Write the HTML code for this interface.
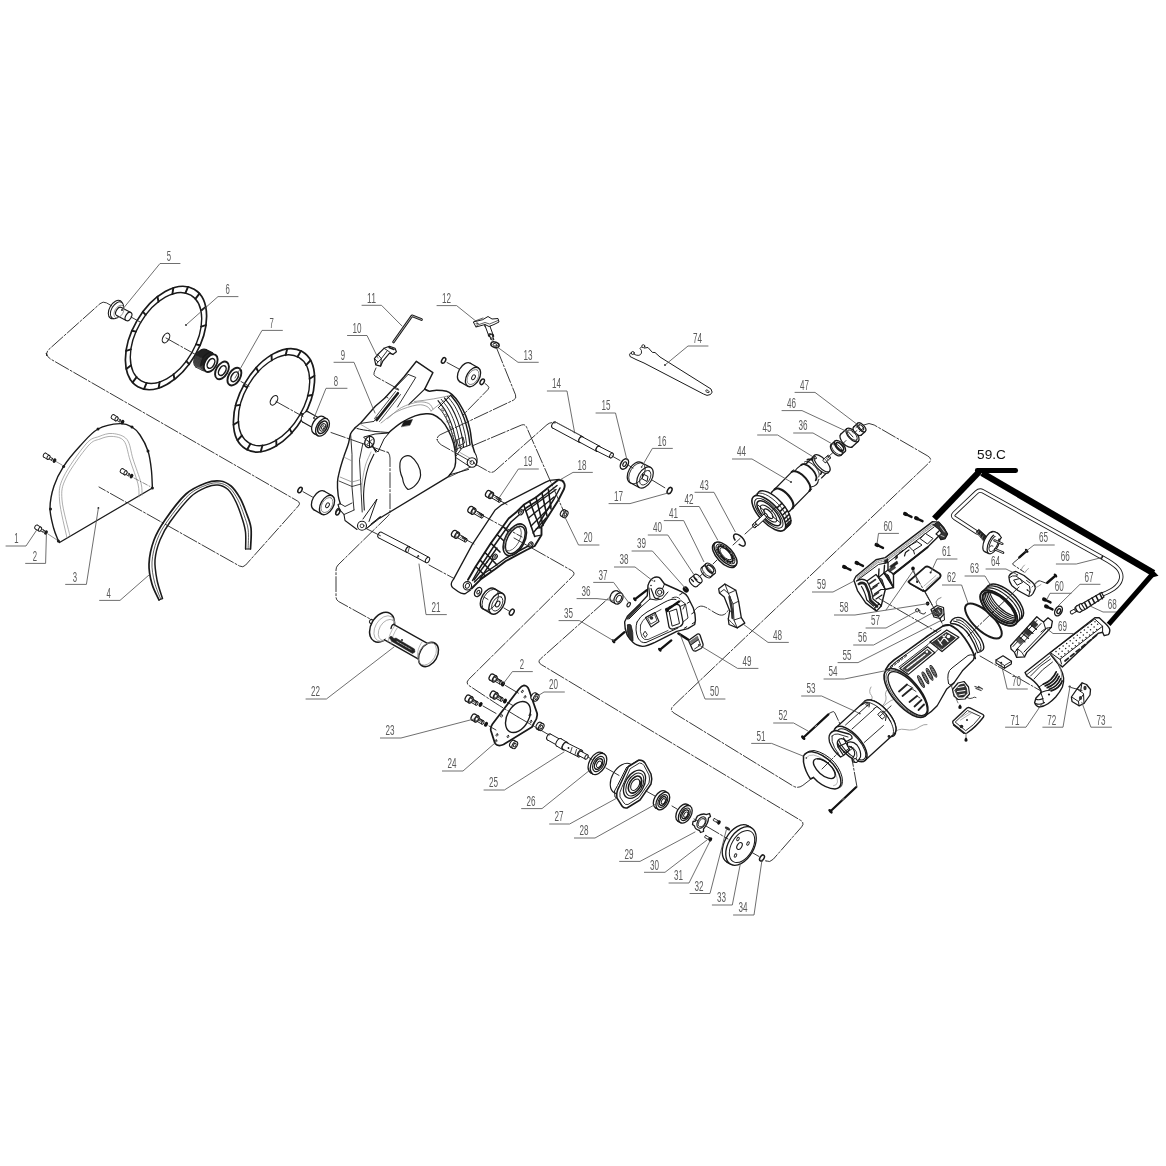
<!DOCTYPE html>
<html><head><meta charset="utf-8"><title>Exploded view</title>
<style>
html,body{margin:0;padding:0;background:#fff}
svg{display:block;will-change:transform}
.lb{font-family:"Liberation Sans",sans-serif;font-size:14.2px;fill:#5a5a5a;text-anchor:middle}
.ld{fill:none;stroke:#555;stroke-width:.85}
.dd{fill:none;stroke:#222;stroke-width:.9;stroke-dasharray:15 2 2 2}
.t59{font-family:"Liberation Sans",sans-serif;font-size:12.7px;fill:#111}
</style></head><body>
<svg width="1166" height="1166" viewBox="0 0 1166 1166" stroke-linecap="round" stroke-linejoin="round">
<ellipse cx="115.5" cy="309.5" rx="10" ry="6.00" transform="rotate(-60 115.5 309.5)" fill="#fff" stroke="#1a1a1a" stroke-width="1.1" />
<ellipse cx="117" cy="310.3" rx="9.2" ry="5.50" transform="rotate(-60 117 310.3)" fill="#fff" stroke="#1a1a1a" stroke-width="1" />
<ellipse cx="119" cy="311.5" rx="4.6" ry="2.80" transform="rotate(-60 119 311.5)" fill="#fff" stroke="#1a1a1a" stroke-width="1.1" />
<path d="M121.3 307.5162831425916 L130.8 312.5162831425916 L126.2 320.4837168574084 L116.7 315.4837168574084 Z" fill="#fff" stroke="none" stroke-width="0" />
<line x1="121.3" y1="307.5" x2="130.8" y2="312.5" stroke="#1a1a1a" stroke-width="1.1" />
<line x1="116.7" y1="315.5" x2="126.2" y2="320.5" stroke="#1a1a1a" stroke-width="1.1" />
<ellipse cx="128.5" cy="316.5" rx="4.6" ry="2.80" transform="rotate(-60 128.5 316.5)" fill="#fff" stroke="#1a1a1a" stroke-width="1.1" />
<ellipse cx="119" cy="311.5" rx="7" ry="4.20" transform="rotate(-60 119 311.5)" fill="none" stroke="#777" stroke-width="0.7" />
<circle cx="122" cy="310" r="0.9" fill="#1a1a1a"/>
<ellipse cx="166" cy="338" rx="56.3" ry="33.78" transform="rotate(-60 166 338)" fill="#fff" stroke="#1a1a1a" stroke-width="1.7" />
<ellipse cx="166" cy="338" rx="49.5" ry="29.70" transform="rotate(-60 166 338)" fill="none" stroke="#1a1a1a" stroke-width="1.4" />
<line x1="199.4" y1="293.6" x2="195.4" y2="298.9" stroke="#1a1a1a" stroke-width="1.9" />
<line x1="205.7" y1="307.0" x2="200.9" y2="310.7" stroke="#1a1a1a" stroke-width="1.9" />
<line x1="205.9" y1="325.1" x2="201.1" y2="326.7" stroke="#1a1a1a" stroke-width="1.9" />
<line x1="200.1" y1="345.2" x2="196.0" y2="344.4" stroke="#1a1a1a" stroke-width="1.9" />
<line x1="189.1" y1="364.2" x2="186.3" y2="361.1" stroke="#1a1a1a" stroke-width="1.9" />
<line x1="174.5" y1="379.2" x2="173.5" y2="374.3" stroke="#1a1a1a" stroke-width="1.9" />
<line x1="158.7" y1="388.0" x2="159.6" y2="381.9" stroke="#1a1a1a" stroke-width="1.9" />
<line x1="144.0" y1="389.1" x2="146.6" y2="382.9" stroke="#1a1a1a" stroke-width="1.9" />
<line x1="132.6" y1="382.4" x2="136.6" y2="377.1" stroke="#1a1a1a" stroke-width="1.9" />
<line x1="126.3" y1="369.0" x2="131.1" y2="365.3" stroke="#1a1a1a" stroke-width="1.9" />
<line x1="126.1" y1="350.9" x2="130.9" y2="349.3" stroke="#1a1a1a" stroke-width="1.9" />
<line x1="131.9" y1="330.8" x2="136.0" y2="331.6" stroke="#1a1a1a" stroke-width="1.9" />
<line x1="142.9" y1="311.8" x2="145.7" y2="314.9" stroke="#1a1a1a" stroke-width="1.9" />
<line x1="157.5" y1="296.8" x2="158.5" y2="301.7" stroke="#1a1a1a" stroke-width="1.9" />
<line x1="173.3" y1="288.0" x2="172.4" y2="294.1" stroke="#1a1a1a" stroke-width="1.9" />
<line x1="188.0" y1="286.9" x2="185.4" y2="293.1" stroke="#1a1a1a" stroke-width="1.9" />
<ellipse cx="166" cy="338" rx="5.3" ry="3.10" transform="rotate(-60 166 338)" fill="#fff" stroke="#1a1a1a" stroke-width="1.1" />
<circle cx="186" cy="325" r="0.9" fill="#1a1a1a"/>
<ellipse cx="201" cy="358.2" rx="10" ry="6.00" transform="rotate(-60 201 358.2)" fill="#222" stroke="#1a1a1a" stroke-width="1.2" />
<path d="M206.0 349.5397459621556 L212.5 352.93974596215565 L202.5 370.2602540378444 L196.0 366.86025403784436 Z" fill="#222" stroke="none" stroke-width="0" />
<line x1="206.0" y1="349.5" x2="212.5" y2="352.9" stroke="#1a1a1a" stroke-width="1.2" />
<line x1="196.0" y1="366.9" x2="202.5" y2="370.3" stroke="#1a1a1a" stroke-width="1.2" />
<ellipse cx="207.5" cy="361.6" rx="10" ry="6.00" transform="rotate(-60 207.5 361.6)" fill="#222" stroke="#1a1a1a" stroke-width="1.2" />
<path d="M206.5 361.4 L205.8 362.5 L205.0 363.5 L204.2 364.5 L203.3 365.3 L202.4 366.1 L201.4 366.6 L200.5 367.1 L199.6 367.4 L198.7 367.5 L197.8 367.5 L197.0 367.4 L196.3 367.1 L195.7 366.6 L195.1 366.0 L194.7 365.3 L194.4 364.4 L194.2 363.4 L194.1 362.4 L194.1 361.3 L194.3 360.1 L194.6 358.9 L195.0 357.7 L195.5 356.6 L196.1 355.4" fill="none" stroke="#888" stroke-width="0.35" />
<path d="M207.4 361.9 L206.7 363.0 L206.0 364.0 L205.1 365.0 L204.2 365.8 L203.3 366.6 L202.4 367.1 L201.4 367.6 L200.5 367.9 L199.6 368.0 L198.8 368.0 L198.0 367.9 L197.2 367.6 L196.6 367.1 L196.1 366.5 L195.6 365.8 L195.3 364.9 L195.1 363.9 L195.0 362.9 L195.1 361.8 L195.2 360.6 L195.5 359.4 L195.9 358.2 L196.4 357.1 L197.1 355.9" fill="none" stroke="#888" stroke-width="0.35" />
<path d="M208.4 362.4 L207.7 363.5 L206.9 364.5 L206.1 365.5 L205.2 366.3 L204.3 367.1 L203.3 367.6 L202.4 368.1 L201.5 368.4 L200.6 368.5 L199.7 368.5 L198.9 368.4 L198.2 368.1 L197.6 367.6 L197.0 367.0 L196.6 366.3 L196.3 365.4 L196.1 364.4 L196.0 363.4 L196.0 362.3 L196.2 361.1 L196.5 359.9 L196.9 358.7 L197.4 357.6 L198.0 356.4" fill="none" stroke="#888" stroke-width="0.35" />
<path d="M209.3 362.9 L208.6 364.0 L207.9 365.0 L207.0 366.0 L206.2 366.8 L205.2 367.6 L204.3 368.1 L203.3 368.6 L202.4 368.9 L201.5 369.0 L200.7 369.0 L199.9 368.9 L199.2 368.6 L198.5 368.1 L198.0 367.5 L197.5 366.8 L197.2 365.9 L197.0 364.9 L196.9 363.9 L197.0 362.8 L197.2 361.6 L197.4 360.4 L197.8 359.2 L198.3 358.1 L199.0 356.9" fill="none" stroke="#888" stroke-width="0.35" />
<path d="M210.3 363.4 L209.6 364.5 L208.8 365.5 L208.0 366.5 L207.1 367.3 L206.2 368.1 L205.2 368.6 L204.3 369.1 L203.4 369.4 L202.5 369.5 L201.6 369.5 L200.8 369.4 L200.1 369.1 L199.5 368.6 L198.9 368.0 L198.5 367.3 L198.2 366.4 L198.0 365.4 L197.9 364.4 L197.9 363.3 L198.1 362.1 L198.4 360.9 L198.8 359.7 L199.3 358.6 L199.9 357.4" fill="none" stroke="#888" stroke-width="0.35" />
<path d="M211.2 363.9 L210.5 365.0 L209.8 366.0 L208.9 367.0 L208.1 367.8 L207.1 368.6 L206.2 369.1 L205.2 369.6 L204.3 369.9 L203.4 370.0 L202.6 370.0 L201.8 369.9 L201.1 369.6 L200.4 369.1 L199.9 368.5 L199.4 367.8 L199.1 366.9 L198.9 365.9 L198.8 364.9 L198.9 363.8 L199.1 362.6 L199.3 361.4 L199.7 360.2 L200.2 359.1 L200.9 357.9" fill="none" stroke="#888" stroke-width="0.35" />
<path d="M212.2 364.4 L211.5 365.5 L210.7 366.5 L209.9 367.5 L209.0 368.3 L208.1 369.1 L207.1 369.6 L206.2 370.1 L205.3 370.4 L204.4 370.5 L203.5 370.5 L202.7 370.4 L202.0 370.1 L201.4 369.6 L200.8 369.0 L200.4 368.3 L200.1 367.4 L199.9 366.4 L199.8 365.4 L199.8 364.3 L200.0 363.1 L200.3 361.9 L200.7 360.7 L201.2 359.6 L201.8 358.4" fill="none" stroke="#888" stroke-width="0.35" />
<ellipse cx="210.7" cy="363.2" rx="9.6" ry="5.80" transform="rotate(-60 210.7 363.2)" fill="#fff" stroke="#1a1a1a" stroke-width="1.9" />
<ellipse cx="211" cy="363.4" rx="5.3" ry="3.20" transform="rotate(-60 211 363.4)" fill="none" stroke="#1a1a1a" stroke-width="1.5" />
<ellipse cx="222" cy="370.4" rx="9.6" ry="5.80" transform="rotate(-60 222 370.4)" fill="#fff" stroke="#1a1a1a" stroke-width="1.9" />
<ellipse cx="222.3" cy="370.6" rx="5.3" ry="3.20" transform="rotate(-60 222.3 370.6)" fill="none" stroke="#1a1a1a" stroke-width="1.5" />
<ellipse cx="234.4" cy="376.6" rx="9.6" ry="5.80" transform="rotate(-60 234.4 376.6)" fill="#fff" stroke="#1a1a1a" stroke-width="1.9" />
<ellipse cx="234.7" cy="376.8" rx="5.3" ry="3.20" transform="rotate(-60 234.7 376.8)" fill="none" stroke="#1a1a1a" stroke-width="1.5" />
<ellipse cx="274" cy="400.3" rx="56.3" ry="33.78" transform="rotate(-60 274 400.3)" fill="#fff" stroke="#1a1a1a" stroke-width="1.7" />
<ellipse cx="274" cy="400.3" rx="49.5" ry="29.70" transform="rotate(-60 274 400.3)" fill="none" stroke="#1a1a1a" stroke-width="1.4" />
<line x1="310.5" y1="360.3" x2="306.1" y2="365.1" stroke="#1a1a1a" stroke-width="1.9" />
<line x1="314.5" y1="375.8" x2="309.6" y2="378.8" stroke="#1a1a1a" stroke-width="1.9" />
<line x1="312.4" y1="395.0" x2="307.8" y2="395.7" stroke="#1a1a1a" stroke-width="1.9" />
<line x1="304.4" y1="415.1" x2="300.8" y2="413.3" stroke="#1a1a1a" stroke-width="1.9" />
<line x1="291.8" y1="432.9" x2="289.7" y2="428.9" stroke="#1a1a1a" stroke-width="1.9" />
<line x1="276.5" y1="445.7" x2="276.2" y2="440.2" stroke="#1a1a1a" stroke-width="1.9" />
<line x1="260.8" y1="451.6" x2="262.4" y2="445.4" stroke="#1a1a1a" stroke-width="1.9" />
<line x1="247.1" y1="449.7" x2="250.4" y2="443.8" stroke="#1a1a1a" stroke-width="1.9" />
<line x1="237.5" y1="440.3" x2="241.9" y2="435.5" stroke="#1a1a1a" stroke-width="1.9" />
<line x1="233.5" y1="424.8" x2="238.4" y2="421.8" stroke="#1a1a1a" stroke-width="1.9" />
<line x1="235.6" y1="405.6" x2="240.2" y2="404.9" stroke="#1a1a1a" stroke-width="1.9" />
<line x1="243.6" y1="385.5" x2="247.2" y2="387.3" stroke="#1a1a1a" stroke-width="1.9" />
<line x1="256.2" y1="367.7" x2="258.3" y2="371.7" stroke="#1a1a1a" stroke-width="1.9" />
<line x1="271.5" y1="354.9" x2="271.8" y2="360.4" stroke="#1a1a1a" stroke-width="1.9" />
<line x1="287.2" y1="349.0" x2="285.6" y2="355.2" stroke="#1a1a1a" stroke-width="1.9" />
<line x1="300.9" y1="350.9" x2="297.6" y2="356.8" stroke="#1a1a1a" stroke-width="1.9" />
<ellipse cx="274" cy="400.3" rx="5.3" ry="3.10" transform="rotate(-60 274 400.3)" fill="#fff" stroke="#1a1a1a" stroke-width="1.1" />
<ellipse cx="305.5" cy="417" rx="5.8" ry="3.50" transform="rotate(-60 305.5 417)" fill="#fff" stroke="#1a1a1a" stroke-width="1.1" />
<path d="M308.4 411.97705265805024 L319.9 418.47705265805024 L314.1 428.52294734194976 L302.6 422.02294734194976 Z" fill="#fff" stroke="none" stroke-width="0" />
<line x1="308.4" y1="412.0" x2="319.9" y2="418.5" stroke="#1a1a1a" stroke-width="1.1" />
<line x1="302.6" y1="422.0" x2="314.1" y2="428.5" stroke="#1a1a1a" stroke-width="1.1" />
<ellipse cx="317" cy="423.5" rx="5.8" ry="3.50" transform="rotate(-60 317 423.5)" fill="#fff" stroke="#1a1a1a" stroke-width="1.1" />
<ellipse cx="318.5" cy="425" rx="9.6" ry="5.80" transform="rotate(-60 318.5 425)" fill="#fff" stroke="#1a1a1a" stroke-width="1.3" />
<path d="M323.3 416.6861561236694 L327.3 418.9861561236694 L317.7 435.61384387633063 L313.7 433.3138438763306 Z" fill="#fff" stroke="none" stroke-width="0" />
<line x1="323.3" y1="416.7" x2="327.3" y2="419.0" stroke="#1a1a1a" stroke-width="1.3" />
<line x1="313.7" y1="433.3" x2="317.7" y2="435.6" stroke="#1a1a1a" stroke-width="1.3" />
<ellipse cx="322.5" cy="427.3" rx="9.6" ry="5.80" transform="rotate(-60 322.5 427.3)" fill="#fff" stroke="#1a1a1a" stroke-width="1.3" />
<ellipse cx="322.5" cy="427.3" rx="6.8" ry="4.10" transform="rotate(-60 322.5 427.3)" fill="none" stroke="#1a1a1a" stroke-width="1.6" />
<ellipse cx="322.7" cy="427.4" rx="4" ry="2.40" transform="rotate(-60 322.7 427.4)" fill="none" stroke="#1a1a1a" stroke-width="1" />
<ellipse cx="322.8" cy="427.5" rx="2" ry="1.20" transform="rotate(-60 322.8 427.5)" fill="none" stroke="#1a1a1a" stroke-width="0.9" />
<circle cx="314" cy="418" r="0.9" fill="#1a1a1a"/>
<path d="M58.4 541.0 C57.6 538.8 55.0 533.5 53.6 528.0 C52.2 522.5 49.9 515.0 50.0 508.0 C50.1 501.0 51.7 492.9 54.0 486.0 C56.3 479.1 59.3 473.1 63.6 466.4 C67.9 459.7 74.3 452.2 80.0 446.0 C85.7 439.8 91.3 432.7 98.0 429.0 C104.7 425.3 114.3 423.9 120.0 423.6 C125.7 423.3 128.7 425.1 132.0 427.0 C135.3 428.9 137.3 431.0 140.0 435.0 C142.7 439.0 146.1 445.2 148.0 451.0 C149.9 456.8 150.7 463.8 151.4 470.0 C152.1 476.2 152.2 485.0 152.4 488.0 L59.5 542.5 Z" fill="#fff" stroke="#1a1a1a" stroke-width="1.4" />
<path d="M70.0 536.0 C68.7 530.0 62.7 509.7 62.0 500.0 C61.3 490.3 61.7 487.0 66.0 478.0 C70.3 469.0 82.3 452.5 88.0 446.0 C93.7 439.5 96.0 440.6 100.0 439.0 C104.0 437.4 108.0 436.1 112.0 436.4 C116.0 436.7 121.0 437.1 124.0 441.0 C127.0 444.9 127.7 452.8 130.0 460.0 C132.3 467.2 136.5 477.8 138.0 484.0 C139.5 490.2 138.8 494.8 139.0 497.0" fill="none" stroke="#999" stroke-width="0.8" />
<path d="M67.0 538.0 C65.8 531.7 60.1 510.2 59.5 500.0 C58.9 489.8 59.1 486.3 63.5 477.0 C67.9 467.7 80.1 450.8 86.0 444.0 C91.9 437.2 94.6 438.2 99.0 436.5 C103.4 434.8 107.8 433.0 112.5 433.5 C117.2 434.0 123.6 435.2 127.0 439.5 C130.4 443.8 130.7 451.8 133.0 459.0 C135.3 466.2 139.5 477.0 141.0 483.0 C142.5 489.0 141.8 493.0 142.0 495.0" fill="none" stroke="#999" stroke-width="0.8" />
<circle cx="98.4" cy="508" r="0.9" fill="#1a1a1a"/>
<circle cx="63.6" cy="466.4" r="1.5" fill="#1a1a1a"/>
<circle cx="98" cy="429" r="1.5" fill="#1a1a1a"/>
<circle cx="132" cy="427" r="1.5" fill="#1a1a1a"/>
<circle cx="148" cy="451" r="1.5" fill="#1a1a1a"/>
<circle cx="152.4" cy="488" r="1.5" fill="#1a1a1a"/>
<circle cx="58.4" cy="541" r="1.5" fill="#1a1a1a"/>
<circle cx="50.5" cy="509" r="1.5" fill="#1a1a1a"/>
<ellipse cx="48.5" cy="457.4" rx="1.1" ry="0.70" transform="rotate(-60 48.5 457.4)" fill="#fff" stroke="#1a1a1a" stroke-width="0.8" />
<path d="M49.05 456.4473720558371 L52.55 458.4473720558371 L51.45 460.35262794416286 L47.95 458.35262794416286 Z" fill="#fff" stroke="none" stroke-width="0" />
<line x1="49.0" y1="456.4" x2="52.5" y2="458.4" stroke="#1a1a1a" stroke-width="0.8" />
<line x1="48.0" y1="458.4" x2="51.5" y2="460.4" stroke="#1a1a1a" stroke-width="0.8" />
<ellipse cx="52" cy="459.4" rx="1.1" ry="0.70" transform="rotate(-60 52 459.4)" fill="#fff" stroke="#1a1a1a" stroke-width="0.8" />
<ellipse cx="44.8" cy="455.2" rx="2.2" ry="1.40" transform="rotate(-60 44.8 455.2)" fill="#fff" stroke="#1a1a1a" stroke-width="1" />
<path d="M45.9 453.2947441116742 L49.6 455.4947441116742 L47.4 459.30525588832575 L43.699999999999996 457.10525588832576 Z" fill="#fff" stroke="none" stroke-width="0" />
<line x1="45.9" y1="453.3" x2="49.6" y2="455.5" stroke="#1a1a1a" stroke-width="1" />
<line x1="43.7" y1="457.1" x2="47.4" y2="459.3" stroke="#1a1a1a" stroke-width="1" />
<ellipse cx="48.5" cy="457.4" rx="2.2" ry="1.40" transform="rotate(-60 48.5 457.4)" fill="#fff" stroke="#1a1a1a" stroke-width="1" />
<ellipse cx="54.5" cy="460.7" rx="1.7" ry="2.4" transform="rotate(30 54.5 460.7)" fill="#1a1a1a"/>
<ellipse cx="125.5" cy="472.9" rx="1.1" ry="0.70" transform="rotate(-60 125.5 472.9)" fill="#fff" stroke="#1a1a1a" stroke-width="0.8" />
<path d="M126.05 471.9473720558371 L129.55 473.9473720558371 L128.45 475.85262794416286 L124.95 473.85262794416286 Z" fill="#fff" stroke="none" stroke-width="0" />
<line x1="126.0" y1="471.9" x2="129.6" y2="473.9" stroke="#1a1a1a" stroke-width="0.8" />
<line x1="125.0" y1="473.9" x2="128.4" y2="475.9" stroke="#1a1a1a" stroke-width="0.8" />
<ellipse cx="129" cy="474.9" rx="1.1" ry="0.70" transform="rotate(-60 129 474.9)" fill="#fff" stroke="#1a1a1a" stroke-width="0.8" />
<ellipse cx="121.8" cy="470.7" rx="2.2" ry="1.40" transform="rotate(-60 121.8 470.7)" fill="#fff" stroke="#1a1a1a" stroke-width="1" />
<path d="M122.89999999999999 468.7947441116742 L126.6 470.9947441116742 L124.4 474.80525588832575 L120.7 472.60525588832576 Z" fill="#fff" stroke="none" stroke-width="0" />
<line x1="122.9" y1="468.8" x2="126.6" y2="471.0" stroke="#1a1a1a" stroke-width="1" />
<line x1="120.7" y1="472.6" x2="124.4" y2="474.8" stroke="#1a1a1a" stroke-width="1" />
<ellipse cx="125.5" cy="472.9" rx="2.2" ry="1.40" transform="rotate(-60 125.5 472.9)" fill="#fff" stroke="#1a1a1a" stroke-width="1" />
<ellipse cx="131.5" cy="476.2" rx="1.7" ry="2.4" transform="rotate(30 131.5 476.2)" fill="#1a1a1a"/>
<ellipse cx="40.0" cy="529.1999999999999" rx="1.1" ry="0.70" transform="rotate(-60 40.0 529.1999999999999)" fill="#fff" stroke="#1a1a1a" stroke-width="0.8" />
<path d="M40.55 528.2473720558371 L44.05 530.2473720558371 L42.95 532.1526279441628 L39.45 530.1526279441628 Z" fill="#fff" stroke="none" stroke-width="0" />
<line x1="40.5" y1="528.2" x2="44.0" y2="530.2" stroke="#1a1a1a" stroke-width="0.8" />
<line x1="39.5" y1="530.2" x2="43.0" y2="532.2" stroke="#1a1a1a" stroke-width="0.8" />
<ellipse cx="43.5" cy="531.1999999999999" rx="1.1" ry="0.70" transform="rotate(-60 43.5 531.1999999999999)" fill="#fff" stroke="#1a1a1a" stroke-width="0.8" />
<ellipse cx="36.3" cy="527.0" rx="2.2" ry="1.40" transform="rotate(-60 36.3 527.0)" fill="#fff" stroke="#1a1a1a" stroke-width="1" />
<path d="M37.4 525.0947441116742 L41.1 527.2947441116742 L38.9 531.1052558883257 L35.199999999999996 528.9052558883258 Z" fill="#fff" stroke="none" stroke-width="0" />
<line x1="37.4" y1="525.1" x2="41.1" y2="527.3" stroke="#1a1a1a" stroke-width="1" />
<line x1="35.2" y1="528.9" x2="38.9" y2="531.1" stroke="#1a1a1a" stroke-width="1" />
<ellipse cx="40.0" cy="529.1999999999999" rx="2.2" ry="1.40" transform="rotate(-60 40.0 529.1999999999999)" fill="#fff" stroke="#1a1a1a" stroke-width="1" />
<ellipse cx="46.0" cy="532.5" rx="1.7" ry="2.4" transform="rotate(30 46.0 532.5)" fill="#1a1a1a"/>
<ellipse cx="116.5" cy="418.9" rx="1.1" ry="0.70" transform="rotate(-60 116.5 418.9)" fill="#fff" stroke="#1a1a1a" stroke-width="0.8" />
<path d="M117.05 417.9473720558371 L120.55 419.9473720558371 L119.45 421.85262794416286 L115.95 419.85262794416286 Z" fill="#fff" stroke="none" stroke-width="0" />
<line x1="117.0" y1="417.9" x2="120.5" y2="419.9" stroke="#1a1a1a" stroke-width="0.8" />
<line x1="116.0" y1="419.9" x2="119.5" y2="421.9" stroke="#1a1a1a" stroke-width="0.8" />
<ellipse cx="120" cy="420.9" rx="1.1" ry="0.70" transform="rotate(-60 120 420.9)" fill="#fff" stroke="#1a1a1a" stroke-width="0.8" />
<ellipse cx="112.8" cy="416.7" rx="2.2" ry="1.40" transform="rotate(-60 112.8 416.7)" fill="#fff" stroke="#1a1a1a" stroke-width="1" />
<path d="M113.89999999999999 414.7947441116742 L117.6 416.9947441116742 L115.4 420.80525588832575 L111.7 418.60525588832576 Z" fill="#fff" stroke="none" stroke-width="0" />
<line x1="113.9" y1="414.8" x2="117.6" y2="417.0" stroke="#1a1a1a" stroke-width="1" />
<line x1="111.7" y1="418.6" x2="115.4" y2="420.8" stroke="#1a1a1a" stroke-width="1" />
<ellipse cx="116.5" cy="418.9" rx="2.2" ry="1.40" transform="rotate(-60 116.5 418.9)" fill="#fff" stroke="#1a1a1a" stroke-width="1" />
<ellipse cx="122.5" cy="422.2" rx="1.7" ry="2.4" transform="rotate(30 122.5 422.2)" fill="#1a1a1a"/>
<line x1="56" y1="461.5" x2="62" y2="465" stroke="#444" stroke-width="0.6" />
<line x1="134" y1="478" x2="151" y2="487" stroke="#444" stroke-width="0.6" stroke-dasharray="5 2 1 2"/>
<line x1="48" y1="534" x2="57" y2="540" stroke="#444" stroke-width="0.6" />
<path d="M159.0 600.0 C157.8 597.3 153.7 590.0 152.0 584.0 C150.3 578.0 148.7 571.3 149.0 564.0 C149.3 556.7 151.3 547.3 154.0 540.0 C156.7 532.7 159.7 527.7 165.0 520.0 C170.3 512.3 179.2 500.2 186.0 494.0 C192.8 487.8 200.3 485.2 206.0 483.0 C211.7 480.8 215.8 480.5 220.0 481.0 C224.2 481.5 227.7 483.2 231.0 486.0 C234.3 488.8 237.5 493.7 240.0 498.0 C242.5 502.3 244.2 507.0 246.0 512.0 C247.8 517.0 250.2 521.8 251.0 528.0 C251.8 534.2 250.6 545.5 250.5 549.0" fill="none" stroke="#1a1a1a" stroke-width="1.7" />
<path d="M162.5 598.5 C161.6 595.4 158.2 586.4 157.0 580.0 C155.8 573.6 154.5 566.7 155.0 560.0 C155.5 553.3 157.5 546.3 160.0 540.0 C162.5 533.7 164.8 529.2 170.0 522.0 C175.2 514.8 184.8 502.3 191.0 496.5 C197.2 490.7 202.5 488.9 207.0 487.0 C211.5 485.1 214.5 484.6 218.0 485.0 C221.5 485.4 225.0 486.7 228.0 489.5 C231.0 492.3 233.7 497.2 236.0 502.0 C238.3 506.8 240.4 513.0 242.0 518.0 C243.6 523.0 244.9 526.8 245.5 532.0 C246.1 537.2 245.6 546.2 245.6 549.0" fill="none" stroke="#1a1a1a" stroke-width="1.5" />
<path d="M160.8 599.2 C159.7 596.4 156.0 588.2 154.5 582.0 C153.0 575.8 151.6 569.0 152.0 562.0 C152.4 555.0 154.4 546.8 157.0 540.0 C159.6 533.2 162.2 528.5 167.5 521.0 C172.8 513.5 182.0 501.2 188.5 495.2 C195.0 489.2 201.4 487.0 206.5 485.0 C211.6 483.0 215.2 482.5 219.0 483.0 C222.8 483.5 226.3 484.9 229.5 487.8 C232.7 490.6 235.6 495.5 238.0 500.0 C240.4 504.5 242.3 510.0 244.0 515.0 C245.7 520.0 247.6 524.3 248.2 530.0 C248.9 535.7 248.1 545.8 248.1 549.0" fill="none" stroke="#1a1a1a" stroke-width="0.7" />
<line x1="159" y1="600" x2="162.5" y2="598.5" stroke="#1a1a1a" stroke-width="1.2" />
<line x1="250.5" y1="549" x2="245.6" y2="549" stroke="#1a1a1a" stroke-width="1.2" />
<path d="M355.4 427.5 L360.9 422.7 L375.3 406.3 L384.9 398 L404.1 376.8 L416.4 361.3 L432.9 372.6 L424.7 389.1 L434.3 390.5 L446.6 391.2 L452.1 394.6 L459 402.8 L465.8 415.9 L470 429.6 L472 443.3 L474.5 452 L477 461 L475 467 L470 469.5 L449 476.5 L380 518 L368 530 L358 530 L346 521 L344 515 L339 509 L337.5 500 L337.5 481.7 L339.6 470.8 L343.7 457 L348.5 443.3 L350.6 433.7 Z" fill="#fff" stroke="none" stroke-width="0" />
<path d="M355.4 427.5 L360.9 422.7 L375.3 406.3 L384.9 398 L404.1 376.8 L416.4 361.3 L432.9 372.6 L424.7 389.1" fill="none" stroke="#1a1a1a" stroke-width="1.4" />
<path d="M408.2 374.4 L415.8 377.4 L397.5 407" fill="none" stroke="#1a1a1a" stroke-width="0.9" />
<path d="M424.7 389.1 L408.7 404.6" fill="none" stroke="#1a1a1a" stroke-width="1.2" />
<path d="M408.2 374.4 L394.5 388.4 L398.5 390" fill="none" stroke="#1a1a1a" stroke-width="0.9" />
<path d="M397.9 393.2 L376.7 420" fill="none" stroke="#1a1a1a" stroke-width="2.6" />
<path d="M395.5 391.5 L374.5 418.5" fill="none" stroke="#1a1a1a" stroke-width="0.8" />
<path d="M400.5 394.5 L379.5 421.5" fill="none" stroke="#1a1a1a" stroke-width="0.8" />
<path d="M360.9 423.4 L374 421.4 L377 417" fill="none" stroke="#1a1a1a" stroke-width="0.9" />
<path d="M384 398.5 L386 396.5 L388 398" fill="none" stroke="#1a1a1a" stroke-width="0.8" />
<path d="M424.7 389.1 C425.5 389.5 427.5 391.0 429.5 391.2 C431.5 391.4 433.6 390.2 436.5 390.2 C439.4 390.2 444.0 390.5 446.6 391.2 C449.2 391.9 450.0 392.7 452.1 394.6 C454.2 396.5 456.7 399.2 459.0 402.8 C461.3 406.4 464.0 411.4 465.8 415.9 C467.6 420.4 469.0 425.0 470.0 429.6 C471.0 434.2 471.2 439.6 472.0 443.3 C472.8 447.0 474.1 450.6 474.5 452.0" fill="none" stroke="#1a1a1a" stroke-width="1.5" />
<path d="M387.6 418.6 C389.9 416.8 396.4 410.4 401.4 407.6 C406.4 404.9 413.2 402.8 417.8 402.1 C422.4 401.4 426.3 402.4 428.8 403.5 C431.3 404.6 432.2 408.1 432.9 409.0" fill="none" stroke="#888" stroke-width="0.8" />
<path d="M381.0 423.0 C383.7 421.1 391.0 414.5 397.0 411.5 C403.0 408.5 412.0 405.8 417.0 405.0 C422.0 404.2 424.7 405.5 427.0 406.5 C429.3 407.5 430.3 410.2 431.0 411.0" fill="none" stroke="#888" stroke-width="0.8" />
<path d="M414.5 401.5 C428 400 440 398 450 395.5" fill="none" stroke="#888" stroke-width="0.8" />
<path d="M431 411 L450 395.5" fill="none" stroke="#888" stroke-width="0.8" />
<path d="M375.3 446.0 C377.4 443.9 383.2 437.6 387.6 433.7 C392.0 429.8 396.8 425.7 401.4 422.7 C406.0 419.7 411.0 417.4 415.1 415.9 C419.2 414.4 423.0 414.0 426.0 413.8 C429.0 413.6 430.4 413.5 432.9 414.5 C435.4 415.5 438.7 417.5 441.2 420.0 C443.7 422.5 445.9 425.7 448.0 429.6 C450.1 433.5 452.2 438.7 453.5 443.3 C454.8 447.9 455.4 453.1 455.6 457.0 C455.8 460.9 455.7 463.9 454.9 466.6 C454.1 469.4 451.9 471.8 450.8 473.5 C449.7 475.2 448.5 476.3 448.0 476.9 L380 518" fill="#fff" stroke="#1a1a1a" stroke-width="1.4" />
<path d="M357 428.5 C364 430.5 378 432 389 432.5" fill="none" stroke="#1a1a1a" stroke-width="1" />
<path d="M360 424 L372 431" fill="none" stroke="#888" stroke-width="0.7" />
<path d="M450.8 395.3 C452.0 396.9 455.8 401.2 458.0 405.0 C460.2 408.8 462.3 413.5 464.0 418.0 C465.7 422.5 467.0 427.6 468.0 432.0 C469.0 436.4 469.7 442.6 470.0 444.7" fill="none" stroke="#1a1a1a" stroke-width="1.4" />
<path d="M447.6 396.5 C448.8 398.1 452.6 402.4 454.8 406.2 C457.0 410.0 459.1 414.7 460.8 419.2 C462.5 423.7 463.8 428.8 464.8 433.2 C465.8 437.6 466.5 443.8 466.8 445.9" fill="none" stroke="#1a1a1a" stroke-width="0.9" />
<path d="M444.4 397.9 C445.6 399.5 449.4 403.8 451.6 407.6 C453.8 411.4 455.9 416.1 457.6 420.6 C459.3 425.1 460.6 430.2 461.6 434.6 C462.6 439.1 463.3 445.2 463.6 447.3" fill="none" stroke="#1a1a1a" stroke-width="1.1" />
<path d="M441.2 399.3 C442.4 400.9 446.2 405.2 448.4 409.0 C450.6 412.8 452.7 417.5 454.4 422.0 C456.1 426.5 457.4 431.6 458.4 436.0 C459.4 440.4 460.1 446.6 460.4 448.7" fill="none" stroke="#1a1a1a" stroke-width="0.9" />
<path d="M438.0 400.7 C439.2 402.3 443.0 406.6 445.2 410.4 C447.4 414.2 449.5 418.9 451.2 423.4 C452.9 427.9 454.2 432.9 455.2 437.4 C456.2 441.8 456.9 448.0 457.2 450.1" fill="none" stroke="#1a1a1a" stroke-width="1.1" />
<path d="M438.4 407.6 L450.8 395.3" fill="none" stroke="#1a1a1a" stroke-width="1" />
<path d="M438.4 407.6 C445 413 452 428 456.5 452" fill="none" stroke="#1a1a1a" stroke-width="1" />
<ellipse cx="443.0" cy="409.5" rx="1.6" ry="1.10" transform="rotate(60 443.0 409.5)" fill="none" stroke="#555" stroke-width="0.7" />
<ellipse cx="445.6" cy="415.7" rx="1.6" ry="1.10" transform="rotate(60 445.6 415.7)" fill="none" stroke="#555" stroke-width="0.7" />
<ellipse cx="448.2" cy="421.9" rx="1.6" ry="1.10" transform="rotate(60 448.2 421.9)" fill="none" stroke="#555" stroke-width="0.7" />
<ellipse cx="450.8" cy="428.1" rx="1.6" ry="1.10" transform="rotate(60 450.8 428.1)" fill="none" stroke="#555" stroke-width="0.7" />
<ellipse cx="453.4" cy="434.3" rx="1.6" ry="1.10" transform="rotate(60 453.4 434.3)" fill="none" stroke="#555" stroke-width="0.7" />
<ellipse cx="456.0" cy="440.5" rx="1.6" ry="1.10" transform="rotate(60 456.0 440.5)" fill="none" stroke="#555" stroke-width="0.7" />
<path d="M457 440 L463 437 L464.5 443 L459 446 Z" fill="none" stroke="#1a1a1a" stroke-width="0.9" />
<path d="M455 450 L462 446.5" fill="none" stroke="#1a1a1a" stroke-width="0.9" />
<path d="M456 456 L462 448 L470 445" fill="none" stroke="#1a1a1a" stroke-width="1" />
<path d="M456.5 458 L468 465.5" fill="none" stroke="#1a1a1a" stroke-width="0.9" />
<path d="M460 452.5 L471.5 459" fill="none" stroke="#888" stroke-width="0.7" />
<circle cx="472" cy="462.5" r="4.8" fill="#fff" stroke="#1a1a1a" stroke-width="1.1"/>
<circle cx="472" cy="462.5" r="2" fill="#fff" stroke="#1a1a1a" stroke-width="0.8"/>
<path d="M449.4 474.9 L468.6 469.4" fill="none" stroke="#1a1a1a" stroke-width="1" />
<path d="M449 477 L470.5 467" fill="none" stroke="#1a1a1a" stroke-width="0.8" />
<path d="M474.5 452 C477 456 478 461 476 465.5" fill="none" stroke="#1a1a1a" stroke-width="1.1" />
<path d="M400 463 C401 457 407 454 411 456.5 C416 460 421 468 420.6 475 C420 482 413 489 408 489.5 C405 487 403 482 402.5 478 C400.5 474 399.5 468 400 463 Z" fill="none" stroke="#1a1a1a" stroke-width="1.2" />
<path d="M401.5 426.5 L404 421 L412.5 419.5 L410 425 Z" fill="#1a1a1a" stroke="#1a1a1a" stroke-width="0.5" />
<path d="M355.4 427.5 C354.6 428.5 351.8 431.1 350.6 433.7 C349.5 436.3 349.6 439.4 348.5 443.3 C347.4 447.2 345.2 452.4 343.7 457.0 C342.2 461.6 340.6 466.7 339.6 470.8 C338.6 474.9 337.7 477.6 337.5 481.7 C337.3 485.8 337.7 491.8 338.2 495.5 C338.7 499.2 339.9 502.3 340.3 503.7" fill="none" stroke="#1a1a1a" stroke-width="1.4" />
<path d="M350.6 433.7 L352 454.3 L352 487.2 L354 510" fill="none" stroke="#1a1a1a" stroke-width="0.9" />
<path d="M362.9 443.3 L359.5 459.8 L360.9 487.2 L362.2 512" fill="none" stroke="#1a1a1a" stroke-width="0.9" />
<path d="M373.9 454.3 C373.0 456.4 369.9 462.2 368.4 466.6 C366.9 471.0 365.8 475.8 365.0 480.4 C364.2 485.0 363.7 489.2 363.6 494.1 C363.5 499.0 364.2 507.4 364.3 510.0" fill="none" stroke="#1a1a1a" stroke-width="1.1" />
<path d="M371.0 452.0 C370.1 454.2 366.9 460.3 365.5 465.0 C364.1 469.7 363.2 475.2 362.5 480.0 C361.8 484.8 361.7 491.7 361.5 494.0" fill="none" stroke="#888" stroke-width="0.7" />
<path d="M340 477 L352 482 L361 479.5" fill="none" stroke="#888" stroke-width="0.8" />
<path d="M339 481 L352 486.5 L361 484" fill="none" stroke="#1a1a1a" stroke-width="0.8" />
<path d="M343.7 457 L352 461" fill="none" stroke="#888" stroke-width="0.7" />
<path d="M364 437 L375 434 L389 433 L384 439 L378 452 L374 448 Z" fill="#fff" stroke="#1a1a1a" stroke-width="1" />
<ellipse cx="369.5" cy="442" rx="4.6" ry="5.8" transform="rotate(20 369.5 442)" fill="#fff" stroke="#1a1a1a" stroke-width="1.3"/>
<path d="M366.5 440 L372.5 444 M367 444.5 L372 439.5 M369.5 437.5 L369.5 447" fill="none" stroke="#1a1a1a" stroke-width="1" />
<path d="M372 445 L376 452" fill="none" stroke="#1a1a1a" stroke-width="1.4" />
<path d="M340.3 503.7 L338 504.5 L339.5 509.5 L344 514.5 L345 520.5 L357 529.5" fill="none" stroke="#1a1a1a" stroke-width="1.1" />
<path d="M340.3 503.7 L345 506.5 L352 503" fill="none" stroke="#1a1a1a" stroke-width="0.9" />
<path d="M344 514.5 L352 511 L354 510" fill="none" stroke="#1a1a1a" stroke-width="0.9" />
<circle cx="362" cy="525.8" r="4.5" fill="#fff" stroke="#1a1a1a" stroke-width="1.1"/>
<circle cx="362" cy="525.8" r="1.9" fill="#fff" stroke="#1a1a1a" stroke-width="0.8"/>
<path d="M363 519 L377 499 L369 521.5" fill="#fff" stroke="#1a1a1a" stroke-width="1" />
<path d="M367.5 527.5 L380.5 516.5 L371 524" fill="#fff" stroke="#1a1a1a" stroke-width="1" />
<path d="M366 529 L380 518" fill="none" stroke="#1a1a1a" stroke-width="1" />
<ellipse cx="338" cy="511" rx="2.8" ry="1.80" transform="rotate(-60 338 511)" fill="none" stroke="#1a1a1a" stroke-width="1" />
<path d="M467 593.5 L464.7 593.3 L451.7 585.8 L451.7 584.4 L453.7 578.9 L472.2 544.6 L494.9 510.3 L501.7 504.8 L545.7 482.2 L549.8 480.4 L559.4 479.4 L563.5 482.2 L564.9 487 L558 500.7 L541.5 526.7 L541.5 535 L534.7 546 L526.5 550 L505.9 561 L494.9 569.3 L481.2 578.9 L471.6 588.5 Z" fill="#fff" stroke="none" stroke-width="0" />
<path d="M470.5 590 L465.5 593.5 Q462 594.5 458 591.5 L452.5 587.5 Q450.3 585 452 581.5 L453.7 578.9 L472.2 544.6 L494.9 510.3 L501.7 504.8 L545.7 482.2 L549.8 480.4 L559.4 479.4" fill="none" stroke="#1a1a1a" stroke-width="1.3" />
<path d="M468 579.8 L475.7 566.5 L490.8 543.2 L508.6 518.5 L516.8 511.7 L523.7 504.8 L536.1 497.2 L558 480.1 Q562.5 479.5 563.8 482.5 Q565.5 485 564 489 L558 500.7 L541.5 526.7 L541.5 535 L534.7 546 L526.5 550 L505.9 561 L494.9 569.3 L481.2 578.9 L471.6 588.5" fill="none" stroke="#1a1a1a" stroke-width="1.9" />
<path d="M472.5 580.5 L479 569 L494 546 L511 522 L519 515 L526 508 L538 500.5 L557 485.5" fill="none" stroke="#1a1a1a" stroke-width="1.5" />
<path d="M560 488 L554 499 L538.5 524 M530 545 L506 558 L495 566 L481 575.5 L474.5 582" fill="none" stroke="#1a1a1a" stroke-width="1.5" />
<line x1="523.7" y1="504.8" x2="534.7" y2="536.4" stroke="#1a1a1a" stroke-width="1.6" />
<line x1="529.5" y1="501" x2="540" y2="528" stroke="#1a1a1a" stroke-width="1.6" />
<line x1="536" y1="497.2" x2="543" y2="525.4" stroke="#1a1a1a" stroke-width="1.6" />
<line x1="548.4" y1="489.7" x2="551" y2="509" stroke="#1a1a1a" stroke-width="1.6" />
<line x1="542" y1="493" x2="547" y2="516" stroke="#1a1a1a" stroke-width="1.6" />
<line x1="526" y1="511" x2="556" y2="489.5" stroke="#1a1a1a" stroke-width="1.4" />
<line x1="528.5" y1="518" x2="554" y2="497" stroke="#1a1a1a" stroke-width="1.4" />
<line x1="531" y1="526" x2="551" y2="506" stroke="#1a1a1a" stroke-width="1.4" />
<line x1="533" y1="533" x2="546" y2="518" stroke="#1a1a1a" stroke-width="1.4" />
<line x1="475.7" y1="566.5" x2="485.3" y2="576" stroke="#1a1a1a" stroke-width="1.6" />
<line x1="480" y1="560" x2="491" y2="571" stroke="#1a1a1a" stroke-width="1.6" />
<line x1="485" y1="552.5" x2="497" y2="565" stroke="#1a1a1a" stroke-width="1.6" />
<line x1="490.8" y1="543.2" x2="500" y2="552" stroke="#1a1a1a" stroke-width="1.6" />
<line x1="497" y1="534.5" x2="504" y2="541" stroke="#1a1a1a" stroke-width="1.6" />
<line x1="503" y1="526.5" x2="508.5" y2="532" stroke="#1a1a1a" stroke-width="1.6" />
<line x1="474" y1="580" x2="487" y2="562" stroke="#1a1a1a" stroke-width="1.4" />
<line x1="480" y1="579" x2="494" y2="558" stroke="#1a1a1a" stroke-width="1.4" />
<line x1="487" y1="562" x2="497" y2="548" stroke="#1a1a1a" stroke-width="1.4" />
<ellipse cx="514.8" cy="539.8" rx="17.2" ry="9.60" transform="rotate(-62 514.8 539.8)" fill="#fff" stroke="#1a1a1a" stroke-width="1.6" />
<ellipse cx="515.3" cy="540" rx="14.8" ry="8.00" transform="rotate(-62 515.3 540)" fill="none" stroke="#1a1a1a" stroke-width="1.5" />
<path d="M507.5 551.5 A14.8 8 -62 0 1 511 527.5" fill="none" stroke="#1a1a1a" stroke-width="0.1" />
<ellipse cx="512.8" cy="538.8" rx="13.2" ry="6.80" transform="rotate(-62 512.8 538.8)" fill="none" stroke="#555" stroke-width="0.8" />
<ellipse cx="521" cy="512.3" rx="2.8" ry="2.10" transform="rotate(-50 521 512.3)" fill="#fff" stroke="#1a1a1a" stroke-width="1.1" />
<ellipse cx="521" cy="512.3" rx="1.3" ry="0.90" transform="rotate(-50 521 512.3)" fill="none" stroke="#1a1a1a" stroke-width="0.8" />
<ellipse cx="530.6" cy="544.6" rx="2.8" ry="2.10" transform="rotate(-50 530.6 544.6)" fill="#fff" stroke="#1a1a1a" stroke-width="1.1" />
<ellipse cx="530.6" cy="544.6" rx="1.3" ry="0.90" transform="rotate(-50 530.6 544.6)" fill="none" stroke="#1a1a1a" stroke-width="0.8" />
<ellipse cx="494.9" cy="556.7" rx="2.8" ry="2.10" transform="rotate(-50 494.9 556.7)" fill="#fff" stroke="#1a1a1a" stroke-width="1.1" />
<ellipse cx="494.9" cy="556.7" rx="1.3" ry="0.90" transform="rotate(-50 494.9 556.7)" fill="none" stroke="#1a1a1a" stroke-width="0.8" />
<path d="M534.7 536.4 L541.5 535 M536 529 L541 527" fill="none" stroke="#1a1a1a" stroke-width="1.1" />
<circle cx="467.4" cy="585.8" r="4.2" fill="#fff" stroke="#1a1a1a" stroke-width="1.1"/>
<ellipse cx="467.4" cy="585.8" rx="2.6" ry="1.90" transform="rotate(-60 467.4 585.8)" fill="none" stroke="#1a1a1a" stroke-width="0.9" />
<ellipse cx="491.1320508075689" cy="495.5" rx="1.8" ry="1.10" transform="rotate(-60 491.1320508075689 495.5)" fill="#fff" stroke="#1a1a1a" stroke-width="1.0" />
<path d="M492.03205080756885 493.94115427318803 L500.6923048454132 498.94115427318803 L498.89230484541326 502.05884572681197 L490.2320508075689 497.05884572681197 Z" fill="#fff" stroke="none" stroke-width="0" />
<line x1="492.0" y1="493.9" x2="500.7" y2="498.9" stroke="#1a1a1a" stroke-width="1.0" />
<line x1="490.2" y1="497.1" x2="498.9" y2="502.1" stroke="#1a1a1a" stroke-width="1.0" />
<ellipse cx="499.79230484541324" cy="500.5" rx="1.8" ry="1.10" transform="rotate(-60 499.79230484541324 500.5)" fill="#fff" stroke="#1a1a1a" stroke-width="1.0" />
<path d="M497.5 499.2 L497.7 499.0 L497.8 498.8 L498.0 498.6 L498.1 498.5 L498.3 498.4 L498.5 498.3 L498.6 498.2 L498.8 498.1 L499.0 498.1 L499.1 498.1 L499.3 498.1 L499.4 498.2 L499.5 498.3 L499.6 498.4 L499.7 498.5 L499.7 498.7 L499.8 498.8 L499.8 499.0 L499.8 499.2 L499.8 499.4 L499.7 499.7 L499.6 499.9 L499.6 500.1 L499.4 500.3" fill="none" stroke="#1a1a1a" stroke-width="0.9" />
<path d="M496.2 498.4 L496.3 498.2 L496.4 498.0 L496.6 497.8 L496.7 497.7 L496.9 497.6 L497.1 497.5 L497.2 497.4 L497.4 497.3 L497.6 497.3 L497.7 497.3 L497.9 497.3 L498.0 497.4 L498.1 497.5 L498.2 497.6 L498.3 497.7 L498.4 497.9 L498.4 498.0 L498.4 498.2 L498.4 498.4 L498.4 498.6 L498.3 498.9 L498.3 499.1 L498.2 499.3 L498.1 499.5" fill="none" stroke="#1a1a1a" stroke-width="0.9" />
<path d="M494.8 497.6 L494.9 497.4 L495.0 497.2 L495.2 497.0 L495.3 496.9 L495.5 496.8 L495.7 496.7 L495.9 496.6 L496.0 496.5 L496.2 496.5 L496.3 496.5 L496.5 496.5 L496.6 496.6 L496.7 496.7 L496.8 496.8 L496.9 496.9 L497.0 497.1 L497.0 497.2 L497.0 497.4 L497.0 497.6 L497.0 497.8 L496.9 498.1 L496.9 498.3 L496.8 498.5 L496.7 498.7" fill="none" stroke="#1a1a1a" stroke-width="0.9" />
<ellipse cx="487.841154273188" cy="493.6" rx="3.3" ry="2.00" transform="rotate(-60 487.841154273188 493.6)" fill="#fff" stroke="#1a1a1a" stroke-width="1.2" />
<path d="M489.491154273188 490.74211616751137 L492.78205080756885 492.64211616751135 L489.4820508075689 498.35788383248865 L486.19115427318803 496.4578838324887 Z" fill="#fff" stroke="none" stroke-width="0" />
<line x1="489.5" y1="490.7" x2="492.8" y2="492.6" stroke="#1a1a1a" stroke-width="1.2" />
<line x1="486.2" y1="496.5" x2="489.5" y2="498.4" stroke="#1a1a1a" stroke-width="1.2" />
<ellipse cx="491.1320508075689" cy="495.5" rx="3.3" ry="2.00" transform="rotate(-60 491.1320508075689 495.5)" fill="#fff" stroke="#1a1a1a" stroke-width="1.2" />
<ellipse cx="491.1320508075689" cy="495.5" rx="2.1" ry="1.30" transform="rotate(-60 491.1320508075689 495.5)" fill="none" stroke="#1a1a1a" stroke-width="0.7" />
<ellipse cx="473.5320508075689" cy="511.3" rx="1.8" ry="1.10" transform="rotate(-60 473.5320508075689 511.3)" fill="#fff" stroke="#1a1a1a" stroke-width="1.0" />
<path d="M474.4320508075689 509.74115427318804 L483.09230484541325 514.7411542731879 L481.2923048454133 517.858845726812 L472.63205080756893 512.858845726812 Z" fill="#fff" stroke="none" stroke-width="0" />
<line x1="474.4" y1="509.7" x2="483.1" y2="514.7" stroke="#1a1a1a" stroke-width="1.0" />
<line x1="472.6" y1="512.9" x2="481.3" y2="517.9" stroke="#1a1a1a" stroke-width="1.0" />
<ellipse cx="482.1923048454133" cy="516.3" rx="1.8" ry="1.10" transform="rotate(-60 482.1923048454133 516.3)" fill="#fff" stroke="#1a1a1a" stroke-width="1.0" />
<path d="M479.9 515.0 L480.1 514.8 L480.2 514.6 L480.4 514.4 L480.5 514.3 L480.7 514.2 L480.9 514.1 L481.0 514.0 L481.2 513.9 L481.4 513.9 L481.5 513.9 L481.7 513.9 L481.8 514.0 L481.9 514.1 L482.0 514.2 L482.1 514.3 L482.1 514.5 L482.2 514.6 L482.2 514.8 L482.2 515.0 L482.2 515.2 L482.1 515.5 L482.0 515.7 L482.0 515.9 L481.8 516.1" fill="none" stroke="#1a1a1a" stroke-width="0.9" />
<path d="M478.6 514.2 L478.7 514.0 L478.8 513.8 L479.0 513.6 L479.1 513.5 L479.3 513.4 L479.5 513.3 L479.6 513.2 L479.8 513.1 L480.0 513.1 L480.1 513.1 L480.3 513.1 L480.4 513.2 L480.5 513.3 L480.6 513.4 L480.7 513.5 L480.8 513.7 L480.8 513.8 L480.8 514.0 L480.8 514.2 L480.8 514.4 L480.7 514.7 L480.7 514.9 L480.6 515.1 L480.5 515.3" fill="none" stroke="#1a1a1a" stroke-width="0.9" />
<path d="M477.2 513.4 L477.3 513.2 L477.4 513.0 L477.6 512.8 L477.7 512.7 L477.9 512.6 L478.1 512.5 L478.3 512.4 L478.4 512.3 L478.6 512.3 L478.7 512.3 L478.9 512.3 L479.0 512.4 L479.1 512.5 L479.2 512.6 L479.3 512.7 L479.4 512.9 L479.4 513.0 L479.4 513.2 L479.4 513.4 L479.4 513.6 L479.3 513.9 L479.3 514.1 L479.2 514.3 L479.1 514.5" fill="none" stroke="#1a1a1a" stroke-width="0.9" />
<ellipse cx="470.24115427318804" cy="509.40000000000003" rx="3.3" ry="2.00" transform="rotate(-60 470.24115427318804 509.40000000000003)" fill="#fff" stroke="#1a1a1a" stroke-width="1.2" />
<path d="M471.891154273188 506.5421161675114 L475.1820508075689 508.44211616751136 L471.88205080756893 514.1578838324887 L468.59115427318807 512.2578838324887 Z" fill="#fff" stroke="none" stroke-width="0" />
<line x1="471.9" y1="506.5" x2="475.2" y2="508.4" stroke="#1a1a1a" stroke-width="1.2" />
<line x1="468.6" y1="512.3" x2="471.9" y2="514.2" stroke="#1a1a1a" stroke-width="1.2" />
<ellipse cx="473.5320508075689" cy="511.3" rx="3.3" ry="2.00" transform="rotate(-60 473.5320508075689 511.3)" fill="#fff" stroke="#1a1a1a" stroke-width="1.2" />
<ellipse cx="473.5320508075689" cy="511.3" rx="2.1" ry="1.30" transform="rotate(-60 473.5320508075689 511.3)" fill="none" stroke="#1a1a1a" stroke-width="0.7" />
<ellipse cx="457.1320508075689" cy="535.3" rx="1.8" ry="1.10" transform="rotate(-60 457.1320508075689 535.3)" fill="#fff" stroke="#1a1a1a" stroke-width="1.0" />
<path d="M458.03205080756885 533.7411542731879 L466.6923048454132 538.7411542731879 L464.89230484541326 541.858845726812 L456.2320508075689 536.858845726812 Z" fill="#fff" stroke="none" stroke-width="0" />
<line x1="458.0" y1="533.7" x2="466.7" y2="538.7" stroke="#1a1a1a" stroke-width="1.0" />
<line x1="456.2" y1="536.9" x2="464.9" y2="541.9" stroke="#1a1a1a" stroke-width="1.0" />
<ellipse cx="465.79230484541324" cy="540.3" rx="1.8" ry="1.10" transform="rotate(-60 465.79230484541324 540.3)" fill="#fff" stroke="#1a1a1a" stroke-width="1.0" />
<path d="M463.5 539.0 L463.7 538.8 L463.8 538.6 L464.0 538.4 L464.1 538.3 L464.3 538.2 L464.5 538.1 L464.6 538.0 L464.8 537.9 L465.0 537.9 L465.1 537.9 L465.3 537.9 L465.4 538.0 L465.5 538.1 L465.6 538.2 L465.7 538.3 L465.7 538.5 L465.8 538.6 L465.8 538.8 L465.8 539.0 L465.8 539.2 L465.7 539.5 L465.6 539.7 L465.6 539.9 L465.4 540.1" fill="none" stroke="#1a1a1a" stroke-width="0.9" />
<path d="M462.2 538.2 L462.3 538.0 L462.4 537.8 L462.6 537.6 L462.7 537.5 L462.9 537.4 L463.1 537.3 L463.2 537.2 L463.4 537.1 L463.6 537.1 L463.7 537.1 L463.9 537.1 L464.0 537.2 L464.1 537.3 L464.2 537.4 L464.3 537.5 L464.4 537.7 L464.4 537.8 L464.4 538.0 L464.4 538.2 L464.4 538.4 L464.3 538.7 L464.3 538.9 L464.2 539.1 L464.1 539.3" fill="none" stroke="#1a1a1a" stroke-width="0.9" />
<path d="M460.8 537.4 L460.9 537.2 L461.0 537.0 L461.2 536.8 L461.3 536.7 L461.5 536.6 L461.7 536.5 L461.9 536.4 L462.0 536.3 L462.2 536.3 L462.3 536.3 L462.5 536.3 L462.6 536.4 L462.7 536.5 L462.8 536.6 L462.9 536.7 L463.0 536.9 L463.0 537.0 L463.0 537.2 L463.0 537.4 L463.0 537.6 L462.9 537.9 L462.9 538.1 L462.8 538.3 L462.7 538.5" fill="none" stroke="#1a1a1a" stroke-width="0.9" />
<ellipse cx="453.841154273188" cy="533.4" rx="3.3" ry="2.00" transform="rotate(-60 453.841154273188 533.4)" fill="#fff" stroke="#1a1a1a" stroke-width="1.2" />
<path d="M455.491154273188 530.5421161675114 L458.78205080756885 532.4421161675114 L455.4820508075689 538.1578838324886 L452.19115427318803 536.2578838324886 Z" fill="#fff" stroke="none" stroke-width="0" />
<line x1="455.5" y1="530.5" x2="458.8" y2="532.4" stroke="#1a1a1a" stroke-width="1.2" />
<line x1="452.2" y1="536.3" x2="455.5" y2="538.2" stroke="#1a1a1a" stroke-width="1.2" />
<ellipse cx="457.1320508075689" cy="535.3" rx="3.3" ry="2.00" transform="rotate(-60 457.1320508075689 535.3)" fill="#fff" stroke="#1a1a1a" stroke-width="1.2" />
<ellipse cx="457.1320508075689" cy="535.3" rx="2.1" ry="1.30" transform="rotate(-60 457.1320508075689 535.3)" fill="none" stroke="#1a1a1a" stroke-width="0.7" />
<ellipse cx="563.0" cy="513.0" rx="3.6" ry="2.23" transform="rotate(-60 563.0 513.0)" fill="#fff" stroke="#1a1a1a" stroke-width="1.1" />
<path d="M564.8 509.882308546376 L567.2 511.2823085463761 L563.6000000000001 517.517691453624 L561.2 516.1176914536239 Z" fill="#fff" stroke="none" stroke-width="0" />
<line x1="564.8" y1="509.9" x2="567.2" y2="511.3" stroke="#1a1a1a" stroke-width="1.1" />
<line x1="561.2" y1="516.1" x2="563.6" y2="517.5" stroke="#1a1a1a" stroke-width="1.1" />
<ellipse cx="565.4000000000001" cy="514.4000000000001" rx="3.6" ry="2.23" transform="rotate(-60 565.4000000000001 514.4000000000001)" fill="#fff" stroke="#1a1a1a" stroke-width="1.1" />
<ellipse cx="565.4000000000001" cy="514.4000000000001" rx="1.8" ry="1.08" transform="rotate(-60 565.4000000000001 514.4000000000001)" fill="none" stroke="#1a1a1a" stroke-width="0.9" />
<ellipse cx="478.1" cy="592" rx="4.9" ry="3.10" transform="rotate(-60 478.1 592)" fill="#fff" stroke="#1a1a1a" stroke-width="1.4" />
<ellipse cx="478.3" cy="592.1" rx="2" ry="1.30" transform="rotate(-60 478.3 592.1)" fill="none" stroke="#1a1a1a" stroke-width="1" />
<ellipse cx="488.5" cy="598.7" rx="11.6" ry="6.73" transform="rotate(-60 488.5 598.7)" fill="#fff" stroke="#1a1a1a" stroke-width="1.4" />
<path d="M494.3 588.6541053161005 L502.8 593.5541053161005 L491.2 613.6458946838995 L482.7 608.7458946838996 Z" fill="#fff" stroke="none" stroke-width="0" />
<line x1="494.3" y1="588.7" x2="502.8" y2="593.6" stroke="#1a1a1a" stroke-width="1.4" />
<line x1="482.7" y1="608.7" x2="491.2" y2="613.6" stroke="#1a1a1a" stroke-width="1.4" />
<ellipse cx="497.0" cy="603.6" rx="11.6" ry="6.73" transform="rotate(-60 497.0 603.6)" fill="#fff" stroke="#1a1a1a" stroke-width="1.4" />
<ellipse cx="490.3" cy="599.7" rx="11.6" ry="6.73" transform="rotate(-60 490.3 599.7)" fill="none" stroke="#1a1a1a" stroke-width="0.8" />
<ellipse cx="497.3" cy="603.8000000000001" rx="7.888" ry="4.64" transform="rotate(-60 497.3 603.8000000000001)" fill="none" stroke="#1a1a1a" stroke-width="0.8" />
<ellipse cx="497.7" cy="604.0" rx="3.2" ry="1.90" transform="rotate(-60 497.7 604.0)" fill="none" stroke="#1a1a1a" stroke-width="1" />
<ellipse cx="511.8" cy="612.2" rx="3.3" ry="1.98" transform="rotate(-60 511.8 612.2)" fill="#fff" stroke="#1a1a1a" stroke-width="1.5" />
<ellipse cx="465.0" cy="372.4" rx="10.6" ry="6.30" transform="rotate(-60 465.0 372.4)" fill="#fff" stroke="#1a1a1a" stroke-width="1.3" />
<path d="M470.3 363.22013071988493 L478.3 367.82013071988496 L467.7 386.17986928011504 L459.7 381.579869280115 Z" fill="#fff" stroke="none" stroke-width="0" />
<line x1="470.3" y1="363.2" x2="478.3" y2="367.8" stroke="#1a1a1a" stroke-width="1.3" />
<line x1="459.7" y1="381.6" x2="467.7" y2="386.2" stroke="#1a1a1a" stroke-width="1.3" />
<ellipse cx="473.0" cy="377" rx="10.6" ry="6.30" transform="rotate(-60 473.0 377)" fill="#fff" stroke="#1a1a1a" stroke-width="1.3" />
<ellipse cx="473.0" cy="377" rx="8.2" ry="5.00" transform="rotate(-60 473.0 377)" fill="none" stroke="#666" stroke-width="0.7" />
<ellipse cx="473.5" cy="377.3" rx="2.6" ry="1.60" transform="rotate(-60 473.5 377.3)" fill="none" stroke="#1a1a1a" stroke-width="0.9" />
<ellipse cx="443.6" cy="360.4" rx="3" ry="1.80" transform="rotate(-60 443.6 360.4)" fill="#fff" stroke="#1a1a1a" stroke-width="1.5" />
<ellipse cx="482.2" cy="381.8" rx="3" ry="1.80" transform="rotate(-60 482.2 381.8)" fill="#fff" stroke="#1a1a1a" stroke-width="1.5" />
<ellipse cx="319.0" cy="500.4" rx="10.6" ry="6.30" transform="rotate(-60 319.0 500.4)" fill="#fff" stroke="#1a1a1a" stroke-width="1.3" />
<path d="M324.3 491.22013071988493 L332.3 495.82013071988496 L321.7 514.1798692801151 L313.7 509.579869280115 Z" fill="#fff" stroke="none" stroke-width="0" />
<line x1="324.3" y1="491.2" x2="332.3" y2="495.8" stroke="#1a1a1a" stroke-width="1.3" />
<line x1="313.7" y1="509.6" x2="321.7" y2="514.2" stroke="#1a1a1a" stroke-width="1.3" />
<ellipse cx="327.0" cy="505" rx="10.6" ry="6.30" transform="rotate(-60 327.0 505)" fill="#fff" stroke="#1a1a1a" stroke-width="1.3" />
<ellipse cx="327.0" cy="505" rx="8.2" ry="5.00" transform="rotate(-60 327.0 505)" fill="none" stroke="#666" stroke-width="0.7" />
<ellipse cx="327.5" cy="505.3" rx="2.6" ry="1.60" transform="rotate(-60 327.5 505.3)" fill="none" stroke="#1a1a1a" stroke-width="0.9" />
<ellipse cx="300" cy="490" rx="3" ry="1.80" transform="rotate(-60 300 490)" fill="#fff" stroke="#1a1a1a" stroke-width="1.5" />
<ellipse cx="337.8" cy="512.4" rx="2.8" ry="1.68" transform="rotate(-60 337.8 512.4)" fill="#fff" stroke="#1a1a1a" stroke-width="1.5" />
<path d="M374.4 358.6 L377.8 354.5 L384 348.3 L389.5 346.3 L395 348.3 L396.4 351.7 L392.9 354.5 L389.5 353.1 L382.6 361.4 L380.6 366.2 L375.8 364.8 Z" fill="#fff" stroke="#1a1a1a" stroke-width="1.2" />
<path d="M377.8 354.5 L381.3 358.6 L380.6 366.2 M381.3 358.6 L387.5 350.5 L392.9 354.5 M384 348.3 L387.5 350.5 M374.4 358.6 L378 362 L375.8 364.8 M378 362 L381.3 358.6" fill="none" stroke="#1a1a1a" stroke-width="0.9" />
<path d="M389 347.5 L394 349.5" fill="none" stroke="#1a1a1a" stroke-width="1.4" />
<path d="M393.5 342 L412 315.8 L421.5 319.5" fill="none" stroke="#1a1a1a" stroke-width="2.7" />
<path d="M393.5 342 L412 315.8 L421.5 319.5" fill="none" stroke="#fff" stroke-width="0.6" />
<ellipse cx="487.5" cy="326" rx="2.7" ry="1.50" transform="rotate(15 487.5 326)" fill="#fff" stroke="#1a1a1a" stroke-width="1" />
<path d="M490.1079997309805 326.6988114217768 L493.6079997309805 336.1988114217768 L488.3920002690195 334.8011885782232 L484.8920002690195 325.3011885782232 Z" fill="#fff" stroke="none" stroke-width="0" />
<line x1="490.1" y1="326.7" x2="493.6" y2="336.2" stroke="#1a1a1a" stroke-width="1" />
<line x1="484.9" y1="325.3" x2="488.4" y2="334.8" stroke="#1a1a1a" stroke-width="1" />
<ellipse cx="491" cy="335.5" rx="2.7" ry="1.50" transform="rotate(15 491 335.5)" fill="#fff" stroke="#1a1a1a" stroke-width="1" />
<ellipse cx="491" cy="335.5" rx="1.6" ry="0.90" transform="rotate(15 491 335.5)" fill="#fff" stroke="#1a1a1a" stroke-width="1" />
<path d="M492.5454813220625 335.91411047216405 L493.7454813220625 339.41411047216405 L490.65451867793746 338.58588952783595 L489.4545186779375 335.08588952783595 Z" fill="#fff" stroke="none" stroke-width="0" />
<line x1="492.5" y1="335.9" x2="493.7" y2="339.4" stroke="#1a1a1a" stroke-width="1" />
<line x1="489.5" y1="335.1" x2="490.7" y2="338.6" stroke="#1a1a1a" stroke-width="1" />
<ellipse cx="492.2" cy="339" rx="1.6" ry="0.90" transform="rotate(15 492.2 339)" fill="#fff" stroke="#1a1a1a" stroke-width="1" />
<path d="M473.5 322.3 L476 327 L485 324.5 L489 326.5 L494 324.5 L499 322 L498 318.5 L492 319 L488 316.5 L483 319.5 Z" fill="#fff" stroke="#1a1a1a" stroke-width="1" />
<path d="M473.5 322.3 L475 321 L483 318 M476 327 L477.5 325 L485 322.5 L489.5 324 L498 320.5" fill="none" stroke="#1a1a1a" stroke-width="0.7" />
<ellipse cx="477" cy="323.5" rx="1" ry="0.70" transform="rotate(0 477 323.5)" fill="none" stroke="#1a1a1a" stroke-width="0.6" />
<ellipse cx="495" cy="344.8" rx="4.2" ry="2.70" transform="rotate(20 495 344.8)" fill="#fff" stroke="#1a1a1a" stroke-width="1.6" />
<ellipse cx="495" cy="344.8" rx="2.2" ry="1.20" transform="rotate(20 495 344.8)" fill="none" stroke="#1a1a1a" stroke-width="0.8" />
<ellipse cx="554" cy="425" rx="3.3" ry="2.00" transform="rotate(-60 554 425)" fill="#fff" stroke="#1a1a1a" stroke-width="1" />
<path d="M555.65 422.14211616751135 L582.65 436.64211616751135 L579.35 442.35788383248865 L552.35 427.85788383248865 Z" fill="#fff" stroke="none" stroke-width="0" />
<line x1="555.6" y1="422.1" x2="582.6" y2="436.6" stroke="#1a1a1a" stroke-width="1" />
<line x1="552.4" y1="427.9" x2="579.4" y2="442.4" stroke="#1a1a1a" stroke-width="1" />
<ellipse cx="581" cy="439.5" rx="3.3" ry="2.00" transform="rotate(-60 581 439.5)" fill="#fff" stroke="#1a1a1a" stroke-width="1" />
<ellipse cx="581" cy="439.5" rx="3.0" ry="1.80" transform="rotate(-60 581 439.5)" fill="#fff" stroke="#1a1a1a" stroke-width="1" />
<path d="M582.5 436.9019237886467 L599.5 446.1019237886467 L596.5 451.2980762113533 L579.5 442.0980762113533 Z" fill="#fff" stroke="none" stroke-width="0" />
<line x1="582.5" y1="436.9" x2="599.5" y2="446.1" stroke="#1a1a1a" stroke-width="1" />
<line x1="579.5" y1="442.1" x2="596.5" y2="451.3" stroke="#1a1a1a" stroke-width="1" />
<ellipse cx="598" cy="448.7" rx="3.0" ry="1.80" transform="rotate(-60 598 448.7)" fill="#fff" stroke="#1a1a1a" stroke-width="1" />
<ellipse cx="598" cy="448.7" rx="2.6" ry="1.60" transform="rotate(-60 598 448.7)" fill="#fff" stroke="#1a1a1a" stroke-width="1" />
<path d="M599.3 446.4483339501605 L612.8 453.2483339501605 L610.2 457.7516660498395 L596.7 450.9516660498395 Z" fill="#fff" stroke="none" stroke-width="0" />
<line x1="599.3" y1="446.4" x2="612.8" y2="453.2" stroke="#1a1a1a" stroke-width="1" />
<line x1="596.7" y1="451.0" x2="610.2" y2="457.8" stroke="#1a1a1a" stroke-width="1" />
<ellipse cx="611.5" cy="455.5" rx="2.6" ry="1.60" transform="rotate(-60 611.5 455.5)" fill="#fff" stroke="#1a1a1a" stroke-width="1" />
<circle cx="574.5" cy="432.5" r="0.8" fill="#1a1a1a"/>
<line x1="556" y1="422.2" x2="580" y2="435" stroke="#777" stroke-width="0.6" />
<ellipse cx="624.4" cy="464" rx="5.6" ry="3.50" transform="rotate(-60 624.4 464)" fill="#fff" stroke="#1a1a1a" stroke-width="1.5" />
<ellipse cx="624.6" cy="464.1" rx="2.5" ry="1.50" transform="rotate(-60 624.6 464.1)" fill="none" stroke="#1a1a1a" stroke-width="1.1" />
<ellipse cx="635.5" cy="472.5" rx="11.5" ry="6.90" transform="rotate(-60 635.5 472.5)" fill="#fff" stroke="#1a1a1a" stroke-width="1.2" />
<path d="M641.25 462.54070785647895 L650.75 467.54070785647895 L639.25 487.45929214352105 L629.75 482.45929214352105 Z" fill="#fff" stroke="none" stroke-width="0" />
<line x1="641.2" y1="462.5" x2="650.8" y2="467.5" stroke="#1a1a1a" stroke-width="1.2" />
<line x1="629.8" y1="482.5" x2="639.2" y2="487.5" stroke="#1a1a1a" stroke-width="1.2" />
<ellipse cx="645" cy="477.5" rx="11.5" ry="6.90" transform="rotate(-60 645 477.5)" fill="#fff" stroke="#1a1a1a" stroke-width="1.2" />
<ellipse cx="637" cy="473.3" rx="11.5" ry="6.90" transform="rotate(-60 637 473.3)" fill="none" stroke="#1a1a1a" stroke-width="0.8" />
<ellipse cx="645.3" cy="477.7" rx="8" ry="4.70" transform="rotate(-60 645.3 477.7)" fill="none" stroke="#1a1a1a" stroke-width="0.8" />
<path d="M643 474 L648 476.5 L647 481.5 L642.5 479 Z" fill="none" stroke="#1a1a1a" stroke-width="1" />
<circle cx="641.6" cy="467" r="0.8" fill="#1a1a1a"/>
<ellipse cx="669.6" cy="490.6" rx="3.4" ry="2.04" transform="rotate(-60 669.6 490.6)" fill="#fff" stroke="#1a1a1a" stroke-width="1.5" />
<path d="M644.4 348 L648 347.5 L652.4 352.4 L655 352.5 L660 357 L711 389 Q713.5 392.5 710.5 394.5 Q707 396.5 703.5 394 L644 363 L636 359.5 L630 356.5 Q628.5 354 631 352.5" fill="#fff" stroke="#1a1a1a" stroke-width="1" />
<path d="M634.5 354.5 Q640 357 641.5 353 Q642 350 640 348.5 Q641 346 643 347" fill="none" stroke="#1a1a1a" stroke-width="0.9" />
<circle cx="632.8" cy="353" r="1.5" fill="#fff" stroke="#1a1a1a" stroke-width="0.9"/>
<circle cx="643.3" cy="346.2" r="1.5" fill="#fff" stroke="#1a1a1a" stroke-width="0.9"/>
<ellipse cx="707.4" cy="391.3" rx="1.8" ry="1.10" transform="rotate(30 707.4 391.3)" fill="none" stroke="#1a1a1a" stroke-width="0.8" />
<circle cx="665" cy="365" r="0.9" fill="#1a1a1a"/>
<ellipse cx="380" cy="535" rx="3.1" ry="1.90" transform="rotate(-60 380 535)" fill="#fff" stroke="#1a1a1a" stroke-width="1" />
<path d="M381.55 532.3153212482682 L409.55 546.8153212482682 L406.45 552.1846787517318 L378.45 537.6846787517318 Z" fill="#fff" stroke="none" stroke-width="0" />
<line x1="381.6" y1="532.3" x2="409.6" y2="546.8" stroke="#1a1a1a" stroke-width="1" />
<line x1="378.4" y1="537.7" x2="406.4" y2="552.2" stroke="#1a1a1a" stroke-width="1" />
<ellipse cx="408" cy="549.5" rx="3.1" ry="1.90" transform="rotate(-60 408 549.5)" fill="#fff" stroke="#1a1a1a" stroke-width="1" />
<ellipse cx="408" cy="549.5" rx="3.0" ry="1.80" transform="rotate(-60 408 549.5)" fill="#fff" stroke="#1a1a1a" stroke-width="1" />
<path d="M409.5 546.9019237886466 L429.0 557.4019237886466 L426.0 562.5980762113534 L406.5 552.0980762113534 Z" fill="#fff" stroke="none" stroke-width="0" />
<line x1="409.5" y1="546.9" x2="429.0" y2="557.4" stroke="#1a1a1a" stroke-width="1" />
<line x1="406.5" y1="552.1" x2="426.0" y2="562.6" stroke="#1a1a1a" stroke-width="1" />
<ellipse cx="427.5" cy="560" rx="3.0" ry="1.80" transform="rotate(-60 427.5 560)" fill="#fff" stroke="#1a1a1a" stroke-width="1" />
<ellipse cx="418" cy="556.5" rx="1" ry="0.70" transform="rotate(-60 418 556.5)" fill="none" stroke="#1a1a1a" stroke-width="0.8" />
<line x1="409.5" y1="547" x2="408" y2="552" stroke="#1a1a1a" stroke-width="0.8" />
<ellipse cx="371" cy="621.3" rx="2" ry="1.40" transform="rotate(-60 371 621.3)" fill="#fff" stroke="#1a1a1a" stroke-width="1" />
<path d="M372.0 619.5679491924311 L376.5 622.0679491924311 L374.5 625.5320508075688 L370.0 623.0320508075688 Z" fill="#fff" stroke="none" stroke-width="0" />
<line x1="372.0" y1="619.6" x2="376.5" y2="622.1" stroke="#1a1a1a" stroke-width="1" />
<line x1="370.0" y1="623.0" x2="374.5" y2="625.5" stroke="#1a1a1a" stroke-width="1" />
<ellipse cx="375.5" cy="623.8" rx="2" ry="1.40" transform="rotate(-60 375.5 623.8)" fill="#fff" stroke="#1a1a1a" stroke-width="1" />
<ellipse cx="382" cy="627.2" rx="16" ry="11.00" transform="rotate(-60 382 627.2)" fill="#fff" stroke="#1a1a1a" stroke-width="1.5" />
<ellipse cx="384.5" cy="628.5" rx="13.8" ry="9.30" transform="rotate(-60 384.5 628.5)" fill="none" stroke="#999" stroke-width="0.7" />
<ellipse cx="387" cy="630" rx="11.5" ry="7.60" transform="rotate(-60 387 630)" fill="none" stroke="#999" stroke-width="0.7" />
<path d="M393.6 624.4 L427.9 643.7 L418.5 659.2 L384.6 639.9 Z" fill="#fff" stroke="none" stroke-width="0" />
<path d="M391 628.5 Q391.5 625 393.6 624.4 L427.9 643.7" fill="none" stroke="#1a1a1a" stroke-width="1.4" />
<path d="M384.6 639.9 L418.5 659.2" fill="none" stroke="#1a1a1a" stroke-width="1.4" />
<path d="M394.5 626 C391 631 388.5 637 388 642" fill="none" stroke="#999" stroke-width="0.7" />
<path d="M397.5 627.5 C394 632.5 391.5 638.5 391 644" fill="none" stroke="#999" stroke-width="0.7" />
<path d="M422 642 C418.5 647 417 652.5 417.5 657.5" fill="none" stroke="#999" stroke-width="0.7" />
<ellipse cx="428.5" cy="654.5" rx="13" ry="8.80" transform="rotate(-60 428.5 654.5)" fill="#fff" stroke="#1a1a1a" stroke-width="1.5" />
<ellipse cx="427.3" cy="653.8" rx="12.2" ry="8.00" transform="rotate(-60 427.3 653.8)" fill="none" stroke="#999" stroke-width="0.7" />
<path d="M389.3 637.7 L391 636 L394 638.5 L396 638 L414.5 649 L415 652 L412.5 653.5 L392 641.5 Z" fill="#222" stroke="#1a1a1a" stroke-width="0.5" />
<path d="M397 641.5 L411 649.5" fill="none" stroke="#ddd" stroke-width="0.7" stroke-dasharray="2 1.2"/>
<circle cx="402" cy="639.9" r="1" fill="#1a1a1a"/>
<ellipse cx="494.7320508075689" cy="679.0" rx="1.8" ry="1.10" transform="rotate(-60 494.7320508075689 679.0)" fill="#fff" stroke="#1a1a1a" stroke-width="1.0" />
<path d="M495.6320508075689 677.441154273188 L501.6942286340599 680.941154273188 L499.89422863405997 684.058845726812 L493.8320508075689 680.558845726812 Z" fill="#fff" stroke="none" stroke-width="0" />
<line x1="495.6" y1="677.4" x2="501.7" y2="680.9" stroke="#1a1a1a" stroke-width="1.0" />
<line x1="493.8" y1="680.6" x2="499.9" y2="684.1" stroke="#1a1a1a" stroke-width="1.0" />
<ellipse cx="500.79422863405995" cy="682.5" rx="1.8" ry="1.10" transform="rotate(-60 500.79422863405995 682.5)" fill="#fff" stroke="#1a1a1a" stroke-width="1.0" />
<path d="M498.5 681.2 L498.7 681.0 L498.8 680.8 L499.0 680.6 L499.1 680.5 L499.3 680.4 L499.5 680.3 L499.6 680.2 L499.8 680.1 L500.0 680.1 L500.1 680.1 L500.3 680.1 L500.4 680.2 L500.5 680.3 L500.6 680.4 L500.7 680.5 L500.8 680.7 L500.8 680.8 L500.8 681.0 L500.8 681.2 L500.8 681.4 L500.7 681.7 L500.6 681.9 L500.6 682.1 L500.4 682.3" fill="none" stroke="#1a1a1a" stroke-width="0.9" />
<path d="M497.2 680.4 L497.3 680.2 L497.4 680.0 L497.6 679.8 L497.7 679.7 L497.9 679.6 L498.1 679.5 L498.2 679.4 L498.4 679.3 L498.6 679.3 L498.7 679.3 L498.9 679.3 L499.0 679.4 L499.1 679.5 L499.2 679.6 L499.3 679.7 L499.4 679.9 L499.4 680.0 L499.4 680.2 L499.4 680.4 L499.4 680.6 L499.3 680.9 L499.3 681.1 L499.2 681.3 L499.1 681.5" fill="none" stroke="#1a1a1a" stroke-width="0.9" />
<path d="M495.8 679.6 L495.9 679.4 L496.0 679.2 L496.2 679.0 L496.3 678.9 L496.5 678.8 L496.7 678.7 L496.9 678.6 L497.0 678.5 L497.2 678.5 L497.3 678.5 L497.5 678.5 L497.6 678.6 L497.7 678.7 L497.8 678.8 L497.9 678.9 L498.0 679.1 L498.0 679.2 L498.0 679.4 L498.0 679.6 L498.0 679.8 L497.9 680.1 L497.9 680.3 L497.8 680.5 L497.7 680.7" fill="none" stroke="#1a1a1a" stroke-width="0.9" />
<ellipse cx="491.44115427318803" cy="677.1" rx="3.3" ry="2.00" transform="rotate(-60 491.44115427318803 677.1)" fill="#fff" stroke="#1a1a1a" stroke-width="1.2" />
<path d="M493.091154273188 674.2421161675114 L496.3820508075689 676.1421161675114 L493.0820508075689 681.8578838324886 L489.79115427318806 679.9578838324886 Z" fill="#fff" stroke="none" stroke-width="0" />
<line x1="493.1" y1="674.2" x2="496.4" y2="676.1" stroke="#1a1a1a" stroke-width="1.2" />
<line x1="489.8" y1="680.0" x2="493.1" y2="681.9" stroke="#1a1a1a" stroke-width="1.2" />
<ellipse cx="494.7320508075689" cy="679.0" rx="3.3" ry="2.00" transform="rotate(-60 494.7320508075689 679.0)" fill="#fff" stroke="#1a1a1a" stroke-width="1.2" />
<ellipse cx="494.7320508075689" cy="679.0" rx="2.1" ry="1.30" transform="rotate(-60 494.7320508075689 679.0)" fill="none" stroke="#1a1a1a" stroke-width="0.7" />
<ellipse cx="503" cy="684" rx="2.6" ry="1.8" transform="rotate(-60 503 684)" fill="#111"/>
<ellipse cx="495.7320508075689" cy="696.0" rx="1.8" ry="1.10" transform="rotate(-60 495.7320508075689 696.0)" fill="#fff" stroke="#1a1a1a" stroke-width="1.0" />
<path d="M496.6320508075689 694.441154273188 L502.6942286340599 697.941154273188 L500.89422863405997 701.058845726812 L494.8320508075689 697.558845726812 Z" fill="#fff" stroke="none" stroke-width="0" />
<line x1="496.6" y1="694.4" x2="502.7" y2="697.9" stroke="#1a1a1a" stroke-width="1.0" />
<line x1="494.8" y1="697.6" x2="500.9" y2="701.1" stroke="#1a1a1a" stroke-width="1.0" />
<ellipse cx="501.79422863405995" cy="699.5" rx="1.8" ry="1.10" transform="rotate(-60 501.79422863405995 699.5)" fill="#fff" stroke="#1a1a1a" stroke-width="1.0" />
<path d="M499.5 698.2 L499.7 698.0 L499.8 697.8 L500.0 697.6 L500.1 697.5 L500.3 697.4 L500.5 697.3 L500.6 697.2 L500.8 697.1 L501.0 697.1 L501.1 697.1 L501.3 697.1 L501.4 697.2 L501.5 697.3 L501.6 697.4 L501.7 697.5 L501.8 697.7 L501.8 697.8 L501.8 698.0 L501.8 698.2 L501.8 698.4 L501.7 698.7 L501.6 698.9 L501.6 699.1 L501.4 699.3" fill="none" stroke="#1a1a1a" stroke-width="0.9" />
<path d="M498.2 697.4 L498.3 697.2 L498.4 697.0 L498.6 696.8 L498.7 696.7 L498.9 696.6 L499.1 696.5 L499.2 696.4 L499.4 696.3 L499.6 696.3 L499.7 696.3 L499.9 696.3 L500.0 696.4 L500.1 696.5 L500.2 696.6 L500.3 696.7 L500.4 696.9 L500.4 697.0 L500.4 697.2 L500.4 697.4 L500.4 697.6 L500.3 697.9 L500.3 698.1 L500.2 698.3 L500.1 698.5" fill="none" stroke="#1a1a1a" stroke-width="0.9" />
<path d="M496.8 696.6 L496.9 696.4 L497.0 696.2 L497.2 696.0 L497.3 695.9 L497.5 695.8 L497.7 695.7 L497.9 695.6 L498.0 695.5 L498.2 695.5 L498.3 695.5 L498.5 695.5 L498.6 695.6 L498.7 695.7 L498.8 695.8 L498.9 695.9 L499.0 696.1 L499.0 696.2 L499.0 696.4 L499.0 696.6 L499.0 696.8 L498.9 697.1 L498.9 697.3 L498.8 697.5 L498.7 697.7" fill="none" stroke="#1a1a1a" stroke-width="0.9" />
<ellipse cx="492.44115427318803" cy="694.1" rx="3.3" ry="2.00" transform="rotate(-60 492.44115427318803 694.1)" fill="#fff" stroke="#1a1a1a" stroke-width="1.2" />
<path d="M494.091154273188 691.2421161675114 L497.3820508075689 693.1421161675114 L494.0820508075689 698.8578838324886 L490.79115427318806 696.9578838324886 Z" fill="#fff" stroke="none" stroke-width="0" />
<line x1="494.1" y1="691.2" x2="497.4" y2="693.1" stroke="#1a1a1a" stroke-width="1.2" />
<line x1="490.8" y1="697.0" x2="494.1" y2="698.9" stroke="#1a1a1a" stroke-width="1.2" />
<ellipse cx="495.7320508075689" cy="696.0" rx="3.3" ry="2.00" transform="rotate(-60 495.7320508075689 696.0)" fill="#fff" stroke="#1a1a1a" stroke-width="1.2" />
<ellipse cx="495.7320508075689" cy="696.0" rx="2.1" ry="1.30" transform="rotate(-60 495.7320508075689 696.0)" fill="none" stroke="#1a1a1a" stroke-width="0.7" />
<ellipse cx="505" cy="701" rx="2.6" ry="1.8" transform="rotate(-60 505 701)" fill="#111"/>
<ellipse cx="470.7320508075689" cy="700.0" rx="1.8" ry="1.10" transform="rotate(-60 470.7320508075689 700.0)" fill="#fff" stroke="#1a1a1a" stroke-width="1.0" />
<path d="M471.6320508075689 698.441154273188 L477.6942286340599 701.941154273188 L475.89422863405997 705.058845726812 L469.8320508075689 701.558845726812 Z" fill="#fff" stroke="none" stroke-width="0" />
<line x1="471.6" y1="698.4" x2="477.7" y2="701.9" stroke="#1a1a1a" stroke-width="1.0" />
<line x1="469.8" y1="701.6" x2="475.9" y2="705.1" stroke="#1a1a1a" stroke-width="1.0" />
<ellipse cx="476.79422863405995" cy="703.5" rx="1.8" ry="1.10" transform="rotate(-60 476.79422863405995 703.5)" fill="#fff" stroke="#1a1a1a" stroke-width="1.0" />
<path d="M474.5 702.2 L474.7 702.0 L474.8 701.8 L475.0 701.6 L475.1 701.5 L475.3 701.4 L475.5 701.3 L475.6 701.2 L475.8 701.1 L476.0 701.1 L476.1 701.1 L476.3 701.1 L476.4 701.2 L476.5 701.3 L476.6 701.4 L476.7 701.5 L476.8 701.7 L476.8 701.8 L476.8 702.0 L476.8 702.2 L476.8 702.4 L476.7 702.7 L476.6 702.9 L476.6 703.1 L476.4 703.3" fill="none" stroke="#1a1a1a" stroke-width="0.9" />
<path d="M473.2 701.4 L473.3 701.2 L473.4 701.0 L473.6 700.8 L473.7 700.7 L473.9 700.6 L474.1 700.5 L474.2 700.4 L474.4 700.3 L474.6 700.3 L474.7 700.3 L474.9 700.3 L475.0 700.4 L475.1 700.5 L475.2 700.6 L475.3 700.7 L475.4 700.9 L475.4 701.0 L475.4 701.2 L475.4 701.4 L475.4 701.6 L475.3 701.9 L475.3 702.1 L475.2 702.3 L475.1 702.5" fill="none" stroke="#1a1a1a" stroke-width="0.9" />
<path d="M471.8 700.6 L471.9 700.4 L472.0 700.2 L472.2 700.0 L472.3 699.9 L472.5 699.8 L472.7 699.7 L472.9 699.6 L473.0 699.5 L473.2 699.5 L473.3 699.5 L473.5 699.5 L473.6 699.6 L473.7 699.7 L473.8 699.8 L473.9 699.9 L474.0 700.1 L474.0 700.2 L474.0 700.4 L474.0 700.6 L474.0 700.8 L473.9 701.1 L473.9 701.3 L473.8 701.5 L473.7 701.7" fill="none" stroke="#1a1a1a" stroke-width="0.9" />
<ellipse cx="467.44115427318803" cy="698.1" rx="3.3" ry="2.00" transform="rotate(-60 467.44115427318803 698.1)" fill="#fff" stroke="#1a1a1a" stroke-width="1.2" />
<path d="M469.091154273188 695.2421161675114 L472.3820508075689 697.1421161675114 L469.0820508075689 702.8578838324886 L465.79115427318806 700.9578838324886 Z" fill="#fff" stroke="none" stroke-width="0" />
<line x1="469.1" y1="695.2" x2="472.4" y2="697.1" stroke="#1a1a1a" stroke-width="1.2" />
<line x1="465.8" y1="701.0" x2="469.1" y2="702.9" stroke="#1a1a1a" stroke-width="1.2" />
<ellipse cx="470.7320508075689" cy="700.0" rx="3.3" ry="2.00" transform="rotate(-60 470.7320508075689 700.0)" fill="#fff" stroke="#1a1a1a" stroke-width="1.2" />
<ellipse cx="470.7320508075689" cy="700.0" rx="2.1" ry="1.30" transform="rotate(-60 470.7320508075689 700.0)" fill="none" stroke="#1a1a1a" stroke-width="0.7" />
<ellipse cx="480.6" cy="704.4" rx="2.6" ry="1.8" transform="rotate(-60 480.6 704.4)" fill="#111"/>
<ellipse cx="476.7320508075689" cy="719.0" rx="1.8" ry="1.10" transform="rotate(-60 476.7320508075689 719.0)" fill="#fff" stroke="#1a1a1a" stroke-width="1.0" />
<path d="M477.6320508075689 717.441154273188 L483.6942286340599 720.941154273188 L481.89422863405997 724.058845726812 L475.8320508075689 720.558845726812 Z" fill="#fff" stroke="none" stroke-width="0" />
<line x1="477.6" y1="717.4" x2="483.7" y2="720.9" stroke="#1a1a1a" stroke-width="1.0" />
<line x1="475.8" y1="720.6" x2="481.9" y2="724.1" stroke="#1a1a1a" stroke-width="1.0" />
<ellipse cx="482.79422863405995" cy="722.5" rx="1.8" ry="1.10" transform="rotate(-60 482.79422863405995 722.5)" fill="#fff" stroke="#1a1a1a" stroke-width="1.0" />
<path d="M480.5 721.2 L480.7 721.0 L480.8 720.8 L481.0 720.6 L481.1 720.5 L481.3 720.4 L481.5 720.3 L481.6 720.2 L481.8 720.1 L482.0 720.1 L482.1 720.1 L482.3 720.1 L482.4 720.2 L482.5 720.3 L482.6 720.4 L482.7 720.5 L482.8 720.7 L482.8 720.8 L482.8 721.0 L482.8 721.2 L482.8 721.4 L482.7 721.7 L482.6 721.9 L482.6 722.1 L482.4 722.3" fill="none" stroke="#1a1a1a" stroke-width="0.9" />
<path d="M479.2 720.4 L479.3 720.2 L479.4 720.0 L479.6 719.8 L479.7 719.7 L479.9 719.6 L480.1 719.5 L480.2 719.4 L480.4 719.3 L480.6 719.3 L480.7 719.3 L480.9 719.3 L481.0 719.4 L481.1 719.5 L481.2 719.6 L481.3 719.7 L481.4 719.9 L481.4 720.0 L481.4 720.2 L481.4 720.4 L481.4 720.6 L481.3 720.9 L481.3 721.1 L481.2 721.3 L481.1 721.5" fill="none" stroke="#1a1a1a" stroke-width="0.9" />
<path d="M477.8 719.6 L477.9 719.4 L478.0 719.2 L478.2 719.0 L478.3 718.9 L478.5 718.8 L478.7 718.7 L478.9 718.6 L479.0 718.5 L479.2 718.5 L479.3 718.5 L479.5 718.5 L479.6 718.6 L479.7 718.7 L479.8 718.8 L479.9 718.9 L480.0 719.1 L480.0 719.2 L480.0 719.4 L480.0 719.6 L480.0 719.8 L479.9 720.1 L479.9 720.3 L479.8 720.5 L479.7 720.7" fill="none" stroke="#1a1a1a" stroke-width="0.9" />
<ellipse cx="473.44115427318803" cy="717.1" rx="3.3" ry="2.00" transform="rotate(-60 473.44115427318803 717.1)" fill="#fff" stroke="#1a1a1a" stroke-width="1.2" />
<path d="M475.091154273188 714.2421161675114 L478.3820508075689 716.1421161675114 L475.0820508075689 721.8578838324886 L471.79115427318806 719.9578838324886 Z" fill="#fff" stroke="none" stroke-width="0" />
<line x1="475.1" y1="714.2" x2="478.4" y2="716.1" stroke="#1a1a1a" stroke-width="1.2" />
<line x1="471.8" y1="720.0" x2="475.1" y2="721.9" stroke="#1a1a1a" stroke-width="1.2" />
<ellipse cx="476.7320508075689" cy="719.0" rx="3.3" ry="2.00" transform="rotate(-60 476.7320508075689 719.0)" fill="#fff" stroke="#1a1a1a" stroke-width="1.2" />
<ellipse cx="476.7320508075689" cy="719.0" rx="2.1" ry="1.30" transform="rotate(-60 476.7320508075689 719.0)" fill="none" stroke="#1a1a1a" stroke-width="0.7" />
<ellipse cx="486" cy="724.3" rx="2.6" ry="1.8" transform="rotate(-60 486 724.3)" fill="#111"/>
<path d="M524 685.3 Q527.5 685.5 529 690 L537 713 Q538 718 534 723 L532 727 L503.5 744.5 Q498 747 495 743.5 L491 731 Q490 727.5 492.5 724 L519 689 Q521.5 685.5 524 685.3 Z" fill="#fff" stroke="#1a1a1a" stroke-width="1.8" />
<ellipse cx="518" cy="717" rx="16.8" ry="10.70" transform="rotate(-60 518 717)" fill="none" stroke="#1a1a1a" stroke-width="1.4" />
<ellipse cx="522.3" cy="691.5" rx="1.2" ry="0.90" transform="rotate(-60 522.3 691.5)" fill="none" stroke="#1a1a1a" stroke-width="0.8" />
<ellipse cx="525" cy="697" rx="1.2" ry="0.90" transform="rotate(-60 525 697)" fill="none" stroke="#1a1a1a" stroke-width="0.8" />
<ellipse cx="530" cy="715" rx="1.2" ry="0.90" transform="rotate(-60 530 715)" fill="none" stroke="#1a1a1a" stroke-width="0.8" />
<ellipse cx="531" cy="721.5" rx="1.2" ry="0.90" transform="rotate(-60 531 721.5)" fill="none" stroke="#1a1a1a" stroke-width="0.8" />
<ellipse cx="501.5" cy="716" rx="1.2" ry="0.90" transform="rotate(-60 501.5 716)" fill="none" stroke="#1a1a1a" stroke-width="0.8" />
<ellipse cx="497" cy="735" rx="1.2" ry="0.90" transform="rotate(-60 497 735)" fill="none" stroke="#1a1a1a" stroke-width="0.8" />
<ellipse cx="508" cy="736.5" rx="1.2" ry="0.90" transform="rotate(-60 508 736.5)" fill="none" stroke="#1a1a1a" stroke-width="0.8" />
<ellipse cx="496" cy="741" rx="1.2" ry="0.90" transform="rotate(-60 496 741)" fill="none" stroke="#1a1a1a" stroke-width="0.8" />
<ellipse cx="533.8" cy="696.3" rx="3.8" ry="2.36" transform="rotate(-60 533.8 696.3)" fill="#fff" stroke="#1a1a1a" stroke-width="1.1" />
<path d="M535.6999999999999 693.0091034656191 L538.1 694.4091034656192 L534.3000000000001 700.9908965343809 L531.9 699.5908965343808 Z" fill="#fff" stroke="none" stroke-width="0" />
<line x1="535.7" y1="693.0" x2="538.1" y2="694.4" stroke="#1a1a1a" stroke-width="1.1" />
<line x1="531.9" y1="699.6" x2="534.3" y2="701.0" stroke="#1a1a1a" stroke-width="1.1" />
<ellipse cx="536.2" cy="697.7" rx="3.8" ry="2.36" transform="rotate(-60 536.2 697.7)" fill="#fff" stroke="#1a1a1a" stroke-width="1.1" />
<ellipse cx="536.2" cy="697.7" rx="1.9" ry="1.14" transform="rotate(-60 536.2 697.7)" fill="none" stroke="#1a1a1a" stroke-width="0.9" />
<ellipse cx="538.8" cy="725.6999999999999" rx="3.8" ry="2.36" transform="rotate(-60 538.8 725.6999999999999)" fill="#fff" stroke="#1a1a1a" stroke-width="1.1" />
<path d="M540.6999999999999 722.4091034656191 L543.1 723.8091034656192 L539.3000000000001 730.3908965343809 L536.9 728.9908965343808 Z" fill="#fff" stroke="none" stroke-width="0" />
<line x1="540.7" y1="722.4" x2="543.1" y2="723.8" stroke="#1a1a1a" stroke-width="1.1" />
<line x1="536.9" y1="729.0" x2="539.3" y2="730.4" stroke="#1a1a1a" stroke-width="1.1" />
<ellipse cx="541.2" cy="727.1" rx="3.8" ry="2.36" transform="rotate(-60 541.2 727.1)" fill="#fff" stroke="#1a1a1a" stroke-width="1.1" />
<ellipse cx="541.2" cy="727.1" rx="1.9" ry="1.14" transform="rotate(-60 541.2 727.1)" fill="none" stroke="#1a1a1a" stroke-width="0.9" />
<ellipse cx="512.4" cy="743.6999999999999" rx="3.8" ry="2.36" transform="rotate(-60 512.4 743.6999999999999)" fill="#fff" stroke="#1a1a1a" stroke-width="1.1" />
<path d="M514.3 740.4091034656191 L516.7 741.8091034656192 L512.9000000000001 748.3908965343809 L510.5 746.9908965343808 Z" fill="#fff" stroke="none" stroke-width="0" />
<line x1="514.3" y1="740.4" x2="516.7" y2="741.8" stroke="#1a1a1a" stroke-width="1.1" />
<line x1="510.5" y1="747.0" x2="512.9" y2="748.4" stroke="#1a1a1a" stroke-width="1.1" />
<ellipse cx="514.8000000000001" cy="745.1" rx="3.8" ry="2.36" transform="rotate(-60 514.8000000000001 745.1)" fill="#fff" stroke="#1a1a1a" stroke-width="1.1" />
<ellipse cx="514.8000000000001" cy="745.1" rx="1.9" ry="1.14" transform="rotate(-60 514.8000000000001 745.1)" fill="none" stroke="#1a1a1a" stroke-width="0.9" />
<ellipse cx="549" cy="737" rx="3.3" ry="2.00" transform="rotate(-60 549 737)" fill="#fff" stroke="#1a1a1a" stroke-width="1" />
<path d="M550.65 734.1421161675114 L560.65 739.6421161675114 L557.35 745.3578838324886 L547.35 739.8578838324886 Z" fill="#fff" stroke="none" stroke-width="0" />
<line x1="550.6" y1="734.1" x2="560.6" y2="739.6" stroke="#1a1a1a" stroke-width="1" />
<line x1="547.4" y1="739.9" x2="557.4" y2="745.4" stroke="#1a1a1a" stroke-width="1" />
<ellipse cx="559" cy="742.5" rx="3.3" ry="2.00" transform="rotate(-60 559 742.5)" fill="#fff" stroke="#1a1a1a" stroke-width="1" />
<ellipse cx="559" cy="742.5" rx="4.3" ry="2.60" transform="rotate(-60 559 742.5)" fill="#fff" stroke="#1a1a1a" stroke-width="1" />
<path d="M561.15 738.7760907637269 L567.15 742.2760907637269 L562.85 749.7239092362731 L556.85 746.2239092362731 Z" fill="#fff" stroke="none" stroke-width="0" />
<line x1="561.1" y1="738.8" x2="567.1" y2="742.3" stroke="#1a1a1a" stroke-width="1" />
<line x1="556.9" y1="746.2" x2="562.9" y2="749.7" stroke="#1a1a1a" stroke-width="1" />
<ellipse cx="565" cy="746" rx="4.3" ry="2.60" transform="rotate(-60 565 746)" fill="#fff" stroke="#1a1a1a" stroke-width="1" />
<ellipse cx="565" cy="746" rx="3.7" ry="2.20" transform="rotate(-60 565 746)" fill="#fff" stroke="#1a1a1a" stroke-width="1" />
<path d="M566.85 742.7957060059975 L581.85 750.2957060059975 L578.15 756.7042939940025 L563.15 749.2042939940025 Z" fill="#fff" stroke="none" stroke-width="0" />
<line x1="566.9" y1="742.8" x2="581.9" y2="750.3" stroke="#1a1a1a" stroke-width="1" />
<line x1="563.1" y1="749.2" x2="578.1" y2="756.7" stroke="#1a1a1a" stroke-width="1" />
<ellipse cx="580" cy="753.5" rx="3.7" ry="2.20" transform="rotate(-60 580 753.5)" fill="#fff" stroke="#1a1a1a" stroke-width="1" />
<ellipse cx="580" cy="753.5" rx="2.4" ry="1.40" transform="rotate(-60 580 753.5)" fill="#fff" stroke="#1a1a1a" stroke-width="1" />
<path d="M581.2 751.4215390309173 L587.7 754.9215390309173 L585.3 759.0784609690827 L578.8 755.5784609690827 Z" fill="#fff" stroke="none" stroke-width="0" />
<line x1="581.2" y1="751.4" x2="587.7" y2="754.9" stroke="#1a1a1a" stroke-width="1" />
<line x1="578.8" y1="755.6" x2="585.3" y2="759.1" stroke="#1a1a1a" stroke-width="1" />
<ellipse cx="586.5" cy="757" rx="2.4" ry="1.40" transform="rotate(-60 586.5 757)" fill="#fff" stroke="#1a1a1a" stroke-width="1" />
<circle cx="568.5" cy="748" r="0.9" fill="#1a1a1a"/>
<line x1="572" y1="747.5" x2="570.5" y2="752.5" stroke="#1a1a1a" stroke-width="0.8" />
<line x1="576.5" y1="749.5" x2="575" y2="754.5" stroke="#1a1a1a" stroke-width="0.8" />
<ellipse cx="596.335" cy="762.75" rx="11.5" ry="6.90" transform="rotate(-60 596.335 762.75)" fill="#fff" stroke="#1a1a1a" stroke-width="1.3" />
<path d="M602.085 752.790707856479 L604.25 754.040707856479 L592.75 773.959292143521 L590.585 772.709292143521 Z" fill="#fff" stroke="none" stroke-width="0" />
<line x1="602.1" y1="752.8" x2="604.2" y2="754.0" stroke="#1a1a1a" stroke-width="1.3" />
<line x1="590.6" y1="772.7" x2="592.8" y2="774.0" stroke="#1a1a1a" stroke-width="1.3" />
<ellipse cx="598.5" cy="764" rx="11.5" ry="6.90" transform="rotate(-60 598.5 764)" fill="#fff" stroke="#1a1a1a" stroke-width="1.3" />
<ellipse cx="598.5" cy="764" rx="8.28" ry="4.97" transform="rotate(-60 598.5 764)" fill="none" stroke="#1a1a1a" stroke-width="1.1" />
<ellipse cx="598.5" cy="764" rx="5.75" ry="3.45" transform="rotate(-60 598.5 764)" fill="none" stroke="#1a1a1a" stroke-width="1.5" />
<ellipse cx="599.0" cy="764.3" rx="3.4499999999999997" ry="2.07" transform="rotate(-60 599.0 764.3)" fill="none" stroke="#1a1a1a" stroke-width="0.9" />
<ellipse cx="622.5" cy="778.5" rx="16.5" ry="10.50" transform="rotate(-60 622.5 778.5)" fill="#fff" stroke="#1a1a1a" stroke-width="1.1" />
<path d="M628.5 766.5 L639 760 Q643 760 645 763 L651 774 Q652.5 779 651 784 L640 800 L627 808 Q623.5 808.5 622 806 L617 798 Q616 792 619 787 Z" fill="#fff" stroke="#1a1a1a" stroke-width="1.5" />
<path d="M626.5 767.5 L637 761 M617 798 L615 797 L614.5 791 L617.5 785.5 L626.5 767.5" fill="none" stroke="#1a1a1a" stroke-width="1" />
<path d="M630.5 768.5 L639.5 763 Q642.5 763 644 765.5 L649 775 Q650 779 649 783 L639 797.5 L628 804.5 Q625 805 624 803 L620 797 Q619 792.5 621.5 788 Z" fill="none" stroke="#1a1a1a" stroke-width="0.9" />
<ellipse cx="634.5" cy="784.3" rx="15.3" ry="9.30" transform="rotate(-60 634.5 784.3)" fill="none" stroke="#1a1a1a" stroke-width="1.3" />
<ellipse cx="634.8" cy="784.5" rx="12.5" ry="7.50" transform="rotate(-60 634.8 784.5)" fill="none" stroke="#1a1a1a" stroke-width="1" />
<ellipse cx="635" cy="784.6" rx="9.3" ry="5.60" transform="rotate(-60 635 784.6)" fill="none" stroke="#1a1a1a" stroke-width="1.6" />
<ellipse cx="635.2" cy="784.7" rx="6.3" ry="3.80" transform="rotate(-60 635.2 784.7)" fill="none" stroke="#1a1a1a" stroke-width="1" />
<path d="M640 781 L641.5 787.5" fill="none" stroke="#1a1a1a" stroke-width="1.2" />
<ellipse cx="660.202" cy="799.5" rx="9.6" ry="5.76" transform="rotate(-60 660.202 799.5)" fill="#fff" stroke="#1a1a1a" stroke-width="1.3" />
<path d="M665.002 791.1861561236694 L667.5999999999999 792.6861561236694 L658.0 809.3138438763306 L655.402 807.8138438763306 Z" fill="#fff" stroke="none" stroke-width="0" />
<line x1="665.0" y1="791.2" x2="667.6" y2="792.7" stroke="#1a1a1a" stroke-width="1.3" />
<line x1="655.4" y1="807.8" x2="658.0" y2="809.3" stroke="#1a1a1a" stroke-width="1.3" />
<ellipse cx="662.8" cy="801" rx="9.6" ry="5.76" transform="rotate(-60 662.8 801)" fill="#fff" stroke="#1a1a1a" stroke-width="1.3" />
<ellipse cx="662.8" cy="801" rx="6.912" ry="4.15" transform="rotate(-60 662.8 801)" fill="none" stroke="#1a1a1a" stroke-width="1.1" />
<ellipse cx="662.8" cy="801" rx="4.8" ry="2.88" transform="rotate(-60 662.8 801)" fill="none" stroke="#1a1a1a" stroke-width="1.5" />
<ellipse cx="663.3" cy="801.3" rx="2.88" ry="1.73" transform="rotate(-60 663.3 801.3)" fill="none" stroke="#1a1a1a" stroke-width="0.9" />
<ellipse cx="682.702" cy="812.8" rx="9.6" ry="5.76" transform="rotate(-60 682.702 812.8)" fill="#fff" stroke="#1a1a1a" stroke-width="1.3" />
<path d="M687.502 804.4861561236694 L690.0999999999999 805.9861561236694 L680.5 822.6138438763305 L677.902 821.1138438763305 Z" fill="#fff" stroke="none" stroke-width="0" />
<line x1="687.5" y1="804.5" x2="690.1" y2="806.0" stroke="#1a1a1a" stroke-width="1.3" />
<line x1="677.9" y1="821.1" x2="680.5" y2="822.6" stroke="#1a1a1a" stroke-width="1.3" />
<ellipse cx="685.3" cy="814.3" rx="9.6" ry="5.76" transform="rotate(-60 685.3 814.3)" fill="#fff" stroke="#1a1a1a" stroke-width="1.3" />
<ellipse cx="685.3" cy="814.3" rx="6.912" ry="4.15" transform="rotate(-60 685.3 814.3)" fill="none" stroke="#1a1a1a" stroke-width="1.1" />
<ellipse cx="685.3" cy="814.3" rx="4.8" ry="2.88" transform="rotate(-60 685.3 814.3)" fill="none" stroke="#1a1a1a" stroke-width="1.5" />
<ellipse cx="685.8" cy="814.5999999999999" rx="2.88" ry="1.73" transform="rotate(-60 685.8 814.5999999999999)" fill="none" stroke="#1a1a1a" stroke-width="0.9" />
<path d="M697.5 816 Q703 813 706 814.5 L709.5 813.5 L710.5 816.5 L708.5 818 Q708.5 823 703.5 829 L703.5 831.5 L700.5 832.5 L699.5 830.5 Q695 829.5 694.5 826 L692.5 824.5 L693 821.5 L695.5 821 Q696 818 697.5 816 Z" fill="#fff" stroke="#1a1a1a" stroke-width="1.3" />
<ellipse cx="701.5" cy="822.5" rx="6.2" ry="3.90" transform="rotate(-60 701.5 822.5)" fill="none" stroke="#1a1a1a" stroke-width="1.1" />
<ellipse cx="701.8" cy="822.7" rx="4.6" ry="2.90" transform="rotate(-60 701.8 822.7)" fill="none" stroke="#1a1a1a" stroke-width="0.8" />
<ellipse cx="714" cy="819.6" rx="1.1" ry="0.70" transform="rotate(-60 714 819.6)" fill="#fff" stroke="#1a1a1a" stroke-width="0.8" />
<path d="M714.55 818.6473720558372 L718.05 820.6473720558372 L716.95 822.5526279441629 L713.45 820.5526279441629 Z" fill="#fff" stroke="none" stroke-width="0" />
<line x1="714.5" y1="818.6" x2="718.0" y2="820.6" stroke="#1a1a1a" stroke-width="0.8" />
<line x1="713.5" y1="820.6" x2="717.0" y2="822.6" stroke="#1a1a1a" stroke-width="0.8" />
<ellipse cx="717.5" cy="821.6" rx="1.1" ry="0.70" transform="rotate(-60 717.5 821.6)" fill="#fff" stroke="#1a1a1a" stroke-width="0.8" />
<ellipse cx="719" cy="822.5" rx="2.2" ry="1.6" transform="rotate(-60 719 822.5)" fill="#111"/>
<ellipse cx="705.5" cy="836.6" rx="1.1" ry="0.70" transform="rotate(-60 705.5 836.6)" fill="#fff" stroke="#1a1a1a" stroke-width="0.8" />
<path d="M706.05 835.6473720558372 L709.55 837.6473720558372 L708.45 839.5526279441629 L704.95 837.5526279441629 Z" fill="#fff" stroke="none" stroke-width="0" />
<line x1="706.0" y1="835.6" x2="709.5" y2="837.6" stroke="#1a1a1a" stroke-width="0.8" />
<line x1="705.0" y1="837.6" x2="708.5" y2="839.6" stroke="#1a1a1a" stroke-width="0.8" />
<ellipse cx="709.0" cy="838.6" rx="1.1" ry="0.70" transform="rotate(-60 709.0 838.6)" fill="#fff" stroke="#1a1a1a" stroke-width="0.8" />
<ellipse cx="710.5" cy="839.5" rx="2.2" ry="1.6" transform="rotate(-60 710.5 839.5)" fill="#111"/>
<ellipse cx="727.5" cy="828.5" rx="3" ry="1.5" transform="rotate(30 727.5 828.5)" fill="#333"/>
<ellipse cx="737.5" cy="844" rx="21" ry="12.80" transform="rotate(-60 737.5 844)" fill="#fff" stroke="#1a1a1a" stroke-width="1.3" />
<path d="M748.0 825.8134665205268 L751.5 827.8134665205268 L730.5 864.1865334794732 L727.0 862.1865334794732 Z" fill="#fff" stroke="none" stroke-width="0" />
<line x1="748.0" y1="825.8" x2="751.5" y2="827.8" stroke="#1a1a1a" stroke-width="1.3" />
<line x1="727.0" y1="862.2" x2="730.5" y2="864.2" stroke="#1a1a1a" stroke-width="1.3" />
<ellipse cx="741" cy="846" rx="21" ry="12.80" transform="rotate(-60 741 846)" fill="#fff" stroke="#1a1a1a" stroke-width="1.3" />
<ellipse cx="742" cy="846.5" rx="17.5" ry="10.60" transform="rotate(-60 742 846.5)" fill="none" stroke="#1a1a1a" stroke-width="1" />
<ellipse cx="739.5" cy="846" rx="3.7" ry="2.30" transform="rotate(-60 739.5 846)" fill="none" stroke="#1a1a1a" stroke-width="1.1" />
<ellipse cx="748" cy="843.5" rx="1.8" ry="1.10" transform="rotate(-60 748 843.5)" fill="none" stroke="#1a1a1a" stroke-width="0.9" />
<ellipse cx="735.5" cy="855.5" rx="1.8" ry="1.10" transform="rotate(-60 735.5 855.5)" fill="none" stroke="#1a1a1a" stroke-width="0.9" />
<ellipse cx="738" cy="839" rx="1.8" ry="1.10" transform="rotate(-60 738 839)" fill="none" stroke="#1a1a1a" stroke-width="0.9" />
<ellipse cx="762" cy="858" rx="3.3" ry="1.98" transform="rotate(-60 762 858)" fill="#fff" stroke="#1a1a1a" stroke-width="1.5" />
<ellipse cx="614.5" cy="596.2" rx="6" ry="4.00" transform="rotate(-60 614.5 596.2)" fill="#fff" stroke="#1a1a1a" stroke-width="1.2" />
<path d="M617.5 591.0038475772934 L621.5 593.3038475772934 L615.5 603.6961524227066 L611.5 601.3961524227067 Z" fill="#fff" stroke="none" stroke-width="0" />
<line x1="617.5" y1="591.0" x2="621.5" y2="593.3" stroke="#1a1a1a" stroke-width="1.2" />
<line x1="611.5" y1="601.4" x2="615.5" y2="603.7" stroke="#1a1a1a" stroke-width="1.2" />
<ellipse cx="618.5" cy="598.5" rx="6" ry="4.00" transform="rotate(-60 618.5 598.5)" fill="#fff" stroke="#1a1a1a" stroke-width="1.2" />
<ellipse cx="618.8" cy="598.7" rx="3.6" ry="2.30" transform="rotate(-60 618.8 598.7)" fill="none" stroke="#1a1a1a" stroke-width="1" />
<ellipse cx="628.7" cy="604.6" rx="2.4" ry="1.44" transform="rotate(-60 628.7 604.6)" fill="#fff" stroke="#1a1a1a" stroke-width="1.1" />
<path d="M624.7 621.7 L627.4 616.3 L639.8 603.9 L647.3 595.7 L648 585.4 Q650 579 654.9 577.2 Q659 576.5 660.4 578.5 L664.5 584 L676.8 589.5 L682.3 592.2 Q686 594 687.8 597 L693.3 608 Q695.5 614 695.4 620.4 L694.7 624.5 L687.8 628.6 L676.8 631.4 L654.9 642.3 Q647 646 642.5 646.4 Q636 645.5 632.9 642.3 Q628.5 638 626.8 634.1 Q624.5 628 624.7 621.7 Z" fill="#fff" stroke="#1a1a1a" stroke-width="1.4" />
<path d="M629 619 L641 607 L650 599 Q656 601 662 599 L668 592 M650 599 L649 588 M664.5 584 L662 590" fill="none" stroke="#1a1a1a" stroke-width="1" />
<path d="M627.5 618.5 L640.5 605" fill="none" stroke="#333" stroke-width="2" />
<path d="M637 622 Q640 616 647 612 L664 602.5 Q672 598 676 599.5 M637 622 Q634.5 630 638 638 Q641 643.5 646 642.5 L678 628" fill="none" stroke="#1a1a1a" stroke-width="1" />
<path d="M640.5 625 Q642 620 647 617 L661 609.5 M640.5 625 Q639.5 632 642 637 Q644 640.5 648 639.5 L668 630.5" fill="none" stroke="#1a1a1a" stroke-width="0.8" />
<path d="M627.5 625 Q629 623.5 631 625 Q633.5 632 633 641 Q630.5 641 628.5 637 Q626.8 631 627.5 625 Z" fill="#333" stroke="#1a1a1a" stroke-width="0.8" />
<circle cx="659.7" cy="592.2" r="4.1" fill="#fff" stroke="#1a1a1a" stroke-width="1.2"/>
<circle cx="659.7" cy="592.2" r="2.2" fill="#fff" stroke="#1a1a1a" stroke-width="0.9"/>
<path d="M651 588.5 L654 596.5 Q655 599.5 659 598" fill="none" stroke="#1a1a1a" stroke-width="1.1" />
<circle cx="654.5" cy="581" r="0.8" fill="#1a1a1a"/>
<circle cx="651" cy="585.5" r="0.8" fill="#1a1a1a"/>
<path d="M666 610.5 Q667 607.5 670 606.5 L676 604.5 Q679 604 680 606.5 L683 622 Q683 625 680 626.5 L673 629 Q670 629.5 669 627 Z" fill="#fff" stroke="#1a1a1a" stroke-width="1.3" />
<path d="M669.5 611.5 L676.5 609 L679.5 623.5 L672.5 626 Z" fill="none" stroke="#1a1a1a" stroke-width="1" />
<path d="M676 604.5 L681 600.5 L685.5 604 L683 609 M680 606.5 L685.5 604 L688 618 L683 622" fill="none" stroke="#1a1a1a" stroke-width="0.9" />
<path d="M672 598 Q677 595.5 680 599" fill="none" stroke="#1a1a1a" stroke-width="0.9" />
<path d="M645.5 617.5 L655 612.5 L659 621.5 L651 627 Z" fill="none" stroke="#1a1a1a" stroke-width="1.1" />
<path d="M648 618 L654.5 614.5 L657 620.5 L651 624 Z" fill="none" stroke="#1a1a1a" stroke-width="0.8" />
<circle cx="651.5" cy="618" r="1.8" fill="#333"/>
<path d="M645.3 631.5 L647.3 634.5 L645.3 637.5 L643.3 634.5 Z" fill="none" stroke="#1a1a1a" stroke-width="0.9" />
<line x1="679.7" y1="594.8" x2="682.3" y2="593.2" stroke="#1a1a1a" stroke-width="1" />
<line x1="687.2" y1="603.3" x2="689.8" y2="601.7" stroke="#1a1a1a" stroke-width="1" />
<line x1="691.7" y1="613.8" x2="694.3" y2="612.2" stroke="#1a1a1a" stroke-width="1" />
<line x1="692.2" y1="623.8" x2="694.8" y2="622.2" stroke="#1a1a1a" stroke-width="1" />
<line x1="684.2" y1="628.3" x2="686.8" y2="626.7" stroke="#1a1a1a" stroke-width="1" />
<line x1="667" y1="610" x2="679" y2="601.5" stroke="#111" stroke-width="2.2" />
<ellipse cx="667" cy="610" rx="2.4" ry="1.6" transform="rotate(50 667 610)" fill="#111"/>
<line x1="634.8" y1="599.3" x2="646.5" y2="590.3" stroke="#111" stroke-width="2.3" />
<ellipse cx="634.8" cy="599.3" rx="2.3" ry="1.3" transform="rotate(52 634.8 599.3)" fill="#111"/>
<line x1="613.6" y1="641.3" x2="624.5" y2="632.2" stroke="#111" stroke-width="2.3" />
<ellipse cx="613.6" cy="641.3" rx="2.3" ry="1.3" transform="rotate(50 613.6 641.3)" fill="#111"/>
<line x1="659.8" y1="649.8" x2="671.3" y2="640.4" stroke="#111" stroke-width="2.3" />
<ellipse cx="659.8" cy="649.8" rx="2.3" ry="1.3" transform="rotate(51 659.8 649.8)" fill="#111"/>
<line x1="678.5" y1="633.5" x2="688" y2="639.5" stroke="#111" stroke-width="2.6" />
<path d="M688.5 640.5 L697.5 634 Q699 633.5 700 635 L703 644 Q703.5 647 701 648.5 L696 651 Q693.5 651.5 692.5 649.5 Z" fill="#fff" stroke="#1a1a1a" stroke-width="1.3" />
<path d="M690 641.5 L697.5 636.2 L698.5 639.5 L691.5 644.5 Z" fill="#777" stroke="#444" stroke-width="0.6" />
<path d="M691.5 644.5 L698.5 639.5 L700.5 645 L694.5 649" fill="none" stroke="#1a1a1a" stroke-width="0.9" />
<circle cx="699" cy="645" r="0.9" fill="#1a1a1a"/>
<ellipse cx="685.8" cy="589.5" rx="3.3" ry="2.7" transform="rotate(47 685.8 589.5)" fill="#111"/>
<ellipse cx="693.5" cy="582.5" rx="5.2" ry="2.60" transform="rotate(47 693.5 582.5)" fill="#fff" stroke="#1a1a1a" stroke-width="1.1" />
<path d="M697.046391472325 586.3030392484197 L701.546391472325 582.3030392484197 L694.453608527675 574.6969607515803 L689.953608527675 578.6969607515803 Z" fill="#fff" stroke="none" stroke-width="0" />
<line x1="697.0" y1="586.3" x2="701.5" y2="582.3" stroke="#1a1a1a" stroke-width="1.1" />
<line x1="690.0" y1="578.7" x2="694.5" y2="574.7" stroke="#1a1a1a" stroke-width="1.1" />
<ellipse cx="698" cy="578.5" rx="5.2" ry="2.60" transform="rotate(47 698 578.5)" fill="#fff" stroke="#1a1a1a" stroke-width="1.1" />
<path d="M694 577 L697 580 M691.5 579.5 L693.5 581.5" fill="none" stroke="#1a1a1a" stroke-width="1.2" />
<ellipse cx="706" cy="572.5" rx="6.6" ry="3.30" transform="rotate(47 706 572.5)" fill="#fff" stroke="#1a1a1a" stroke-width="1.2" />
<path d="M710.5011891764125 577.3269344306865 L715.0011891764125 573.3269344306865 L705.9988108235875 563.6730655693135 L701.4988108235875 567.6730655693135 Z" fill="#fff" stroke="none" stroke-width="0" />
<line x1="710.5" y1="577.3" x2="715.0" y2="573.3" stroke="#1a1a1a" stroke-width="1.2" />
<line x1="701.5" y1="567.7" x2="706.0" y2="563.7" stroke="#1a1a1a" stroke-width="1.2" />
<ellipse cx="710.5" cy="568.5" rx="6.6" ry="3.30" transform="rotate(47 710.5 568.5)" fill="#fff" stroke="#1a1a1a" stroke-width="1.2" />
<ellipse cx="710.3" cy="568.7" rx="4.4" ry="2.30" transform="rotate(47 710.3 568.7)" fill="none" stroke="#1a1a1a" stroke-width="1.3" />
<ellipse cx="707.3" cy="571.3" rx="6.6" ry="3.30" transform="rotate(47 707.3 571.3)" fill="none" stroke="#1a1a1a" stroke-width="0.8" />
<ellipse cx="724" cy="555.5" rx="15.2" ry="6.84" transform="rotate(47 724 555.5)" fill="#fff" stroke="#1a1a1a" stroke-width="1.5" />
<path d="M734.36637507295 566.6165762646114 L735.86637507295 565.1165762646114 L715.13362492705 542.8834237353886 L713.63362492705 544.3834237353886 Z" fill="#fff" stroke="none" stroke-width="0" />
<line x1="734.4" y1="566.6" x2="735.9" y2="565.1" stroke="#1a1a1a" stroke-width="1.5" />
<line x1="713.6" y1="544.4" x2="715.1" y2="542.9" stroke="#1a1a1a" stroke-width="1.5" />
<ellipse cx="725.5" cy="554" rx="15.2" ry="6.84" transform="rotate(47 725.5 554)" fill="#fff" stroke="#1a1a1a" stroke-width="1.5" />
<ellipse cx="725.5" cy="554" rx="12.6" ry="5.60" transform="rotate(47 725.5 554)" fill="none" stroke="#1a1a1a" stroke-width="0.9" />
<ellipse cx="725.5" cy="554" rx="10" ry="4.40" transform="rotate(47 725.5 554)" fill="none" stroke="#1a1a1a" stroke-width="2" />
<ellipse cx="725.8" cy="553.8" rx="7.8" ry="3.40" transform="rotate(47 725.8 553.8)" fill="none" stroke="#1a1a1a" stroke-width="0.9" />
<circle cx="731.8" cy="563.0" r="0.9" fill="#fff" stroke="#1a1a1a" stroke-width="0.6"/>
<circle cx="725.9" cy="560.9" r="0.9" fill="#fff" stroke="#1a1a1a" stroke-width="0.6"/>
<circle cx="719.7" cy="554.8" r="0.9" fill="#fff" stroke="#1a1a1a" stroke-width="0.6"/>
<circle cx="716.9" cy="548.2" r="0.9" fill="#fff" stroke="#1a1a1a" stroke-width="0.6"/>
<circle cx="719.2" cy="545.0" r="0.9" fill="#fff" stroke="#1a1a1a" stroke-width="0.6"/>
<circle cx="725.1" cy="547.1" r="0.9" fill="#fff" stroke="#1a1a1a" stroke-width="0.6"/>
<circle cx="731.3" cy="553.2" r="0.9" fill="#fff" stroke="#1a1a1a" stroke-width="0.6"/>
<circle cx="734.1" cy="559.8" r="0.9" fill="#fff" stroke="#1a1a1a" stroke-width="0.6"/>
<ellipse cx="739.5" cy="540" rx="7.6" ry="3.6" transform="rotate(47 739.5 540)" fill="none" stroke="#1a1a1a" stroke-width="1.5" stroke-dasharray="40 6" stroke-dashoffset="-12"/>
<path d="M718.7 588.8 L724.9 584 L735.8 590.2 L738.6 601.2 L741.3 617.6 L744.8 623.1 L737.2 627.9 L729 624.5 L728.3 619 L729.7 610.8 L724.2 597 L719.4 593 Z" fill="#fff" stroke="#1a1a1a" stroke-width="1.3" />
<path d="M724.9 584 L728.5 593.5 L733 604 L734 620 L737.2 627.9 M728.5 593.5 L735.8 590.2 M733 604 L738.6 601.2 M734 620 L741.3 617.6 M719.4 593 L724 589.5 L728.5 593.5" fill="none" stroke="#1a1a1a" stroke-width="0.9" />
<path d="M729.5 597 L732 610 L732.5 618" fill="none" stroke="#333" stroke-width="2.4" />
<path d="M729.7 610.8 L732 612 M728.3 619 L731.5 622.5 L737.2 627.9" fill="none" stroke="#1a1a1a" stroke-width="0.8" />
<ellipse cx="754" cy="526" rx="2" ry="1.00" transform="rotate(47 754 526)" fill="#fff" stroke="#1a1a1a" stroke-width="1" />
<path d="M755.363996720125 527.4627074032384 L766.363996720125 517.4627074032384 L763.636003279875 514.5372925967616 L752.636003279875 524.5372925967616 Z" fill="#fff" stroke="none" stroke-width="0" />
<line x1="755.4" y1="527.5" x2="766.4" y2="517.5" stroke="#1a1a1a" stroke-width="1" />
<line x1="752.6" y1="524.5" x2="763.6" y2="514.5" stroke="#1a1a1a" stroke-width="1" />
<ellipse cx="765" cy="516" rx="2" ry="1.00" transform="rotate(47 765 516)" fill="#fff" stroke="#1a1a1a" stroke-width="1" />
<ellipse cx="780.8" cy="501.5" rx="13" ry="6.00" transform="rotate(47 780.8 501.5)" fill="#fff" stroke="#1a1a1a" stroke-width="1.2" />
<path d="M789.6659786808125 511.0075981210492 L811.5659786808126 488.80759812104924 L793.8340213191875 469.7924018789508 L771.9340213191874 491.9924018789508 Z" fill="#fff" stroke="none" stroke-width="0" />
<line x1="789.7" y1="511.0" x2="811.6" y2="488.8" stroke="#1a1a1a" stroke-width="1.2" />
<line x1="771.9" y1="492.0" x2="793.8" y2="469.8" stroke="#1a1a1a" stroke-width="1.2" />
<ellipse cx="802.7" cy="479.3" rx="13" ry="6.00" transform="rotate(47 802.7 479.3)" fill="#fff" stroke="none" stroke-width="0" />
<path d="M774.6 489.3 L775.3 488.8 L776.1 488.6 L777.0 488.5 L778.0 488.5 L779.1 488.8 L780.3 489.2 L781.6 489.8 L782.9 490.5 L784.2 491.4 L785.4 492.4 L786.7 493.5 L787.9 494.7 L789.0 496.0 L790.0 497.3 L790.9 498.7 L791.7 500.0 L792.4 501.3 L792.9 502.6 L793.2 503.9 L793.4 505.0 L793.4 506.0 L793.2 506.9 L792.9 507.7 L792.4 508.3" fill="none" stroke="#1a1a1a" stroke-width="2.2" />
<path d="M791.6 472.0 L792.3 471.5 L793.1 471.3 L794.0 471.2 L795.0 471.2 L796.1 471.5 L797.3 471.9 L798.6 472.5 L799.9 473.2 L801.2 474.1 L802.4 475.1 L803.7 476.2 L804.9 477.4 L806.0 478.7 L807.0 480.0 L807.9 481.4 L808.7 482.7 L809.4 484.0 L809.9 485.3 L810.2 486.6 L810.4 487.7 L810.4 488.7 L810.2 489.6 L809.9 490.4 L809.4 491.0" fill="none" stroke="#1a1a1a" stroke-width="2" />
<ellipse cx="774" cy="508.5" rx="22.6" ry="9.50" transform="rotate(47 774 508.5)" fill="#fff" stroke="#1a1a1a" stroke-width="1.4" />
<line x1="782.0" y1="503.2" x2="777.5" y2="507.4" stroke="#1a1a1a" stroke-width="1.5" />
<line x1="784.9" y1="506.9" x2="780.4" y2="511.1" stroke="#1a1a1a" stroke-width="1.5" />
<line x1="787.4" y1="510.6" x2="782.9" y2="514.8" stroke="#1a1a1a" stroke-width="1.5" />
<line x1="789.2" y1="514.2" x2="784.7" y2="518.4" stroke="#1a1a1a" stroke-width="1.5" />
<line x1="790.4" y1="517.6" x2="785.9" y2="521.8" stroke="#1a1a1a" stroke-width="1.5" />
<line x1="790.9" y1="520.6" x2="786.4" y2="524.8" stroke="#1a1a1a" stroke-width="1.5" />
<line x1="790.6" y1="523.0" x2="786.1" y2="527.2" stroke="#1a1a1a" stroke-width="1.5" />
<line x1="789.6" y1="524.8" x2="785.1" y2="529.0" stroke="#1a1a1a" stroke-width="1.5" />
<line x1="787.9" y1="525.9" x2="783.4" y2="530.1" stroke="#1a1a1a" stroke-width="1.5" />
<line x1="785.6" y1="526.3" x2="781.1" y2="530.5" stroke="#1a1a1a" stroke-width="1.5" />
<line x1="782.8" y1="525.8" x2="778.3" y2="530.0" stroke="#1a1a1a" stroke-width="1.5" />
<line x1="779.6" y1="524.6" x2="775.1" y2="528.8" stroke="#1a1a1a" stroke-width="1.5" />
<line x1="776.1" y1="522.7" x2="771.6" y2="526.9" stroke="#1a1a1a" stroke-width="1.5" />
<line x1="772.6" y1="520.1" x2="768.1" y2="524.3" stroke="#1a1a1a" stroke-width="1.5" />
<line x1="769.1" y1="517.1" x2="764.6" y2="521.3" stroke="#1a1a1a" stroke-width="1.5" />
<line x1="765.9" y1="513.7" x2="761.4" y2="517.9" stroke="#1a1a1a" stroke-width="1.5" />
<ellipse cx="771.5" cy="510.8" rx="22.6" ry="9.50" transform="rotate(47 771.5 510.8)" fill="none" stroke="#1a1a1a" stroke-width="0.8" />
<path d="M794.5 471.5 Q800 464 806.5 463.5 L811 459" fill="none" stroke="#1a1a1a" stroke-width="1.1" />
<path d="M811 487 Q818 486 818.5 479.5 L823 475" fill="none" stroke="#1a1a1a" stroke-width="1.1" />
<path d="M806.5 463.5 L813 456.5 L829 471.5 L822.5 478 L818.5 479.5 Z" fill="#fff" stroke="none" stroke-width="0" />
<path d="M801.3 464.8 L801.9 464.5 L802.5 464.2 L803.2 464.2 L804.1 464.2 L805.0 464.4 L805.9 464.8 L806.9 465.2 L808.0 465.8 L809.0 466.5 L810.0 467.4 L811.0 468.3 L812.0 469.2 L812.9 470.3 L813.7 471.3 L814.5 472.4 L815.1 473.5 L815.6 474.6 L816.0 475.6 L816.3 476.6 L816.5 477.5 L816.5 478.3 L816.3 479.1 L816.1 479.7 L815.7 480.2" fill="none" stroke="#1a1a1a" stroke-width="1.8" />
<path d="M804.5 462.0 L805.0 461.7 L805.7 461.5 L806.4 461.4 L807.2 461.5 L808.0 461.7 L809.0 462.0 L809.9 462.5 L810.9 463.1 L811.9 463.7 L812.9 464.5 L813.9 465.4 L814.9 466.4 L815.7 467.4 L816.6 468.4 L817.3 469.5 L817.9 470.5 L818.4 471.6 L818.8 472.6 L819.1 473.5 L819.2 474.4 L819.2 475.2 L819.1 475.9 L818.8 476.5 L818.5 477.0" fill="none" stroke="#1a1a1a" stroke-width="1" />
<path d="M807.3 459.8 L807.8 459.5 L808.4 459.3 L809.1 459.2 L809.8 459.3 L810.7 459.5 L811.5 459.8 L812.5 460.3 L813.4 460.8 L814.4 461.5 L815.4 462.2 L816.3 463.1 L817.2 464.0 L818.1 465.0 L818.8 466.0 L819.5 467.0 L820.1 468.0 L820.6 469.0 L821.0 469.9 L821.3 470.9 L821.4 471.7 L821.4 472.5 L821.3 473.1 L821.0 473.7 L820.7 474.2" fill="none" stroke="#1a1a1a" stroke-width="1.6" />
<path d="M806.5 463.5 L813.5 456.5 M821.5 478 L828.5 471" fill="none" stroke="#1a1a1a" stroke-width="1.1" />
<ellipse cx="820.5" cy="464.8" rx="11" ry="4.62" transform="rotate(47 820.5 464.8)" fill="#fff" stroke="#1a1a1a" stroke-width="1.2" />
<path d="M828.0019819606874 472.84489071781087 L829.5019819606874 471.34489071781087 L814.4980180393126 455.25510928218915 L812.9980180393126 456.75510928218915 Z" fill="#fff" stroke="none" stroke-width="0" />
<line x1="828.0" y1="472.8" x2="829.5" y2="471.3" stroke="#1a1a1a" stroke-width="1.2" />
<line x1="813.0" y1="456.8" x2="814.5" y2="455.3" stroke="#1a1a1a" stroke-width="1.2" />
<ellipse cx="822" cy="463.3" rx="11" ry="4.62" transform="rotate(47 822 463.3)" fill="#fff" stroke="#1a1a1a" stroke-width="1.2" />
<ellipse cx="815" cy="457.5" rx="1.6" ry="1.10" transform="rotate(47 815 457.5)" fill="none" stroke="#1a1a1a" stroke-width="0.9" />
<ellipse cx="824.5" cy="461" rx="1.9" ry="0.95" transform="rotate(47 824.5 461)" fill="#fff" stroke="#1a1a1a" stroke-width="0.9" />
<path d="M825.7957968841188 462.38957203307643 L830.2957968841188 458.18957203307644 L827.7042031158812 455.4104279669236 L823.2042031158812 459.61042796692357 Z" fill="#fff" stroke="none" stroke-width="0" />
<line x1="825.8" y1="462.4" x2="830.3" y2="458.2" stroke="#1a1a1a" stroke-width="0.9" />
<line x1="823.2" y1="459.6" x2="827.7" y2="455.4" stroke="#1a1a1a" stroke-width="0.9" />
<ellipse cx="829" cy="456.8" rx="1.9" ry="0.95" transform="rotate(47 829 456.8)" fill="#fff" stroke="#1a1a1a" stroke-width="0.9" />
<line x1="826" y1="457.5" x2="828.2" y2="460" stroke="#1a1a1a" stroke-width="0.8" />
<line x1="824.6" y1="458.8" x2="826.8" y2="461.3" stroke="#1a1a1a" stroke-width="0.8" />
<circle cx="791" cy="482" r="0.9" fill="#1a1a1a"/>
<ellipse cx="768.8" cy="513.3" rx="22.6" ry="9.50" transform="rotate(47 768.8 513.3)" fill="#fff" stroke="#1a1a1a" stroke-width="1.6" />
<ellipse cx="768.8" cy="513.3" rx="19" ry="7.80" transform="rotate(47 768.8 513.3)" fill="none" stroke="#1a1a1a" stroke-width="1" />
<ellipse cx="768.8" cy="513.3" rx="16" ry="6.40" transform="rotate(47 768.8 513.3)" fill="none" stroke="#1a1a1a" stroke-width="1.5" />
<ellipse cx="768.6" cy="513.5" rx="11" ry="4.40" transform="rotate(47 768.6 513.5)" fill="none" stroke="#1a1a1a" stroke-width="1" />
<ellipse cx="768.4" cy="513.7" rx="6" ry="2.60" transform="rotate(47 768.4 513.7)" fill="none" stroke="#1a1a1a" stroke-width="1.2" />
<line x1="758" y1="505" x2="765" y2="511.5" stroke="#1a1a1a" stroke-width="1" />
<line x1="772" y1="516" x2="780" y2="522.5" stroke="#1a1a1a" stroke-width="1" />
<line x1="762" y1="520" x2="767" y2="515.5" stroke="#1a1a1a" stroke-width="1" />
<line x1="771" y1="511.5" x2="776" y2="507" stroke="#1a1a1a" stroke-width="1" />
<ellipse cx="757" cy="523.5" rx="2" ry="1.00" transform="rotate(47 757 523.5)" fill="#fff" stroke="#1a1a1a" stroke-width="1" />
<path d="M758.363996720125 524.9627074032384 L767.363996720125 516.4627074032384 L764.636003279875 513.5372925967616 L755.636003279875 522.0372925967616 Z" fill="#fff" stroke="none" stroke-width="0" />
<line x1="758.4" y1="525.0" x2="767.4" y2="516.5" stroke="#1a1a1a" stroke-width="1" />
<line x1="755.6" y1="522.0" x2="764.6" y2="513.5" stroke="#1a1a1a" stroke-width="1" />
<ellipse cx="766" cy="515" rx="2" ry="1.00" transform="rotate(47 766 515)" fill="#fff" stroke="#1a1a1a" stroke-width="1" />
<ellipse cx="754" cy="526" rx="2" ry="1.00" transform="rotate(47 754 526)" fill="#fff" stroke="#1a1a1a" stroke-width="0.9" />
<ellipse cx="836" cy="450" rx="7.3" ry="3.65" transform="rotate(47 836 450)" fill="#fff" stroke="#1a1a1a" stroke-width="1.3" />
<path d="M840.9785880284562 455.3388820218199 L844.9785880284562 451.63888202181994 L835.0214119715438 440.9611179781801 L831.0214119715438 444.6611179781801 Z" fill="#fff" stroke="none" stroke-width="0" />
<line x1="841.0" y1="455.3" x2="845.0" y2="451.6" stroke="#1a1a1a" stroke-width="1.3" />
<line x1="831.0" y1="444.7" x2="835.0" y2="441.0" stroke="#1a1a1a" stroke-width="1.3" />
<ellipse cx="840" cy="446.3" rx="7.3" ry="3.65" transform="rotate(47 840 446.3)" fill="#fff" stroke="#1a1a1a" stroke-width="1.3" />
<ellipse cx="839.8" cy="446.5" rx="5" ry="2.40" transform="rotate(47 839.8 446.5)" fill="none" stroke="#1a1a1a" stroke-width="1.6" />
<ellipse cx="837" cy="449" rx="7.3" ry="3.60" transform="rotate(47 837 449)" fill="none" stroke="#1a1a1a" stroke-width="0.8" />
<ellipse cx="846.5" cy="440.5" rx="8.5" ry="4.25" transform="rotate(47 846.5 440.5)" fill="#fff" stroke="#1a1a1a" stroke-width="1.3" />
<path d="M852.2969860605313 446.7165064637629 L858.2969860605313 441.2165064637629 L846.7030139394687 428.7834935362371 L840.7030139394687 434.2834935362371 Z" fill="#fff" stroke="none" stroke-width="0" />
<line x1="852.3" y1="446.7" x2="858.3" y2="441.2" stroke="#1a1a1a" stroke-width="1.3" />
<line x1="840.7" y1="434.3" x2="846.7" y2="428.8" stroke="#1a1a1a" stroke-width="1.3" />
<ellipse cx="852.5" cy="435" rx="8.5" ry="4.25" transform="rotate(47 852.5 435)" fill="#fff" stroke="#1a1a1a" stroke-width="1.3" />
<ellipse cx="852.3" cy="435.2" rx="6.6" ry="3.10" transform="rotate(47 852.3 435.2)" fill="none" stroke="#1a1a1a" stroke-width="0.9" />
<line x1="848" y1="431.5" x2="853" y2="437" stroke="#1a1a1a" stroke-width="0.9" />
<circle cx="852.5" cy="431.8" r="0.7" fill="#1a1a1a"/>
<ellipse cx="857.5" cy="431" rx="5.6" ry="2.80" transform="rotate(47 857.5 431)" fill="#fff" stroke="#1a1a1a" stroke-width="1.3" />
<path d="M861.31919081635 435.09558072906736 L865.31919081635 431.3955807290674 L857.68080918365 423.20441927093265 L853.68080918365 426.90441927093264 Z" fill="#fff" stroke="none" stroke-width="0" />
<line x1="861.3" y1="435.1" x2="865.3" y2="431.4" stroke="#1a1a1a" stroke-width="1.3" />
<line x1="853.7" y1="426.9" x2="857.7" y2="423.2" stroke="#1a1a1a" stroke-width="1.3" />
<ellipse cx="861.5" cy="427.3" rx="5.6" ry="2.80" transform="rotate(47 861.5 427.3)" fill="#fff" stroke="#1a1a1a" stroke-width="1.3" />
<ellipse cx="861.3" cy="427.5" rx="3.2" ry="1.60" transform="rotate(47 861.3 427.5)" fill="none" stroke="#1a1a1a" stroke-width="1" />
<line x1="856" y1="427.5" x2="860" y2="423.8" stroke="#1a1a1a" stroke-width="0.9" />
<line x1="859.5" y1="431.5" x2="863.5" y2="427.8" stroke="#1a1a1a" stroke-width="0.9" />
<path d="M853.9 580.3 L856 576.2 L876 559.7 L885.3 557.6 L932.6 521.6 L938.8 522.1 L944 528 L947.5 534 L945 538.6 L940.9 539.6 L938.8 536 L927.5 547.3 L893.5 574.1 L893.5 587.5 L885.3 589.5 L881.2 606 L876.5 611.1 L865.7 602.9 L857.5 590.6 Z" fill="#fff" stroke="#1a1a1a" stroke-width="1.4" />
<path d="M858 577.5 L877 562 L886.5 560 L933 524.5" fill="none" stroke="#999" stroke-width="2.6" />
<path d="M858 577.5 L877 562 L886.5 560 L933 524.5" fill="none" stroke="#fff" stroke-width="0.8" stroke-dasharray="1.5 1.5"/>
<path d="M857 580.5 L878.5 564.5 L888 562.5 L934 527" fill="none" stroke="#1a1a1a" stroke-width="1" />
<path d="M933 524.5 L940 530 L944 536.5 M936.5 523 L942.5 529.5 M940 530 L936 534 L938.8 536" fill="none" stroke="#1a1a1a" stroke-width="1.1" />
<path d="M925.5 533.5 L933 538.5 L927.5 544 L920.5 539 Z" fill="#fff" stroke="#1a1a1a" stroke-width="1" />
<path d="M909 546 L917 541.5 L922 545 L913.5 550.5 Z M913.5 550.5 L914.5 554" fill="none" stroke="#1a1a1a" stroke-width="1" />
<path d="M901 552 L909 546" fill="none" stroke="#1a1a1a" stroke-width="0.9" />
<path d="M888 562.5 L888 570 L893.5 574.1 M884.5 565.5 L884 573 L893.5 587.5 M879 569 L878.5 577.5 L885.3 589.5" fill="none" stroke="#1a1a1a" stroke-width="1.4" />
<path d="M878.5 577.5 L884 573 M884 573 L888 570" fill="none" stroke="#1a1a1a" stroke-width="1.2" />
<path d="M884 573 L893.5 587.5 L888.5 575.5 Z" fill="#222" stroke="#1a1a1a" stroke-width="1" />
<path d="M878.5 577.5 L885.3 589.5 L882 579.5 Z" fill="#555" stroke="#1a1a1a" stroke-width="1" />
<path d="M890 566 L897 561 L898 563.5 L891 568.5 Z" fill="#222" stroke="#1a1a1a" stroke-width="0.5" />
<path d="M884.5 560.5 L888 558.5 L888 562 L884.5 564 Z" fill="#222" stroke="#1a1a1a" stroke-width="0.5" />
<path d="M895.5 556 L897.5 554.5 L897.5 558 L895.5 559.5 Z" fill="#222" stroke="#1a1a1a" stroke-width="0.5" />
<path d="M888.5 569.5 L894.5 565.5 L895.5 568 L889.5 572 Z" fill="#444" stroke="#1a1a1a" stroke-width="0.5" />
<path d="M893.5 574.1 L927.5 547.3" fill="none" stroke="#1a1a1a" stroke-width="2" />
<path d="M899 553.5 L903 550.5 M904.5 556 L905.5 552.5 L909 550" fill="none" stroke="#1a1a1a" stroke-width="1.2" />
<path d="M938.8 522.1 L944 528 L947.5 534 L945 538.6 L940.9 539.6 L938.8 536 L941.5 533 L938 527.5 L934.5 524.5 Z" fill="#333" stroke="#1a1a1a" stroke-width="1" />
<path d="M940.5 526.5 L944.5 532 M941 535.5 L944 536.5" fill="none" stroke="#ddd" stroke-width="0.8" />
<path d="M856.5 581 Q862 577.5 867 581 Q872 590 873 599 L880.5 605" fill="none" stroke="#1a1a1a" stroke-width="1.3" />
<path d="M858.8 584 Q862.5 581.5 865.5 584.5 Q869.5 592 870.5 600.5 L877 606.5" fill="none" stroke="#222" stroke-width="2.6" />
<path d="M861.5 586.5 Q864.8 591.5 866.8 600 L873.5 606" fill="none" stroke="#1a1a1a" stroke-width="1.2" />
<path d="M867 581 L876 574.5 L878.5 577.5 M873 587 L879 583 M874.5 594 L881 589.5 L885.3 589.5 M876 599 L882 595" fill="none" stroke="#1a1a1a" stroke-width="1.2" />
<path d="M869 584 L875.5 579.5 M871 589.5 L877 585.5 M872.5 596.5 L878.5 592.5" fill="none" stroke="#333" stroke-width="1.6" />
<path d="M876.5 611.1 L874.5 608 L879 604 M881.2 606 L878 602.5" fill="none" stroke="#1a1a1a" stroke-width="1.1" />
<ellipse cx="905.5" cy="514" rx="2.6" ry="2" transform="rotate(25 905.5 514)" fill="#111"/>
<line x1="905.5" y1="514" x2="911.5" y2="516.9" stroke="#111" stroke-width="2.4" />
<ellipse cx="916.5" cy="518.3" rx="2.6" ry="2" transform="rotate(25 916.5 518.3)" fill="#111"/>
<line x1="916.5" y1="518.3" x2="922.5" y2="521.1999999999999" stroke="#111" stroke-width="2.4" />
<ellipse cx="877" cy="545" rx="2.6" ry="2" transform="rotate(25 877 545)" fill="#111"/>
<line x1="877" y1="545" x2="883" y2="547.9" stroke="#111" stroke-width="2.4" />
<ellipse cx="844.5" cy="567" rx="2.6" ry="2" transform="rotate(25 844.5 567)" fill="#111"/>
<line x1="844.5" y1="567" x2="850.5" y2="569.9" stroke="#111" stroke-width="2.4" />
<ellipse cx="857" cy="563" rx="2.6" ry="2" transform="rotate(25 857 563)" fill="#111"/>
<line x1="857" y1="563" x2="863" y2="565.9" stroke="#111" stroke-width="2.4" />
<ellipse cx="1044.5" cy="599.5" rx="2.6" ry="2" transform="rotate(25 1044.5 599.5)" fill="#111"/>
<line x1="1044.5" y1="599.5" x2="1050.5" y2="602.4" stroke="#111" stroke-width="2.4" />
<ellipse cx="1046.5" cy="606.5" rx="2.6" ry="2" transform="rotate(25 1046.5 606.5)" fill="#111"/>
<line x1="1046.5" y1="606.5" x2="1052.5" y2="609.4" stroke="#111" stroke-width="2.4" />
<path d="M908.4 581.8 L925.4 566.9 Q927 566 929 567 L939.5 573.5 Q941.5 575.5 940 577.5 L926 590.5 Q924.4 591.8 922.5 590.5 L910 583.5 Z" fill="#fff" stroke="#1a1a1a" stroke-width="1.8" />
<path d="M909.5 583.5 L923 591.5 L926.5 590.5" fill="none" stroke="#1a1a1a" stroke-width="0.8" />
<line x1="924" y1="586" x2="936" y2="575.5" stroke="#999" stroke-width="0.8" />
<line x1="926" y1="587.5" x2="938" y2="577" stroke="#999" stroke-width="0.8" />
<circle cx="930.6" cy="572.6" r="1" fill="#1a1a1a"/>
<circle cx="917.2" cy="581.8" r="1.2" fill="#1a1a1a"/>
<line x1="914" y1="570.5" x2="917" y2="581" stroke="#444" stroke-width="0.7" />
<ellipse cx="913" cy="568.6" rx="1.8" ry="2.1" fill="#111"/>
<ellipse cx="927.6" cy="603.6" rx="1.8" ry="2.1" fill="#111"/>
<path d="M915.5 610 Q917 608 919 609.5 Q921 611 919.5 612.5 L923 614 Q925 614.5 925.5 612.5" fill="none" stroke="#1a1a1a" stroke-width="0.9" />
<circle cx="917.2" cy="610.3" r="1.6" fill="#fff" stroke="#1a1a1a" stroke-width="0.9"/>
<path d="M931 609.5 L937 605.5 L943.5 607.5 L944 614 L940 618.5 L934 617 Z" fill="#fff" stroke="#1a1a1a" stroke-width="1.2" />
<path d="M933 610.5 L938 607.5 L942 609 L942 613.5 L939 616.5 L935 615.5 Z" fill="#444" stroke="#1a1a1a" stroke-width="1" />
<path d="M937 605.5 L936 602 Q937 598.5 941 597.5" fill="none" stroke="#666" stroke-width="0.8" />
<path d="M938.5 610 L940 612.5 M935.5 612 L937.5 614" fill="none" stroke="#fff" stroke-width="0.8" />
<path d="M940 618.5 L941 621.5 L944.5 620 L944 614" fill="none" stroke="#1a1a1a" stroke-width="1" />
<path d="M977 532.5 L954.9 518.2 Q951.5 516 954.4 513.3 L976.6 492.2 Q979.5 489.5 983.0 491.4 L1104 558.5 C1114 564 1123 570 1121 579 C1119 588 1108 592 1101 595" fill="none" stroke="#1a1a1a" stroke-width="4.4" />
<path d="M977 532.5 L954.9 518.2 Q951.5 516 954.4 513.3 L976.6 492.2 Q979.5 489.5 983.0 491.4 L1104 558.5 C1114 564 1123 570 1121 579 C1119 588 1108 592 1101 595" fill="none" stroke="#fff" stroke-width="2.6" />
<rect x="1101.2" y="555.5" width="1.6" height="3.6" transform="rotate(30 1102 557.3)" fill="#1a1a1a"/>
<path d="M976.3 531.8 L978.8 529.3 L989 538.5 L986.5 544 Z" fill="#222" stroke="#1a1a1a" stroke-width="0.8" />
<line x1="978.5" y1="531.2" x2="977.1999999999999" y2="534.0" stroke="#bbb" stroke-width="0.5" />
<line x1="980.8" y1="533.5" x2="979.4999999999999" y2="536.3" stroke="#bbb" stroke-width="0.5" />
<line x1="983.1" y1="535.8000000000001" x2="981.8" y2="538.6" stroke="#bbb" stroke-width="0.5" />
<line x1="985.4" y1="538.1" x2="984.0999999999999" y2="540.9" stroke="#bbb" stroke-width="0.5" />
<ellipse cx="989.3" cy="541.6" rx="11" ry="5.00" transform="rotate(-65 989.3 541.6)" fill="#fff" stroke="#1a1a1a" stroke-width="1.2" />
<path d="M993.9488008791476 531.6306143425969 L998.2488008791477 533.6306143425969 L988.9511991208524 553.5693856574031 L984.6511991208523 551.5693856574031 Z" fill="#fff" stroke="none" stroke-width="0" />
<line x1="993.9" y1="531.6" x2="998.2" y2="533.6" stroke="#1a1a1a" stroke-width="1.2" />
<line x1="984.7" y1="551.6" x2="989.0" y2="553.6" stroke="#1a1a1a" stroke-width="1.2" />
<ellipse cx="993.6" cy="543.6" rx="11" ry="5.00" transform="rotate(-65 993.6 543.6)" fill="#fff" stroke="#1a1a1a" stroke-width="1.2" />
<ellipse cx="993.8" cy="543.7" rx="8.6" ry="3.60" transform="rotate(-65 993.8 543.7)" fill="none" stroke="#1a1a1a" stroke-width="0.9" />
<path d="M991 532.5 Q994.5 530.5 998 533.5 L1001.5 537.5 L999.5 539.5" fill="#fff" stroke="#1a1a1a" stroke-width="1.1" />
<path d="M994.5 540.4 L1002.4 543.8 M995.2 549.3 L1003.1 552.7" fill="none" stroke="#1a1a1a" stroke-width="2.4" />
<path d="M994.8 540.5 L1002.1 543.7 M995.5 549.4 L1002.8 552.6" fill="none" stroke="#fff" stroke-width="0.8" />
<path d="M989.5 547 Q991 544.5 993 546" fill="none" stroke="#1a1a1a" stroke-width="0.9" />
<ellipse cx="983.4" cy="621" rx="23.4" ry="9.60" transform="rotate(43 983.4 621)" fill="none" stroke="#1a1a1a" stroke-width="2" />
<ellipse cx="1005" cy="601.8" rx="23.2" ry="11.00" transform="rotate(43 1005 601.8)" fill="#fff" stroke="#1a1a1a" stroke-width="1.5" />
<path d="M1021.9674058775647 617.62236195345 L1015.7674058775647 623.82236195345 L981.8325941224352 592.17763804655 L988.0325941224353 585.9776380465499 Z" fill="#fff" stroke="none" stroke-width="0" />
<line x1="1022.0" y1="617.6" x2="1015.8" y2="623.8" stroke="#1a1a1a" stroke-width="1.5" />
<line x1="988.0" y1="586.0" x2="981.8" y2="592.2" stroke="#1a1a1a" stroke-width="1.5" />
<ellipse cx="998.8" cy="608" rx="23.2" ry="11.00" transform="rotate(43 998.8 608)" fill="#fff" stroke="#1a1a1a" stroke-width="1.5" />
<path d="M987.6 586.7 L988.9 586.2 L990.4 585.9 L992.1 585.9 L993.9 586.1 L995.8 586.5 L997.9 587.2 L1000.0 588.1 L1002.2 589.2 L1004.4 590.6 L1006.5 592.1 L1008.7 593.8 L1010.7 595.6 L1012.6 597.5 L1014.5 599.5 L1016.1 601.5 L1017.6 603.6 L1018.9 605.7 L1019.9 607.8 L1020.8 609.8 L1021.3 611.7 L1021.7 613.5 L1021.7 615.1 L1021.6 616.6 L1021.1 618.0" fill="none" stroke="#1a1a1a" stroke-width="1.3" />
<path d="M985.6 588.7 L986.9 588.2 L988.4 587.9 L990.1 587.9 L991.9 588.1 L993.8 588.5 L995.9 589.2 L998.0 590.1 L1000.2 591.2 L1002.4 592.6 L1004.5 594.1 L1006.7 595.8 L1008.7 597.6 L1010.6 599.5 L1012.5 601.5 L1014.1 603.5 L1015.6 605.6 L1016.9 607.7 L1017.9 609.8 L1018.8 611.8 L1019.3 613.7 L1019.7 615.5 L1019.7 617.1 L1019.6 618.6 L1019.1 620.0" fill="none" stroke="#1a1a1a" stroke-width="1.1" />
<clipPath id="c63"><ellipse cx="999.1" cy="607.7" rx="20.8" ry="9.3" transform="rotate(43 999.1 607.7)"/></clipPath>
<g clip-path="url(#c63)">
<ellipse cx="1000.5" cy="606.3000000000001" rx="20.8" ry="9.30" transform="rotate(43 1000.5 606.3000000000001)" fill="none" stroke="#1a1a1a" stroke-width="1.1" />
<ellipse cx="1001.9" cy="604.9000000000001" rx="20.8" ry="9.30" transform="rotate(43 1001.9 604.9000000000001)" fill="none" stroke="#1a1a1a" stroke-width="1.1" />
<ellipse cx="1003.3000000000001" cy="603.5" rx="20.8" ry="9.30" transform="rotate(43 1003.3000000000001 603.5)" fill="none" stroke="#1a1a1a" stroke-width="1.1" />
<ellipse cx="1004.7" cy="602.1" rx="20.8" ry="9.30" transform="rotate(43 1004.7 602.1)" fill="none" stroke="#1a1a1a" stroke-width="1.1" />
<ellipse cx="1006.1" cy="600.7" rx="20.8" ry="9.30" transform="rotate(43 1006.1 600.7)" fill="none" stroke="#1a1a1a" stroke-width="1.1" />
</g>
<ellipse cx="999.1" cy="607.7" rx="20.8" ry="9.30" transform="rotate(43 999.1 607.7)" fill="none" stroke="#1a1a1a" stroke-width="2" />
<ellipse cx="998.8" cy="608" rx="23.2" ry="11.00" transform="rotate(43 998.8 608)" fill="none" stroke="#1a1a1a" stroke-width="1.7" />
<path d="M1009 576 Q1011 572.5 1015.9 571.5 L1024 575.5 L1032.3 582.3 Q1035.5 585 1035.4 588.5 L1033 593.5 Q1031 596.5 1028.5 596.3 L1018 590.5 L1011.7 585.4 Q1008.5 581 1009 576 Z" fill="#fff" stroke="#1a1a1a" stroke-width="1.3" />
<path d="M1009.5 577.5 Q1012.5 575 1016 576 L1029.5 586 Q1031 589.5 1029 595.5" fill="none" stroke="#1a1a1a" stroke-width="1" />
<path d="M1014 580 L1020 578.5 L1022.5 582.5 L1017.5 585 Z" fill="none" stroke="#1a1a1a" stroke-width="1" />
<path d="M1026.5 580.5 L1030 583 M1027 590 L1030.5 592" fill="none" stroke="#1a1a1a" stroke-width="0.9" />
<circle cx="1017" cy="574.8" r="0.9" fill="#1a1a1a"/>
<circle cx="1027.5" cy="590" r="0.7" fill="#1a1a1a"/>
<path d="M1021 570 Q1022.5 566.5 1024.5 565 M1025 572.5 Q1026.5 569.5 1028.5 568.5 M1034 584 Q1037 581 1039 580.5 M1035 588 Q1038.5 586.5 1041 584.5" fill="none" stroke="#888" stroke-width="0.8" />
<line x1="1026.7" y1="550.8" x2="1019.3" y2="557.3" stroke="#111" stroke-width="2.4" />
<ellipse cx="1026.7" cy="550.8" rx="2.3" ry="1.3" transform="rotate(229 1026.7 550.8)" fill="#111"/>
<line x1="1055.5" y1="575.6" x2="1047.3" y2="582.8" stroke="#111" stroke-width="2.5" />
<ellipse cx="1055.5" cy="575.6" rx="2.3" ry="1.3" transform="rotate(229 1055.5 575.6)" fill="#111"/>
<ellipse cx="1058.5" cy="611" rx="5.2" ry="3.40" transform="rotate(-62 1058.5 611)" fill="#fff" stroke="#1a1a1a" stroke-width="1.4" />
<ellipse cx="1058.8" cy="611.2" rx="2.6" ry="1.60" transform="rotate(-62 1058.8 611.2)" fill="none" stroke="#1a1a1a" stroke-width="1.4" />
<ellipse cx="1071.5" cy="612.5" rx="1.6" ry="1.10" transform="rotate(60 1071.5 612.5)" fill="#fff" stroke="#1a1a1a" stroke-width="1" />
<path d="M1072.3 613.8856406460551 L1076.8 611.3856406460551 L1075.2 608.6143593539449 L1070.7 611.1143593539449 Z" fill="#fff" stroke="none" stroke-width="0" />
<line x1="1072.3" y1="613.9" x2="1076.8" y2="611.4" stroke="#1a1a1a" stroke-width="1" />
<line x1="1070.7" y1="611.1" x2="1075.2" y2="608.6" stroke="#1a1a1a" stroke-width="1" />
<ellipse cx="1076" cy="610" rx="1.6" ry="1.10" transform="rotate(60 1076 610)" fill="#fff" stroke="#1a1a1a" stroke-width="1" />
<path d="M1075 607.5 L1078 605.5 L1080.5 609 L1077.5 611.5 Z" fill="#fff" stroke="#1a1a1a" stroke-width="1.2" />
<ellipse cx="1078.5" cy="609" rx="3.6" ry="2.20" transform="rotate(60 1078.5 609)" fill="#fff" stroke="#1a1a1a" stroke-width="1.1" />
<path d="M1080.3 612.1176914536239 L1083.8 610.1176914536239 L1080.2 603.8823085463761 L1076.7 605.8823085463761 Z" fill="#fff" stroke="none" stroke-width="0" />
<line x1="1080.3" y1="612.1" x2="1083.8" y2="610.1" stroke="#1a1a1a" stroke-width="1.1" />
<line x1="1076.7" y1="605.9" x2="1080.2" y2="603.9" stroke="#1a1a1a" stroke-width="1.1" />
<ellipse cx="1082" cy="607" rx="3.6" ry="2.20" transform="rotate(60 1082 607)" fill="#fff" stroke="#1a1a1a" stroke-width="1.1" />
<path d="M1081.5 604 L1101.5 592.5 L1104 597 L1085 609.5 Z" fill="#fff" stroke="#1a1a1a" stroke-width="1.2" />
<path d="M1084.5 602.5 L1087.1 607.7" fill="none" stroke="#1a1a1a" stroke-width="1.6" />
<path d="M1088.3 600.25 L1090.8999999999999 605.45" fill="none" stroke="#1a1a1a" stroke-width="1.6" />
<path d="M1092.1 598.0 L1094.6999999999998 603.2" fill="none" stroke="#1a1a1a" stroke-width="1.6" />
<path d="M1095.9 595.75 L1098.5 600.95" fill="none" stroke="#1a1a1a" stroke-width="1.6" />
<path d="M1099.7 593.5 L1102.3 598.7" fill="none" stroke="#1a1a1a" stroke-width="1.6" />
<path d="M1010.6 645.7 L1036.8 616.7 L1040 619.5 L1043.5 622 L1048 617.8 L1052.4 621.2 L1051.3 627.3 L1026.8 652.4 L1024.5 656.9 L1016.7 657.4 L1014.5 652.4 L1011 649 Z" fill="#fff" stroke="#1a1a1a" stroke-width="1.3" />
<path d="M1013 646.5 L1037 620.5 M1016 650 L1041 623.5 M1024 652 L1047 628" fill="none" stroke="#1a1a1a" stroke-width="1" />
<path d="M1019 636.5 L1025 642 M1022 633 L1028.5 638.5 M1026.5 628 L1033 633.5 M1030 624 L1036.5 629.5" fill="none" stroke="#1a1a1a" stroke-width="1.1" />
<path d="M1023.5 632 L1027 628.5 L1031.5 632.5 L1028 636 Z" fill="#333" stroke="#1a1a1a" stroke-width="0.6" />
<path d="M1031 624 L1034 621 L1038 624.5 L1035 627.5 Z" fill="#333" stroke="#1a1a1a" stroke-width="0.6" />
<path d="M1016.5 640.5 L1019 638 L1023 641.5 L1020.5 644 Z" fill="#555" stroke="#1a1a1a" stroke-width="0.6" />
<path d="M1043.5 622 L1045.5 628.5 L1051.3 627.3 M1045.5 628.5 L1041 632" fill="none" stroke="#1a1a1a" stroke-width="1" />
<path d="M1014.5 652.4 L1018 649 L1022 652.5 L1024.5 656.9 M1018 649 L1016.7 657.4" fill="none" stroke="#1a1a1a" stroke-width="0.9" />
<path d="M996 660 L1003 655.8 L1011.5 661.3 L1011.3 664 L1004.5 668.3 L996 663 Z" fill="#fff" stroke="#1a1a1a" stroke-width="1.2" />
<path d="M996 660 L1004.5 665.5 L1011.5 661.3 M1004.5 665.5 L1004.5 668.3" fill="none" stroke="#1a1a1a" stroke-width="0.9" />
<circle cx="1001.2" cy="662.8" r="1" fill="#1a1a1a"/>
<path d="M1049.6 653 L1025 672.5 L1026.8 675.8 Q1035 681 1039 687 Q1041 690 1041.3 692.5 L1036 698 L1034.6 702.6 Q1036 706.5 1039 707 Q1044 706.5 1048 703.7 Q1052 701 1055.7 697 Q1060 692 1062.4 687 Q1064 682 1063.6 678 Q1063 673 1060.2 668 L1058 663.5 Z" fill="#fff" stroke="#1a1a1a" stroke-width="1.4" />
<path d="M1049.6 653 L1094.8 617.8 L1099.2 617.8 L1105.9 624 Q1110 628 1109.8 630.5 Q1109.5 634 1108.2 634.6 L1104.2 635.7 L1102.6 632.3 L1098 633.4 L1062.4 666.9 L1058 663.5 Z" fill="#fff" stroke="#1a1a1a" stroke-width="1.4" />
<path d="M1050.7 652.4 L1094.8 619 L1102.6 626.2 L1060.2 659.1 Z" fill="none" stroke="#1a1a1a" stroke-width="1" />
<circle cx="1056.0" cy="651.5" r="0.75" fill="#222"/>
<circle cx="1059.5" cy="648.8" r="0.75" fill="#222"/>
<circle cx="1063.1" cy="646.1" r="0.75" fill="#222"/>
<circle cx="1066.7" cy="643.4" r="0.75" fill="#222"/>
<circle cx="1070.2" cy="640.7" r="0.75" fill="#222"/>
<circle cx="1073.8" cy="638.0" r="0.75" fill="#222"/>
<circle cx="1077.3" cy="635.3" r="0.75" fill="#222"/>
<circle cx="1080.8" cy="632.6" r="0.75" fill="#222"/>
<circle cx="1084.4" cy="629.9" r="0.75" fill="#222"/>
<circle cx="1088.0" cy="627.2" r="0.75" fill="#222"/>
<circle cx="1091.5" cy="624.5" r="0.75" fill="#222"/>
<circle cx="1095.0" cy="621.8" r="0.75" fill="#222"/>
<circle cx="1058.6" cy="654.0" r="0.75" fill="#222"/>
<circle cx="1062.1" cy="651.3" r="0.75" fill="#222"/>
<circle cx="1065.7" cy="648.6" r="0.75" fill="#222"/>
<circle cx="1069.2" cy="645.9" r="0.75" fill="#222"/>
<circle cx="1072.8" cy="643.2" r="0.75" fill="#222"/>
<circle cx="1076.3" cy="640.5" r="0.75" fill="#222"/>
<circle cx="1079.9" cy="637.8" r="0.75" fill="#222"/>
<circle cx="1083.4" cy="635.1" r="0.75" fill="#222"/>
<circle cx="1087.0" cy="632.4" r="0.75" fill="#222"/>
<circle cx="1090.5" cy="629.7" r="0.75" fill="#222"/>
<circle cx="1094.1" cy="627.0" r="0.75" fill="#222"/>
<circle cx="1097.6" cy="624.3" r="0.75" fill="#222"/>
<circle cx="1061.2" cy="656.5" r="0.75" fill="#222"/>
<circle cx="1064.8" cy="653.8" r="0.75" fill="#222"/>
<circle cx="1068.3" cy="651.1" r="0.75" fill="#222"/>
<circle cx="1071.9" cy="648.4" r="0.75" fill="#222"/>
<circle cx="1075.4" cy="645.7" r="0.75" fill="#222"/>
<circle cx="1079.0" cy="643.0" r="0.75" fill="#222"/>
<circle cx="1082.5" cy="640.3" r="0.75" fill="#222"/>
<circle cx="1086.0" cy="637.6" r="0.75" fill="#222"/>
<circle cx="1089.6" cy="634.9" r="0.75" fill="#222"/>
<circle cx="1093.2" cy="632.2" r="0.75" fill="#222"/>
<circle cx="1096.7" cy="629.5" r="0.75" fill="#222"/>
<line x1="1065.0" y1="661.0" x2="1068.4" y2="658.3" stroke="#222" stroke-width="1.8" />
<line x1="1070.6" y1="656.4" x2="1074.0" y2="653.6999999999999" stroke="#222" stroke-width="1.8" />
<line x1="1076.2" y1="651.8" x2="1079.6000000000001" y2="649.0999999999999" stroke="#222" stroke-width="1.8" />
<line x1="1081.8" y1="647.2" x2="1085.2" y2="644.5" stroke="#222" stroke-width="1.8" />
<line x1="1087.4" y1="642.6" x2="1090.8000000000002" y2="639.9" stroke="#222" stroke-width="1.8" />
<line x1="1093.0" y1="638.0" x2="1096.4" y2="635.3" stroke="#222" stroke-width="1.8" />
<path d="M1060.2 659.1 L1061.5 664 M1102.6 626.2 L1102.6 632.3" fill="none" stroke="#1a1a1a" stroke-width="1" />
<path d="M1027 674.5 L1049.5 656.5 M1030.5 676 Q1040 665 1050.5 659 M1034 679 Q1042 669 1052.5 662" fill="none" stroke="#1a1a1a" stroke-width="0.9" />
<path d="M1049.6 653 Q1056 658 1059.5 665 Q1062.5 674 1061.5 682" fill="none" stroke="#888" stroke-width="0.8" />
<path d="M1043.2 684.2 Q1052.3 680.6 1056.2 671.8" fill="none" stroke="#1a1a1a" stroke-width="1.7" />
<path d="M1045.2 685.9 Q1054.0 682.6 1057.7 674.1" fill="none" stroke="#1a1a1a" stroke-width="1.7" />
<path d="M1047.2 687.6 Q1055.8 684.6 1059.2 676.4" fill="none" stroke="#1a1a1a" stroke-width="1.7" />
<path d="M1049.2 689.3 Q1057.5 686.6 1060.7 678.7" fill="none" stroke="#1a1a1a" stroke-width="1.7" />
<path d="M1051.2 691.0 Q1059.3 688.6 1062.2 681.0" fill="none" stroke="#1a1a1a" stroke-width="1.7" />
<path d="M1040.7 692.5 Q1047 689.5 1053 690 Q1058 688 1061.5 683" fill="none" stroke="#1a1a1a" stroke-width="1.1" />
<path d="M1040.7 692.5 Q1043 697 1043.5 702.5" fill="none" stroke="#1a1a1a" stroke-width="1" />
<path d="M1035.7 699.2 Q1039.5 700.5 1043 698.5" fill="none" stroke="#1a1a1a" stroke-width="1.1" />
<path d="M1035.5 703.5 Q1040 705.5 1044.5 702.5" fill="none" stroke="#1a1a1a" stroke-width="1.1" />
<circle cx="1049" cy="694.5" r="1.1" fill="#1a1a1a"/>
<path d="M1039 687 L1043.2 684.2" fill="none" stroke="#1a1a1a" stroke-width="1" />
<circle cx="1069.7" cy="686.6" r="1.2" fill="#444"/>
<path d="M1071.4 697 L1077 689 L1082 682.8 L1086.5 684.5 L1090.5 689.5 L1090 695 L1084 703.5 L1079 705.8 L1072 701.5 Z" fill="#fff" stroke="#1a1a1a" stroke-width="1.3" />
<path d="M1077 689 L1083.5 693.5 L1084 703.5 M1082 682.8 L1080.5 691.5 M1072.5 697.5 L1078.5 701.5 L1079 705.8 M1078.5 701.5 L1083 695" fill="none" stroke="#1a1a1a" stroke-width="1" />
<ellipse cx="1085" cy="688" rx="1.6" ry="2.2" fill="#333"/>
<ellipse cx="1080.5" cy="698" rx="1.6" ry="2" fill="#333"/>
<path d="M871 687 Q868 692 871.5 695.5 Q874 699 868 703" fill="none" stroke="#999" stroke-width="0.9" />
<path d="M889 688 Q884 692 886 697 Q887 703 879 709" fill="none" stroke="#999" stroke-width="0.9" />
<path d="M898 698 Q890 700 886 704 Q882 708 878.5 709.5" fill="none" stroke="#999" stroke-width="0.9" />
<path d="M893 733.5 Q898 728 905 729.5 Q914 731.5 920 726.5 Q924 724 927 724.5" fill="none" stroke="#999" stroke-width="0.9" />
<path d="M885.6 669.6 L894 660 L906 651.6 L927.6 636 L943.2 625.8 L949.2 625.2 L975.7 652.8 L973.3 660 L962.4 670.8 L954 682.8 L946.8 688.9 L937.2 705.7 L925.2 715.9 Z" fill="#fff" stroke="none" stroke-width="0" />
<path d="M885.6 669.6 Q889 663.5 894 660 L906 651.6 L927.6 636 L943.2 625.8 L949.2 625.2" fill="none" stroke="#1a1a1a" stroke-width="1.6" />
<path d="M888 670.5 Q891 665.5 895.5 662 L907 653.8 L928.5 638.3 L941 630" fill="none" stroke="#1a1a1a" stroke-width="0.9" />
<path d="M925.2 715.9 Q932 711.5 937.2 705.7 L946.8 688.9 L954 682.8 L962.4 670.8 L973.3 660 L975.7 652.8" fill="none" stroke="#1a1a1a" stroke-width="1.3" />
<path d="M949.2 625.2 L950.4 622.4 Q952 618.8 955 617.8 Q959 616.6 962.5 618.6 L966 621.2 Q975 629 981.5 640 Q985 646.5 983.2 649.6 Q981 652.2 977.6 652.6 L975.7 652.8 Q972 641 965 632.5 Q958 625 949.2 625.2 Z" fill="#fff" stroke="none" stroke-width="0" />
<path d="M950.4 622.4 Q952 618.8 955 617.8 Q959 616.6 962.5 618.6 L966 621.2 Q975 629 981.5 640 Q985 646.5 983.2 649.6 Q981 652.2 977.6 652.6" fill="none" stroke="#1a1a1a" stroke-width="1.4" />
<path d="M956.5 619.8 Q960 619 964 622.5 Q972.5 630 979 641 Q982 647 980.6 650.5" fill="none" stroke="#1a1a1a" stroke-width="1" />
<path d="M950.8 623.5 Q959.5 623.5 966.5 631.5 Q974 641 977.4 652.4" fill="none" stroke="#1a1a1a" stroke-width="1.4" />
<path d="M953.5 621 Q962 622 968.8 630 Q976 639.5 979.6 651.2" fill="none" stroke="#1a1a1a" stroke-width="1" />
<path d="M943.2 625.8 Q947 624.5 950 625.2 Q958 628.5 965 638.5 Q973 650 975.2 658.5" fill="none" stroke="#1a1a1a" stroke-width="1.8" />
<path d="M948.5 683.5 Q946 672 952 668 L968 655.5 Q973 653.5 975 657 M948.5 683.5 Q950 686.5 954 682.8" fill="none" stroke="#1a1a1a" stroke-width="1" />
<path d="M900 668.4 L927.6 646.8 L934.8 652.8 L908.4 674.4 Z" fill="#fff" stroke="#1a1a1a" stroke-width="1.2" />
<path d="M903 668.5 L927.5 649.5 L931.5 652.8 L907.8 671.8 Z" fill="#444" stroke="#1a1a1a" stroke-width="0.8" />
<path d="M907 668.5 L925 654.5" fill="none" stroke="#fff" stroke-width="1.4" stroke-dasharray="3 1.2"/>
<circle cx="927" cy="651.8" r="1.7" fill="#fff" stroke="#222" stroke-width="0.6"/>
<path d="M930 642 L946.8 630 L958.9 637.2 L942 651.6 Z" fill="#fff" stroke="#1a1a1a" stroke-width="1.3" />
<path d="M932.5 642.5 L946.5 632.5 L955.5 637.8 L942 649 Z" fill="#333" stroke="#1a1a1a" stroke-width="0.8" />
<path d="M938 640 L942 645 M943 636 L948 641.5 M946 634.5 L940 643" fill="none" stroke="#fff" stroke-width="1.2" />
<circle cx="948.5" cy="636.5" r="1.8" fill="#fff"/>
<path d="M934.8 652.8 L938 649.5 M899 667 L928 644.5 L931 641.5" fill="none" stroke="#1a1a1a" stroke-width="0.9" />
<ellipse cx="891.5" cy="666.5" rx="1.4" ry="0.90" transform="rotate(-42 891.5 666.5)" fill="none" stroke="#1a1a1a" stroke-width="0.8" />
<ellipse cx="894.9" cy="663.9" rx="1.4" ry="0.90" transform="rotate(-42 894.9 663.9)" fill="none" stroke="#1a1a1a" stroke-width="0.8" />
<ellipse cx="898.3" cy="661.3" rx="1.4" ry="0.90" transform="rotate(-42 898.3 661.3)" fill="none" stroke="#1a1a1a" stroke-width="0.8" />
<ellipse cx="901.7" cy="658.7" rx="1.4" ry="0.90" transform="rotate(-42 901.7 658.7)" fill="none" stroke="#1a1a1a" stroke-width="0.8" />
<ellipse cx="905.1" cy="656.1" rx="1.4" ry="0.90" transform="rotate(-42 905.1 656.1)" fill="none" stroke="#1a1a1a" stroke-width="0.8" />
<ellipse cx="921" cy="681.6" rx="6.6" ry="1.50" transform="rotate(62 921 681.6)" fill="none" stroke="#1a1a1a" stroke-width="1" />
<ellipse cx="921" cy="681.6" rx="5.2" ry="0.60" transform="rotate(62 921 681.6)" fill="none" stroke="#1a1a1a" stroke-width="0.7" />
<ellipse cx="925.4" cy="677.9" rx="6.6" ry="1.50" transform="rotate(62 925.4 677.9)" fill="none" stroke="#1a1a1a" stroke-width="1" />
<ellipse cx="925.4" cy="677.9" rx="5.2" ry="0.60" transform="rotate(62 925.4 677.9)" fill="none" stroke="#1a1a1a" stroke-width="0.7" />
<ellipse cx="929.6" cy="674.4" rx="6.6" ry="1.50" transform="rotate(62 929.6 674.4)" fill="none" stroke="#1a1a1a" stroke-width="1" />
<ellipse cx="929.6" cy="674.4" rx="5.2" ry="0.60" transform="rotate(62 929.6 674.4)" fill="none" stroke="#1a1a1a" stroke-width="0.7" />
<ellipse cx="933.4" cy="671.3" rx="6.6" ry="1.50" transform="rotate(62 933.4 671.3)" fill="none" stroke="#1a1a1a" stroke-width="1" />
<ellipse cx="933.4" cy="671.3" rx="5.2" ry="0.60" transform="rotate(62 933.4 671.3)" fill="none" stroke="#1a1a1a" stroke-width="0.7" />
<ellipse cx="906" cy="693" rx="30" ry="13.20" transform="rotate(49.5 906 693)" fill="#fff" stroke="#1a1a1a" stroke-width="1.6" />
<ellipse cx="907.6" cy="693.6" rx="27.3" ry="11.00" transform="rotate(49.5 907.6 693.6)" fill="none" stroke="#1a1a1a" stroke-width="1.3" />
<ellipse cx="906.8" cy="693.3" rx="28.8" ry="12.20" transform="rotate(49.5 906.8 693.3)" fill="none" stroke="#1a1a1a" stroke-width="0.7" />
<line x1="899" y1="691.5" x2="907" y2="684.5" stroke="#222" stroke-width="1.8" />
<line x1="902.5" y1="696" x2="911.5" y2="688.5" stroke="#222" stroke-width="1.8" />
<line x1="909.5" y1="702" x2="917" y2="696" stroke="#222" stroke-width="1.8" />
<line x1="914.5" y1="706.5" x2="921.5" y2="700" stroke="#222" stroke-width="1.8" />
<line x1="918.5" y1="710" x2="924" y2="704.5" stroke="#222" stroke-width="1.8" />
<path d="M907 684.5 L913 688 M911.5 688.5 L916 691.5 M917 696 L920 698" fill="none" stroke="#1a1a1a" stroke-width="0.8" />
<circle cx="889" cy="670" r="0.9" fill="#1a1a1a"/>
<path d="M952.5 689.5 L958 683 L964 681.5 L968.5 687 L969.5 694 L965 699 L958 699.5 L954 696 Z" fill="#fff" stroke="#1a1a1a" stroke-width="1.2" />
<path d="M955 690 L959.5 685 L964 684 L966.5 688.5 L967 693.5 L963.5 697 L958.5 697 Z" fill="#333" stroke="#1a1a1a" stroke-width="0.8" />
<path d="M958 687.5 L964 686.5 M957.5 691.5 L965 690.5 M959 695 L964.5 694" fill="none" stroke="#fff" stroke-width="1" />
<path d="M952.5 689.5 L951.5 686 L954 683.5 M967 697.5 Q970 699.5 972.5 698 Q974 696.5 976 697.5" fill="none" stroke="#1a1a1a" stroke-width="0.8" />
<path d="M975 686.5 L979 688 M976 688.5 L981 690.5 M978.5 686.5 L982.5 689" fill="none" stroke="#444" stroke-width="1.3" />
<path d="M960 704.2 Q962.2 706 961.6 708.3 Q960 709.8 958.4 708.3 Q957.8 706 960 704.2 Z" fill="#111"/>
<line x1="953" y1="692" x2="958.5" y2="704" stroke="#444" stroke-width="0.7" stroke-dasharray="4 1.5 1 1.5"/>
<path d="M952.8 721.3 L967 708 Q968.5 707 970 707.8 L983 714.5 Q984.5 715.8 983.5 717 Q976 727 967 733 Q965.5 733.8 964 733 L954 725 Q952.3 723 952.8 721.3 Z" fill="#fff" stroke="#1a1a1a" stroke-width="1.4" />
<path d="M955.5 721.8 L967.5 710.5 L980.5 716.5 Q974 725.5 966 730.5 Z" fill="none" stroke="#1a1a1a" stroke-width="0.9" />
<path d="M959 718.5 L970 711.8 M960.5 720 L971.5 713" fill="none" stroke="#999" stroke-width="0.8" />
<circle cx="967" cy="720" r="1" fill="#1a1a1a"/>
<circle cx="961.5" cy="726.5" r="1.8" fill="#222"/>
<path d="M954 725 L964 733" fill="none" stroke="#222" stroke-width="2" />
<path d="M966 737 Q968 738.8 967.5 741 Q966 742.4 964.5 741 Q964 738.8 966 737 Z" fill="#111"/>
<line x1="966" y1="733.5" x2="966" y2="737" stroke="#444" stroke-width="0.7" />
<ellipse cx="882.5" cy="722.5" rx="17.5" ry="8.00" transform="rotate(48 882.5 722.5)" fill="#fff" stroke="#1a1a1a" stroke-width="1.2" />
<ellipse cx="879.5" cy="717.5" rx="22" ry="10.00" transform="rotate(48 879.5 717.5)" fill="#fff" stroke="#1a1a1a" stroke-width="1.3" />
<path d="M894.2208733398949 733.8491861605027 L865.2208733398949 760.3491861605027 L835.7791266601051 727.6508138394973 L864.7791266601051 701.1508138394973 Z" fill="#fff" stroke="none" stroke-width="0" />
<line x1="894.2" y1="733.8" x2="865.2" y2="760.3" stroke="#1a1a1a" stroke-width="1.3" />
<line x1="864.8" y1="701.2" x2="835.8" y2="727.7" stroke="#1a1a1a" stroke-width="1.3" />
<ellipse cx="879.5" cy="717.5" rx="22" ry="10.00" transform="rotate(48 879.5 717.5)" fill="#fff" stroke="none" stroke-width="0" />
<path d="M864.8 701.2 L865.9 700.4 L867.2 700.0 L868.7 699.8 L870.5 700.0 L872.3 700.5 L874.3 701.2 L876.4 702.2 L878.6 703.5 L880.7 705.1 L882.9 706.8 L884.9 708.7 L886.9 710.8 L888.8 713.0 L890.5 715.3 L892.0 717.6 L893.3 719.9 L894.4 722.1 L895.2 724.3 L895.7 726.4 L896.0 728.3 L895.9 730.0 L895.6 731.6 L895.1 732.8 L894.2 733.8" fill="none" stroke="#1a1a1a" stroke-width="1.3" />
<path d="M864.0 702.4 L865.3 702.2 L866.8 702.2 L868.4 702.4 L870.1 702.8 L871.9 703.6 L873.8 704.5 L875.8 705.6 L877.7 707.0 L879.7 708.5 L881.6 710.2 L883.4 712.0 L885.2 713.9 L886.8 715.9 L888.3 718.0 L889.6 720.1 L890.8 722.2 L891.8 724.2 L892.5 726.2 L893.1 728.1 L893.4 729.9 L893.5 731.5 L893.3 733.0 L893.0 734.3 L892.4 735.4" fill="none" stroke="#1a1a1a" stroke-width="0.9" />
<path d="M873.5 709 L877 706.5 L880.5 709.5 M879 714 L883.5 711 L886.5 714.5 L885.5 720.5 M886.5 714.5 L891 722" fill="none" stroke="#1a1a1a" stroke-width="1" />
<rect x="879.5" y="712" width="4" height="6.5" transform="rotate(-42 881.5 715)" fill="#fff" stroke="#1a1a1a" stroke-width="0.9"/>
<circle cx="889" cy="736.5" r="1.4" fill="#222"/>
<path d="M862 704.4 L866.2 702.3 L869.5 703.5 L869 707 M860 706 L864 703.5" fill="none" stroke="#1a1a1a" stroke-width="1" />
<ellipse cx="867" cy="704.5" rx="1.4" ry="1.00" transform="rotate(48 867 704.5)" fill="none" stroke="#1a1a1a" stroke-width="0.8" />
<line x1="845.5" y1="725" x2="868" y2="705" stroke="#1a1a1a" stroke-width="0.9" />
<line x1="852" y1="729" x2="874.5" y2="708.8" stroke="#1a1a1a" stroke-width="0.9" />
<line x1="864.2" y1="742.5" x2="883.5" y2="725.5" stroke="#1a1a1a" stroke-width="0.9" />
<circle cx="859.8" cy="713.6" r="0.8" fill="#1a1a1a"/>
<ellipse cx="850.5" cy="744" rx="22" ry="10.00" transform="rotate(48 850.5 744)" fill="#fff" stroke="#1a1a1a" stroke-width="1.5" />
<ellipse cx="851.3" cy="744.3" rx="19.5" ry="8.40" transform="rotate(48 851.3 744.3)" fill="none" stroke="#1a1a1a" stroke-width="1" />
<path d="M829.3 735.5 Q831 731 836 730.5 L849 734 Q852.5 735.5 852 738.5 L846.5 741.5 Q843.5 737.5 839.5 739 Q836 741.5 838 747 L843.5 755.5 L840.5 757 Q833 751 829.5 742 Q828.5 738 829.3 735.5 Z" fill="#fff" stroke="#1a1a1a" stroke-width="1.3" />
<path d="M832 736 Q834.5 733.5 838 734 L848 737 M832 736 Q831 741 834.5 747.5 L840.5 757" fill="none" stroke="#1a1a1a" stroke-width="0.9" />
<path d="M847.5 742.5 Q852.5 740.5 857 745 Q861.5 751 860.5 757 L857.5 761.5 Q855 763 852.5 761.5 Q851.5 759 853.5 757 Q856 753.5 853.5 749.5 Q851 746 847.5 746 Z" fill="#fff" stroke="#1a1a1a" stroke-width="1.2" />
<path d="M850 746.5 Q854.5 747.5 856.5 752 Q858 756.5 855.5 760" fill="none" stroke="#1a1a1a" stroke-width="0.8" />
<path d="M838 747 L846 743 L849.5 749.5 L843.5 755.5 M846 743 L843.5 737.8" fill="none" stroke="#1a1a1a" stroke-width="1.1" />
<path d="M843.5 752.5 L851.5 746.5 M845 754 L853 748" fill="none" stroke="#1a1a1a" stroke-width="0.9" />
<ellipse cx="855.5" cy="760.5" rx="2.2" ry="1.60" transform="rotate(48 855.5 760.5)" fill="#fff" stroke="#1a1a1a" stroke-width="1" />
<path d="M803.5 756 Q806 751.5 812 751.8 Q823 753.5 833 764 Q841 774 841 783 Q840.5 788.5 835 789 Q826 788.5 817.5 781.5 L813.5 777.5 L810.5 779 Q805 771 803.5 762 Z" fill="#fff" stroke="#1a1a1a" stroke-width="1.5" />
<path d="M805 754 Q808.5 750 814 750.5 Q825 752.5 834.5 762.5 Q842.5 772.5 842.5 781.5 Q842.3 786 840.5 787.3" fill="none" stroke="#1a1a1a" stroke-width="1" />
<path d="M806.5 757.5 Q809 754.5 813.5 755 Q822.5 757 831 766 Q837.5 774.5 837.5 782 Q837 785.5 833.5 785.8" fill="none" stroke="#999" stroke-width="0.7" />
<ellipse cx="824.3" cy="768.6" rx="13.3" ry="6.40" transform="rotate(41 824.3 768.6)" fill="#fff" stroke="#1a1a1a" stroke-width="1.4" />
<path d="M817.5 759.2 L818.2 759.1 L819.0 759.1 L819.9 759.2 L820.8 759.4 L821.7 759.6 L822.7 760.0 L823.8 760.5 L824.8 761.0 L825.9 761.7 L826.9 762.4 L828.0 763.1 L829.0 764.0 L829.9 764.9 L830.8 765.8 L831.7 766.7 L832.5 767.7 L833.2 768.6 L833.8 769.6 L834.3 770.5 L834.7 771.4 L835.0 772.3 L835.2 773.2 L835.3 773.9 L835.3 774.7" fill="none" stroke="#1a1a1a" stroke-width="0.9" />
<circle cx="806.3" cy="758" r="0.8" fill="#1a1a1a"/>
<line x1="803.2" y1="737.7" x2="828.4" y2="714.4" stroke="#111" stroke-width="2.2" />
<ellipse cx="803.2" cy="737.7" rx="2.8" ry="1.5" transform="rotate(47 803.2 737.7)" fill="#111"/>
<line x1="815.0" y1="726.8499999999999" x2="816.5999999999999" y2="725.25" stroke="#fff" stroke-width="0.6" />
<line x1="830.5" y1="811.3" x2="856" y2="787.2" stroke="#111" stroke-width="2.2" />
<ellipse cx="830.5" cy="811.3" rx="2.8" ry="1.5" transform="rotate(47 830.5 811.3)" fill="#111"/>
<line x1="842.45" y1="800.05" x2="844.05" y2="798.45" stroke="#fff" stroke-width="0.6" />
<path d="M112 306 L106.5 302.9 Q103 301 100.0 303.7 L49.0 349.3 Q46 352 46.8 355.9 L46.2 353.1 Q47 357 50.5 359.0 L297.5 501.0 Q301 503 298.3 506.0 L245.7 565.0 Q243 568 239.5 566.0 L99 487" class="dd"/>
<path d="M166 338 L200 357" class="dd"/>
<path d="M241 381.5 L249 386.2 M276 401.5 L303 416.5 M331 432.5 L388 452.5" class="dd"/>
<path d="M131 317 L141 322.5" class="dd"/>
<path d="M303 491.7 L312.5 497" class="dd"/>
<path d="M388 452 L388.3 452.5 Q390 455 390.0 458.0 L390.0 511.0 Q390 514 387.9 516.1 L338.1 564.9 Q336 567 336.0 570.0 L336.0 597.0 Q336 600 338.6 601.5 L372 620" class="dd"/>
<path d="M376 368 L374.2 372.2 Q373 375 375.6 376.5 L400 390" class="dd"/>
<path d="M447 362.5 L459 369" class="dd"/>
<path d="M485 383.5 L487.7 385.6 Q490 387.5 487.9 389.6 L463 415" class="dd"/>
<path d="M497 349 L515.5 394.8 Q517 398.5 513.4 400.2 L440.1 434.8 Q436.5 436.5 437.4 440.4 L437.1 439.1 Q438 443 441.5 445.0 L488.5 471.5 Q492 473.5 495.0 470.8 L547.0 424.7 Q550 422 553.9 422.8 L555 423" class="dd"/>
<path d="M472 446 L521.3 425.1 Q525 423.5 526.6 427.2 L564 512" class="dd"/>
<path d="M612 456 L620 460.5 M628 465 L633 468 M652 480 L666 488.5" class="dd"/>
<path d="M367 529 L381 536" class="dd"/>
<path d="M429 565 L454 578.5" class="dd"/>
<path d="M497 499 L507 504.5 M480 514 L522 537 M463 538 L474 544" class="dd"/>
<path d="M484 597 L488 599.5 M504 608 L509 611" class="dd"/>
<path d="M514 538 L571.6 570.5 Q576 573 572.4 576.5 L468.6 679.5 Q465 683 469.2 685.7 L495.8 703.3 Q500 706 504.3 708.6 L518 717" class="dd"/>
<path d="M518 717 L550 735.5 M588 757 L592 759.5 M606 768 L620 776 M646 791 L655 796 M672 806 L677 809 M694 819 L698 821 M706 826 L728 839 M752 852.5 L759 856.5" class="dd"/>
<path d="M766 861 L765.5 860.8 Q770 863 773.3 859.2 L801.7 826.8 Q805 823 800.7 820.4 L541.3 664.6 Q537 662 540.7 658.7 L611 596" class="dd"/>
<path d="M863 425.5 L863.8 425.0 Q869 422 874.2 425.0 L927.8 456.0 Q933 459 928.7 463.1 L673.3 705.9 Q669 710 674.1 713.1 L792.9 785.9 Q798 789 802.8 785.4 L815 776" class="dd"/>
<path d="M699 577 L704 572.5 M713 564 L717 560 M733 545 L740 538.5 M745 534 L756 524" class="dd"/>
<path d="M828 457 L833 452.5 M843 443.5 L846 440.5 M854 433 L857 430.5" class="dd"/>
<path d="M694 611 C700 603 704 606 712 611 S724 618 729 609" class="dd"/>
<path d="M822 769 L838 753 M880 716 L892 705 M968 636 L1019 587" class="dd"/>
<path d="M980 656 L1041 691" class="dd"/>
<path d="M829 713.5 L832.2 711.9 Q834 711 834.8 712.8 L840 724" class="dd"/>
<path d="M857 787 L852 759" class="dd"/>
<path d="M1021 556.5 L1013.2 563.0 Q1012 564 1013.2 564.8 L1024 572" class="dd"/>
<path d="M1047 583.5 L1040.4 581.0 Q1039 580.5 1037.9 581.5 L1032 587" class="dd"/>
<path d="M1071 687.5 L1082 690.5" class="dd"/>
<path d="M913 571 L936 612 M925 591.5 L943 625" class="dd"/>
<path d="M505.5 685.5 L519 693.5 M507.5 702.5 L513 705.5 M483 706 L497 714 M489 726 L496 730" class="dd"/>
<path d="M879 598.5 L937 632" class="dd"/>
<text x="169" y="260.9" class="lb" textLength="4.3" lengthAdjust="spacingAndGlyphs">5</text>
<path d="M180 263.5 L160 263.5 L122 310" class="ld"/>
<text x="227.6" y="294.0" class="lb" textLength="4.3" lengthAdjust="spacingAndGlyphs">6</text>
<path d="M238 296.6 L218 296.6 L186 325" class="ld"/>
<text x="271.6" y="327.79999999999995" class="lb" textLength="4.3" lengthAdjust="spacingAndGlyphs">7</text>
<path d="M282.4 330.4 L262 330.4 L235 378" class="ld"/>
<text x="336" y="385.7" class="lb" textLength="4.3" lengthAdjust="spacingAndGlyphs">8</text>
<path d="M347 388.3 L326 388.3 L314 418" class="ld"/>
<text x="343" y="359.7" class="lb" textLength="4.3" lengthAdjust="spacingAndGlyphs">9</text>
<path d="M334 362.3 L354 362.3 L375 413" class="ld"/>
<text x="357" y="332.9" class="lb" textLength="9.0" lengthAdjust="spacingAndGlyphs">10</text>
<path d="M347.5 335.5 L367 335.5 L378 358" class="ld"/>
<text x="371.5" y="302.7" class="lb" textLength="9.0" lengthAdjust="spacingAndGlyphs">11</text>
<path d="M362 305.3 L381.5 305.3 L402 326" class="ld"/>
<text x="446.4" y="303.0" class="lb" textLength="9.0" lengthAdjust="spacingAndGlyphs">12</text>
<path d="M437 305.6 L456.6 305.6 L477 322" class="ld"/>
<text x="528" y="359.7" class="lb" textLength="9.0" lengthAdjust="spacingAndGlyphs">13</text>
<path d="M538.3 362.3 L518 362.3 L496 346" class="ld"/>
<text x="556.5" y="388.4" class="lb" textLength="9.0" lengthAdjust="spacingAndGlyphs">14</text>
<path d="M547.3 391 L567 391 L574.5 432" class="ld"/>
<text x="606" y="410.4" class="lb" textLength="9.0" lengthAdjust="spacingAndGlyphs">15</text>
<path d="M596 413 L615.5 413 L627 460" class="ld"/>
<text x="662" y="445.79999999999995" class="lb" textLength="9.0" lengthAdjust="spacingAndGlyphs">16</text>
<path d="M672.4 448.4 L652.4 448.4 L641.6 467" class="ld"/>
<text x="618.6" y="501.0" class="lb" textLength="9.0" lengthAdjust="spacingAndGlyphs">17</text>
<path d="M609 503.6 L630 503.6 L668 493" class="ld"/>
<text x="697.6" y="343.4" class="lb" textLength="9.0" lengthAdjust="spacingAndGlyphs">74</text>
<path d="M708 346 L688 346 L665 365" class="ld"/>
<text x="16.4" y="543.4" class="lb" textLength="4.3" lengthAdjust="spacingAndGlyphs">1</text>
<path d="M6 546 L26 546 L37 529.6" class="ld"/>
<text x="35" y="560.8" class="lb" textLength="4.3" lengthAdjust="spacingAndGlyphs">2</text>
<path d="M25.6 563.4 L45.6 563.4 L46.4 534" class="ld"/>
<text x="75" y="581.8" class="lb" textLength="4.3" lengthAdjust="spacingAndGlyphs">3</text>
<path d="M65.6 584.4 L86.4 584.4 L98.4 508" class="ld"/>
<text x="108.6" y="597.8" class="lb" textLength="4.3" lengthAdjust="spacingAndGlyphs">4</text>
<path d="M99.6 600.4 L120 600.4 L149 575" class="ld"/>
<text x="582" y="469.79999999999995" class="lb" textLength="9.0" lengthAdjust="spacingAndGlyphs">18</text>
<path d="M592.4 472.4 L573 472.4 L558 481" class="ld"/>
<text x="528" y="466.4" class="lb" textLength="9.0" lengthAdjust="spacingAndGlyphs">19</text>
<path d="M538.4 469 L518.4 469 L499 498" class="ld"/>
<text x="588" y="542.4" class="lb" textLength="9.0" lengthAdjust="spacingAndGlyphs">20</text>
<path d="M599 545 L578.5 545 L564.4 516" class="ld"/>
<text x="436" y="612.0" class="lb" textLength="9.0" lengthAdjust="spacingAndGlyphs">21</text>
<path d="M446.4 614.6 L426 614.6 L419 564" class="ld"/>
<text x="315.6" y="696.4" class="lb" textLength="9.0" lengthAdjust="spacingAndGlyphs">22</text>
<path d="M306 699 L326.4 699 L394 647" class="ld"/>
<text x="390" y="735.4" class="lb" textLength="9.0" lengthAdjust="spacingAndGlyphs">23</text>
<path d="M380.4 738 L401 738 L474 719" class="ld"/>
<text x="452" y="768.4" class="lb" textLength="9.0" lengthAdjust="spacingAndGlyphs">24</text>
<path d="M442.4 771 L463 771 L495 743" class="ld"/>
<text x="493.6" y="787.4" class="lb" textLength="9.0" lengthAdjust="spacingAndGlyphs">25</text>
<path d="M484 790 L504.4 790 L564 752" class="ld"/>
<text x="531" y="806.0" class="lb" textLength="9.0" lengthAdjust="spacingAndGlyphs">26</text>
<path d="M521.6 808.6 L542 808.6 L590 770" class="ld"/>
<text x="559" y="821.4" class="lb" textLength="9.0" lengthAdjust="spacingAndGlyphs">27</text>
<path d="M549.6 824 L569.6 824 L617 798" class="ld"/>
<text x="584" y="835.4" class="lb" textLength="9.0" lengthAdjust="spacingAndGlyphs">28</text>
<path d="M574.4 838 L595 838 L656 804" class="ld"/>
<text x="629" y="858.8" class="lb" textLength="9.0" lengthAdjust="spacingAndGlyphs">29</text>
<path d="M619.6 861.4 L640 861.4 L695 832" class="ld"/>
<text x="654.4" y="869.6999999999999" class="lb" textLength="9.0" lengthAdjust="spacingAndGlyphs">30</text>
<path d="M644.4 872.3 L665 872.3 L707 840" class="ld"/>
<text x="678.4" y="880.4" class="lb" textLength="9.0" lengthAdjust="spacingAndGlyphs">31</text>
<path d="M669 883 L689 883 L710 841" class="ld"/>
<text x="699" y="890.9" class="lb" textLength="9.0" lengthAdjust="spacingAndGlyphs">32</text>
<path d="M690 893.5 L710 893.5 L726.3 830" class="ld"/>
<text x="721.5" y="902.4" class="lb" textLength="9.0" lengthAdjust="spacingAndGlyphs">33</text>
<path d="M712.3 905 L732.3 905 L740.5 863" class="ld"/>
<text x="743" y="912.4" class="lb" textLength="9.0" lengthAdjust="spacingAndGlyphs">34</text>
<path d="M733.5 915 L754 915 L762 860" class="ld"/>
<text x="522" y="669.0" class="lb" textLength="4.3" lengthAdjust="spacingAndGlyphs">2</text>
<path d="M532.4 671.6 L512.4 671.6 L503 684" class="ld"/>
<text x="553.6" y="689.4" class="lb" textLength="9.0" lengthAdjust="spacingAndGlyphs">20</text>
<path d="M564.4 692 L544 692 L536 697" class="ld"/>
<text x="568.4" y="618.0" class="lb" textLength="9.0" lengthAdjust="spacingAndGlyphs">35</text>
<path d="M559 620.6 L579.4 620.6 L614 641" class="ld"/>
<text x="586" y="596.0" class="lb" textLength="9.0" lengthAdjust="spacingAndGlyphs">36</text>
<path d="M577 598.6 L597 598.6 L613 600.4" class="ld"/>
<text x="603" y="579.8" class="lb" textLength="9.0" lengthAdjust="spacingAndGlyphs">37</text>
<path d="M593.6 582.4 L613.6 582.4 L629 603" class="ld"/>
<text x="624" y="564.4" class="lb" textLength="9.0" lengthAdjust="spacingAndGlyphs">38</text>
<path d="M614.4 567 L635 567 L653 581" class="ld"/>
<text x="641.6" y="548.4" class="lb" textLength="9.0" lengthAdjust="spacingAndGlyphs">39</text>
<path d="M632 551 L652.4 551 L686 589" class="ld"/>
<text x="657.5" y="532.4" class="lb" textLength="9.0" lengthAdjust="spacingAndGlyphs">40</text>
<path d="M648.2 535 L667.8 535 L693.5 574" class="ld"/>
<text x="673.4" y="518.0" class="lb" textLength="9.0" lengthAdjust="spacingAndGlyphs">41</text>
<path d="M664.2 520.6 L683.7 520.6 L703.8 561.6" class="ld"/>
<text x="688.9" y="503.9" class="lb" textLength="9.0" lengthAdjust="spacingAndGlyphs">42</text>
<path d="M679.6 506.5 L699.2 506.5 L717.7 540" class="ld"/>
<text x="704.3" y="489.7" class="lb" textLength="9.0" lengthAdjust="spacingAndGlyphs">43</text>
<path d="M695 492.3 L714 492.3 L735.2 531.7" class="ld"/>
<text x="741.6" y="456.4" class="lb" textLength="9.0" lengthAdjust="spacingAndGlyphs">44</text>
<path d="M732.4 459 L752 459 L791 482" class="ld"/>
<text x="767" y="432.4" class="lb" textLength="9.0" lengthAdjust="spacingAndGlyphs">45</text>
<path d="M757.6 435 L777.6 435 L815 458" class="ld"/>
<text x="803" y="430.4" class="lb" textLength="9.0" lengthAdjust="spacingAndGlyphs">36</text>
<path d="M793.6 433 L813 433 L834 445" class="ld"/>
<text x="791.6" y="408.0" class="lb" textLength="9.0" lengthAdjust="spacingAndGlyphs">46</text>
<path d="M782 410.6 L802 410.6 L848 432" class="ld"/>
<text x="804.4" y="389.79999999999995" class="lb" textLength="9.0" lengthAdjust="spacingAndGlyphs">47</text>
<path d="M795 392.4 L815 392.4 L858 425" class="ld"/>
<text x="777.6" y="639.8" class="lb" textLength="9.0" lengthAdjust="spacingAndGlyphs">48</text>
<path d="M788.4 642.4 L768 642.4 L743 624" class="ld"/>
<text x="747" y="665.8" class="lb" textLength="9.0" lengthAdjust="spacingAndGlyphs">49</text>
<path d="M758 668.4 L737.6 668.4 L699 645" class="ld"/>
<text x="714.4" y="696.4" class="lb" textLength="9.0" lengthAdjust="spacingAndGlyphs">50</text>
<path d="M725 699 L705 699 L680 634" class="ld"/>
<text x="761" y="740.8" class="lb" textLength="9.0" lengthAdjust="spacingAndGlyphs">51</text>
<path d="M751.6 743.4 L771.6 743.4 L803 756" class="ld"/>
<text x="783" y="720.4" class="lb" textLength="9.0" lengthAdjust="spacingAndGlyphs">52</text>
<path d="M773.6 723 L793.6 723 L808 731" class="ld"/>
<text x="811" y="693.4" class="lb" textLength="9.0" lengthAdjust="spacingAndGlyphs">53</text>
<path d="M801.6 696 L821.6 696 L860 713.6" class="ld"/>
<text x="833" y="676.4" class="lb" textLength="9.0" lengthAdjust="spacingAndGlyphs">54</text>
<path d="M824 679 L844.4 679 L889 670" class="ld"/>
<text x="847" y="660.0" class="lb" textLength="9.0" lengthAdjust="spacingAndGlyphs">55</text>
<path d="M838 662.6 L858 662.6 L940 621" class="ld"/>
<text x="862.6" y="642.4" class="lb" textLength="9.0" lengthAdjust="spacingAndGlyphs">56</text>
<path d="M853.6 645 L873.6 645 L934 612" class="ld"/>
<text x="875.6" y="625.4" class="lb" textLength="9.0" lengthAdjust="spacingAndGlyphs">57</text>
<path d="M866 628 L886 628 L917 611" class="ld"/>
<text x="844" y="612.4" class="lb" textLength="9.0" lengthAdjust="spacingAndGlyphs">58</text>
<path d="M834.4 615 L855 615 L928 603.6" class="ld"/>
<text x="821.6" y="589.4" class="lb" textLength="9.0" lengthAdjust="spacingAndGlyphs">59</text>
<path d="M812.4 592 L833 592 L854 581" class="ld"/>
<text x="888" y="530.8" class="lb" textLength="9.0" lengthAdjust="spacingAndGlyphs">60</text>
<path d="M898.5 533.4 L878.5 533.4 L877 544" class="ld"/>
<text x="946.6" y="556.4" class="lb" textLength="9.0" lengthAdjust="spacingAndGlyphs">61</text>
<path d="M957 559 L937 559 L931 572" class="ld"/>
<text x="951.4" y="582.4" class="lb" textLength="9.0" lengthAdjust="spacingAndGlyphs">62</text>
<path d="M942.4 585 L961.6 585 L968 603" class="ld"/>
<text x="974.4" y="573.4" class="lb" textLength="9.0" lengthAdjust="spacingAndGlyphs">63</text>
<path d="M965 576 L985 576 L991 586" class="ld"/>
<text x="995.6" y="566.4" class="lb" textLength="9.0" lengthAdjust="spacingAndGlyphs">64</text>
<path d="M986 569 L1006 569 L1016 574" class="ld"/>
<text x="1043.5" y="542.4" class="lb" textLength="9.0" lengthAdjust="spacingAndGlyphs">65</text>
<path d="M1054.3 545 L1034 545 L1025 552" class="ld"/>
<text x="1065.3" y="561.4" class="lb" textLength="9.0" lengthAdjust="spacingAndGlyphs">66</text>
<path d="M1056.3 564 L1076.3 564 L1102 557.5" class="ld"/>
<text x="1089" y="581.6999999999999" class="lb" textLength="9.0" lengthAdjust="spacingAndGlyphs">67</text>
<path d="M1100 584.3 L1080 584.3 L1058 606" class="ld"/>
<text x="1059.3" y="590.6999999999999" class="lb" textLength="9.0" lengthAdjust="spacingAndGlyphs">60</text>
<path d="M1071 593.3 L1050 593.3 L1047 599" class="ld"/>
<text x="1112.3" y="609.4" class="lb" textLength="9.0" lengthAdjust="spacingAndGlyphs">68</text>
<path d="M1122 612 L1103 612 L1090 606" class="ld"/>
<text x="1062.5" y="630.9" class="lb" textLength="9.0" lengthAdjust="spacingAndGlyphs">69</text>
<path d="M1073 633.5 L1053 633.5 L1046 628" class="ld"/>
<text x="1016.6" y="686.4" class="lb" textLength="9.0" lengthAdjust="spacingAndGlyphs">70</text>
<path d="M1027.4 689 L1007.2 689 L1001 663" class="ld"/>
<text x="1015" y="724.6" class="lb" textLength="9.0" lengthAdjust="spacingAndGlyphs">71</text>
<path d="M1005.5 727.2 L1026 727.2 L1042.3 703.2" class="ld"/>
<text x="1051.8" y="724.6" class="lb" textLength="9.0" lengthAdjust="spacingAndGlyphs">72</text>
<path d="M1042.8 727.2 L1063 727.2 L1069.8 687.8" class="ld"/>
<text x="1101" y="724.6" class="lb" textLength="9.0" lengthAdjust="spacingAndGlyphs">73</text>
<path d="M1111.5 727.2 L1090.9 727.2 L1081.8 702.3" class="ld"/>
<path d="M886 610 L913 571" class="ld"/>
<text x="977.1" y="458.6" class="t59" textLength="28.8" lengthAdjust="spacingAndGlyphs">59.C</text>
<path d="M934.3 518.7 L979.3 471.7" fill="none" stroke="#000" stroke-width="6.2" stroke-linecap="butt"/>
<path d="M977.3 470.5 L1015.6 470.5" fill="none" stroke="#000" stroke-width="4.9" stroke-linecap="round"/>
<path d="M975.2 472.9 L978.5 468.1 L983 470.5 Z" fill="#000"/>
<path d="M982 473 L1153.5 573.2" fill="none" stroke="#000" stroke-width="6.6" stroke-linecap="butt"/>
<path d="M1154.5 572 L1108.6 624.4" fill="none" stroke="#000" stroke-width="5" stroke-linecap="butt"/>
<path d="M1150 567.5 L1158.5 575.8 L1152 577.5 Z" fill="#000"/>
</svg>
</body></html>
